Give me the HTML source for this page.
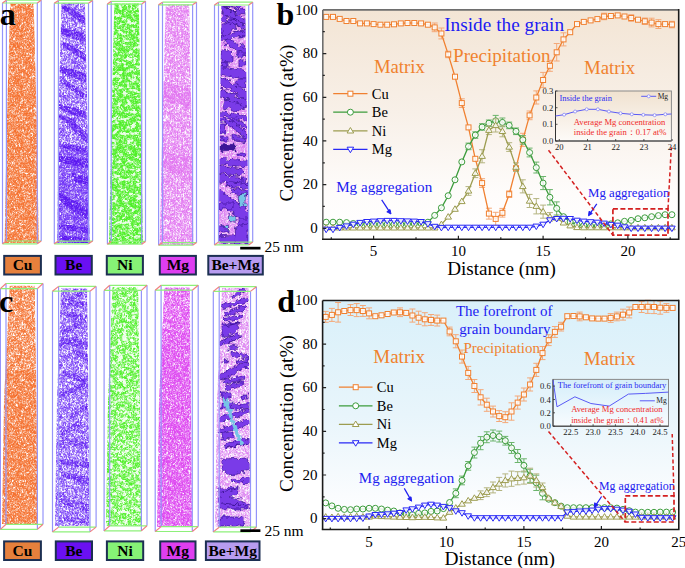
<!DOCTYPE html>
<html><head><meta charset="utf-8"><style>
html,body{margin:0;padding:0;background:#fff;width:685px;height:568px;overflow:hidden}
svg{display:block;font-family:"Liberation Serif",serif}
</style></head><body>
<svg width="685" height="568" viewBox="0 0 685 568">
<defs>
<linearGradient id="gb" x1="0" y1="0" x2="0" y2="1">
 <stop offset="0" stop-color="#f3e5d5"/><stop offset="0.45" stop-color="#f8f0e8"/><stop offset="0.8" stop-color="#fefcfb"/><stop offset="1" stop-color="#ffffff"/>
</linearGradient>
<linearGradient id="gd" x1="0" y1="0" x2="0" y2="1">
 <stop offset="0" stop-color="#d9f0fa"/><stop offset="0.5" stop-color="#e8f5fb"/><stop offset="0.85" stop-color="#fafcfe"/><stop offset="1" stop-color="#ffffff"/>
</linearGradient>
<linearGradient id="gbi" x1="0" y1="0" x2="0" y2="1">
 <stop offset="0" stop-color="#f0e2d0"/><stop offset="1" stop-color="#fdfbf8"/>
</linearGradient>
<linearGradient id="gdi" x1="0" y1="0" x2="0" y2="1">
 <stop offset="0" stop-color="#d5eefa"/><stop offset="1" stop-color="#f8fcfe"/>
</linearGradient>
<filter id="spw" x="0" y="0" width="100%" height="100%" color-interpolation-filters="sRGB">
 <feTurbulence type="fractalNoise" baseFrequency="0.55" numOctaves="2" seed="3"/>
 <feColorMatrix type="matrix" values="0 0 0 0 1  0 0 0 0 1  0 0 0 0 1  5 0 0 0 -2.0"/>
 <feGaussianBlur stdDeviation="0.35"/>
</filter>
<filter id="spn" x="0" y="0" width="100%" height="100%" color-interpolation-filters="sRGB">
 <feTurbulence type="fractalNoise" baseFrequency="0.22 0.28" numOctaves="3" seed="8"/>
 <feColorMatrix type="matrix" values="0 0 0 0 1  0 0 0 0 1  0 0 0 0 1  7 0 0 0 -3.7"/>
 <feGaussianBlur stdDeviation="0.5"/>
</filter>
<filter id="bl" x="-2%" y="-2%" width="104%" height="104%"><feGaussianBlur stdDeviation="0.45"/></filter>
<filter id="wob" x="-5%" y="-5%" width="110%" height="110%">
 <feTurbulence type="fractalNoise" baseFrequency="0.22" numOctaves="2" seed="4"/>
 <feDisplacementMap in="SourceGraphic" scale="7" xChannelSelector="R" yChannelSelector="G"/>
</filter>
<pattern id="P1" patternUnits="userSpaceOnUse" width="48" height="52"><path d="M6.4 44.1h.8M36.7 13.3h.8M23.8 23.4h.8M31.3 41.0h.8M4.5 1.5h.8M40.1 22.5h.8M36.6 0.1h.8M21.4 37.5h.8M11.0 49.2h.8M43.3 1.6h.8M1.2 28.2h.8M45.1 19.8h.8M10.4 22.0h.8M1.4 11.5h.8M21.0 25.8h.8M11.2 12.0h.8M10.5 23.9h.8M13.9 1.1h.8M40.2 28.9h.8M30.8 9.7h.8M47.6 44.7h.8M5.8 17.3h.8M34.6 37.0h.8M44.9 21.9h.8M39.8 34.9h.8M14.6 30.6h.8M42.4 44.0h.8M24.3 30.6h.8M1.7 12.6h.8M38.3 21.5h.8M8.3 28.5h.8M33.7 35.1h.8M18.0 22.8h.8M24.4 40.5h.8M25.0 20.4h.8M23.5 1.5h.8M2.1 36.6h.8M47.2 30.8h.8M18.9 8.9h.8M24.1 51.1h.8M37.0 28.1h.8M41.3 12.1h.8M24.7 49.5h.8M27.7 23.9h.8M12.9 28.5h.8M45.9 0.3h.8M37.6 42.7h.8M42.5 38.5h.8M38.8 27.0h.8M26.9 22.2h.8M2.7 45.2h.8M27.4 10.4h.8M24.2 25.2h.8M17.1 18.0h.8M25.8 32.4h.8M29.4 23.8h.8M1.3 11.9h.8M8.5 30.4h.8M41.3 41.5h.8M38.3 42.5h.8M12.3 43.8h.8M32.3 4.3h.8M0.8 0.8h.8M36.3 13.0h.8M5.3 32.5h.8M16.5 3.6h.8M7.7 27.4h.8M8.1 14.2h.8M34.2 23.6h.8M15.5 24.6h.8M1.1 20.1h.8M20.2 9.8h.8M5.2 46.8h.8M24.5 10.9h.8M29.1 42.5h.8M1.0 0.9h.8M7.0 37.4h.8M7.7 36.6h.8M32.6 28.3h.8M10.6 50.7h.8M38.3 26.9h.8M10.7 33.7h.8M19.0 29.9h.8M15.4 32.8h.8M2.8 15.5h.8M46.5 45.5h.8M14.7 44.6h.8M14.9 48.8h.8M35.7 21.6h.8M12.1 0.4h.8M42.2 2.0h.8M39.3 50.0h.8M27.4 8.9h.8M41.7 50.6h.8M33.8 26.5h.8M18.1 18.0h.8M9.9 35.1h.8M20.8 10.1h.8M5.0 34.6h.8M14.2 26.0h.8M15.6 45.3h.8M43.2 0.9h.8M9.6 17.0h.8M47.4 40.7h.8M16.3 11.1h.8M32.4 43.6h.8M44.7 17.9h.8M42.4 35.7h.8M23.3 51.2h.8M11.3 37.7h.8M4.1 8.8h.8M43.7 11.1h.8M36.4 31.2h.8M40.4 19.1h.8M16.3 15.1h.8M41.6 31.4h.8M45.8 46.1h.8M6.5 28.7h.8M5.0 2.0h.8M3.5 45.0h.8M37.8 43.1h.8M16.4 32.0h.8M37.5 19.7h.8M27.4 11.6h.8M3.9 13.9h.8M42.8 29.4h.8M44.4 23.8h.8M13.3 40.9h.8M39.7 0.6h.8M32.2 4.8h.8M5.5 46.0h.8M1.9 12.5h.8M47.4 21.9h.8M5.5 8.7h.8M11.6 38.7h.8M4.9 47.4h.8M18.2 50.5h.8M43.6 15.3h.8M12.2 24.8h.8M4.8 33.9h.8M1.9 0.5h.8M47.2 15.4h.8M28.6 23.4h.8M15.0 3.3h.8M43.8 50.4h.8M46.6 5.8h.8M10.3 32.1h.8M47.0 28.2h.8M33.0 34.4h.8M12.4 28.2h.8M14.8 12.8h.8M3.9 14.6h.8M47.2 23.3h.8M31.3 33.5h.8M45.2 20.3h.8M14.7 17.0h.8M15.2 44.1h.8M42.9 15.7h.8M16.0 28.3h.8M27.8 31.0h.8M11.8 1.1h.8M11.7 3.8h.8M26.5 3.7h.8M3.6 33.0h.8M14.0 41.2h.8M23.7 44.9h.8M7.4 26.1h.8M38.2 4.0h.8M45.6 9.0h.8M37.3 51.2h.8M39.4 16.6h.8M5.1 26.7h.8M44.1 15.3h.8M42.9 7.4h.8M43.7 1.7h.8M15.2 47.0h.8M38.6 47.2h.8M40.4 38.8h.8M33.1 9.3h.8M20.8 8.2h.8M34.3 34.7h.8M12.1 3.3h.8M46.2 42.0h.8M26.4 28.2h.8M40.9 23.6h.8M19.0 17.6h.8M12.4 1.3h.8M31.0 21.7h.8M27.4 3.2h.8M17.0 7.2h.8M6.0 13.5h.8M39.8 20.7h.8M19.3 31.8h.8M11.2 0.4h.8M25.4 26.0h.8M31.1 22.8h.8M33.0 38.0h.8M11.4 25.7h.8M23.0 11.7h.8M19.8 29.1h.8M43.5 47.7h.8M13.2 33.6h.8M2.3 3.7h.8M24.6 45.6h.8M7.7 39.8h.8M42.4 16.2h.8M33.2 44.1h.8M17.8 36.5h.8M35.3 30.9h.8M41.1 46.6h.8M46.1 29.7h.8M8.5 13.0h.8M10.4 29.6h.8M36.4 2.7h.8M32.7 37.3h.8M16.7 26.8h.8M7.9 38.0h.8M2.0 51.0h.8M38.8 32.7h.8M12.8 47.5h.8M46.1 7.2h.8M37.2 43.8h.8M31.7 36.4h.8M21.4 48.1h.8M46.6 19.9h.8M38.5 22.5h.8M7.9 16.9h.8M6.1 47.3h.8M46.1 6.2h.8M28.8 21.2h.8M5.7 15.4h.8M11.9 39.0h.8M0.2 9.9h.8M21.1 1.1h.8M30.1 31.5h.8M40.1 10.7h.8M13.7 28.2h.8M13.1 30.5h.8M12.0 35.5h.8M38.0 42.1h.8M46.7 28.4h.8M23.6 44.5h.8M36.9 29.7h.8M18.4 14.8h.8M5.2 42.0h.8M5.7 38.9h.8M26.2 50.2h.8M36.5 50.6h.8M6.6 26.0h.8M27.5 16.2h.8M24.1 18.6h.8M25.4 0.0h.8M21.2 23.4h.8M14.6 20.8h.8M37.6 35.5h.8M23.6 33.7h.8M18.1 10.6h.8M0.2 14.4h.8M28.7 45.8h.8M39.8 26.6h.8M47.4 24.0h.8M40.1 21.3h.8M35.7 51.4h.8M14.7 8.9h.8M29.8 27.6h.8M17.3 0.2h.8M18.7 22.1h.8M19.5 44.8h.8M28.1 38.2h.8M43.1 38.9h.8M23.6 38.8h.8M30.7 33.7h.8M30.2 21.2h.8M30.2 33.0h.8M45.0 40.7h.8M40.6 39.9h.8M39.1 31.5h.8M16.8 13.8h.8M34.0 45.4h.8M26.1 7.9h.8M40.0 25.2h.8M22.4 2.4h.8M24.5 38.7h.8M20.3 18.5h.8M31.5 1.0h.8M24.3 49.2h.8M33.1 20.9h.8M33.1 31.5h.8M10.0 10.8h.8M42.5 14.0h.8M3.6 43.2h.8M25.1 19.1h.8M24.6 38.3h.8M8.1 34.0h.8M34.2 42.4h.8M12.9 31.7h.8M11.1 29.2h.8M8.3 41.1h.8M41.6 17.1h.8M10.7 50.1h.8M33.9 43.9h.8M1.5 46.8h.8M29.9 16.5h.8M20.7 39.6h.8M37.7 9.9h.8M30.0 8.6h.8M46.7 23.1h.8M43.8 37.9h.8M29.1 13.6h.8M25.3 7.2h.8M6.6 37.2h.8M17.3 39.1h.8M11.5 37.3h.8M34.5 15.9h.8M5.1 20.6h.8M23.6 5.2h.8M9.0 2.9h.8M28.7 46.2h.8M10.4 1.8h.8M33.8 42.4h.8M46.3 31.9h.8M16.4 43.6h.8M5.7 36.0h.8M4.6 20.8h.8M23.8 19.7h.8M8.1 12.0h.8M39.4 24.1h.8M27.8 11.0h.8M34.3 17.2h.8M28.5 47.3h.8M47.7 2.4h.8M38.3 44.6h.8M15.3 19.9h.8M27.9 47.8h.8M19.2 45.8h.8M36.4 7.9h.8M43.9 0.8h.8M7.0 34.6h.8M2.7 19.7h.8M6.2 24.1h.8M40.3 47.1h.8M1.7 3.2h.8M40.3 2.2h.8M13.1 6.1h.8M4.4 1.4h.8M30.6 38.7h.8M33.0 44.0h.8M31.8 20.3h.8M30.3 50.4h.8M30.8 12.6h.8M2.9 48.6h.8M28.3 18.2h.8M29.1 29.1h.8M25.1 3.2h.8M17.0 21.5h.8M9.6 45.8h.8M20.4 34.4h.8M34.3 38.7h.8M34.6 39.1h.8M12.1 50.8h.8M7.2 47.8h.8M41.0 44.3h.8M2.5 4.7h.8M39.0 24.4h.8M17.8 51.2h.8M1.9 27.6h.8M21.3 6.7h.8M19.0 36.8h.8M42.4 1.3h.8M25.2 4.7h.8M38.4 4.5h.8M1.6 20.0h.8M35.2 16.3h.8M6.2 41.3h.8M38.7 44.5h.8M14.6 22.1h.8M11.8 29.0h.8M15.8 17.6h.8M37.6 49.7h.8M28.0 5.4h.8M31.3 23.3h.8M47.4 37.4h.8M40.1 36.5h.8M25.7 46.6h.8M39.9 15.1h.8M7.5 19.3h.8M25.0 5.1h.8M16.6 29.9h.8M2.1 42.4h.8M31.3 16.3h.8M14.3 18.3h.8M15.6 38.9h.8M24.1 27.4h.8M7.1 47.5h.8M15.6 17.0h.8M3.3 50.9h.8M23.0 47.5h.8M44.5 50.4h.8M39.2 48.1h.8M44.3 41.7h.8M6.5 27.2h.8M27.6 51.6h.8M37.6 36.6h.8M35.8 18.8h.8M45.2 33.5h.8M19.3 24.2h.8M47.0 27.7h.8M8.1 7.7h.8M33.0 29.3h.8M43.5 9.6h.8M19.7 37.9h.8M2.4 5.2h.8M26.2 13.8h.8M5.1 13.6h.8M30.3 27.4h.8M3.8 3.8h.8M40.8 33.4h.8M8.3 44.8h.8M1.0 19.1h.8M40.7 36.9h.8M13.6 46.3h.8M28.7 45.0h.8M42.9 22.1h.8M32.4 28.3h.8M45.3 41.5h.8M34.8 42.3h.8M47.9 13.3h.8M9.7 38.8h.8M37.0 26.7h.8M23.4 21.0h.8M42.4 41.4h.8M28.1 2.1h.8M40.9 23.8h.8M9.1 15.6h.8M33.2 0.3h.8M5.8 15.7h.8M42.6 38.8h.8M46.6 28.2h.8M27.5 28.7h.8M25.2 28.2h.8M39.3 49.6h.8M19.6 32.8h.8M14.8 15.7h.8M24.3 30.5h.8M26.4 50.8h.8M7.8 33.1h.8M47.7 38.3h.8M27.2 19.2h.8M19.3 48.7h.8M43.0 34.8h.8M43.1 48.1h.8M40.6 19.9h.8M22.3 41.4h.8M17.9 39.0h.8M23.1 17.5h.8M21.9 6.1h.8M17.0 21.6h.8M0.9 8.9h.8M12.5 44.6h.8M28.3 14.9h.8M47.9 13.4h.8M24.7 38.5h.8M33.2 22.5h.8M37.3 25.3h.8M34.3 25.6h.8M46.6 37.2h.8M4.4 6.7h.8M46.4 11.9h.8M1.3 13.2h.8M23.0 49.5h.8M19.2 37.6h.8M40.0 4.6h.8M29.4 51.8h.8M26.4 27.8h.8M16.6 49.2h.8M46.5 5.4h.8M26.5 21.8h.8M32.2 6.2h.8M12.7 14.5h.8M23.0 41.3h.8M41.2 40.9h.8M32.5 4.5h.8M18.7 34.8h.8M14.1 26.4h.8M43.4 6.0h.8M41.0 5.5h.8M18.5 47.1h.8M9.7 27.1h.8M20.0 46.2h.8M47.6 15.0h.8M23.6 46.5h.8M26.2 11.2h.8M36.5 17.5h.8M23.3 0.4h.8M47.5 34.2h.8M44.4 50.4h.8M12.8 28.1h.8M21.1 39.5h.8M40.4 11.9h.8M13.2 36.7h.8M19.8 6.8h.8M9.4 29.2h.8M28.7 49.9h.8M25.6 31.7h.8M7.1 21.5h.8M13.4 36.2h.8M12.8 11.1h.8M17.6 24.5h.8M16.2 31.5h.8M8.7 45.8h.8M33.3 27.8h.8M2.8 17.0h.8M33.1 33.5h.8M39.0 46.4h.8M15.1 25.7h.8M15.8 6.7h.8M6.7 13.3h.8M4.2 28.0h.8M33.7 29.3h.8M32.9 11.8h.8M9.6 29.5h.8M42.4 22.0h.8M0.2 1.0h.8M14.7 32.0h.8M4.1 11.7h.8M32.7 51.2h.8M16.4 31.3h.8M24.9 1.2h.8M15.8 7.3h.8M12.0 40.0h.8M32.7 2.1h.8M3.7 37.7h.8M5.0 16.5h.8M12.9 2.6h.8M1.5 7.2h.8M19.2 48.6h.8M30.6 12.6h.8M32.6 14.2h.8M24.7 16.7h.8M45.5 18.3h.8M38.6 33.3h.8M40.5 31.5h.8M41.8 21.1h.8M32.6 32.3h.8M25.3 29.4h.8M25.7 20.5h.8M43.1 32.9h.8M26.4 2.8h.8M24.4 9.1h.8M10.3 22.6h.8M26.2 13.0h.8M13.0 27.6h.8M22.7 21.0h.8M5.0 19.4h.8M31.4 28.3h.8M26.1 43.9h.8M34.7 35.6h.8M1.5 16.0h.8M32.8 8.1h.8M43.8 7.4h.8M42.2 11.2h.8M40.4 44.1h.8M16.1 46.2h.8M7.7 44.2h.8M18.3 22.9h.8M5.7 31.3h.8M12.9 34.7h.8M38.4 31.4h.8M0.4 49.5h.8M44.1 33.4h.8M18.2 29.2h.8M42.4 23.9h.8M37.4 31.1h.8M20.3 48.5h.8M19.6 31.5h.8M2.6 24.5h.8M1.8 36.6h.8M0.0 2.2h.8M5.3 7.3h.8M24.4 18.5h.8M13.0 51.1h.8M43.6 34.1h.8M38.5 42.6h.8M11.8 42.0h.8M11.5 29.2h.8M17.2 8.3h.8M37.3 47.6h.8M15.1 45.7h.8M16.6 34.2h.8M47.8 40.1h.8M2.7 22.6h.8M18.1 15.3h.8M39.2 22.9h.8M33.6 33.0h.8M24.9 2.9h.8M32.3 46.4h.8M8.3 33.4h.8M23.4 17.7h.8M34.1 50.7h.8M1.0 46.7h.8M18.4 43.4h.8M8.4 37.3h.8M4.8 17.5h.8M46.6 34.1h.8M37.7 24.0h.8M22.6 25.6h.8M37.1 37.6h.8M9.3 22.9h.8M26.0 29.7h.8M44.5 43.7h.8M7.2 19.6h.8M5.2 1.4h.8M3.6 9.5h.8M36.8 34.7h.8M38.3 15.0h.8M7.5 50.5h.8M39.6 49.2h.8M0.9 20.6h.8M30.4 38.3h.8M43.8 28.0h.8M18.8 0.3h.8M38.6 51.1h.8M43.5 34.4h.8M16.4 12.4h.8M37.2 48.6h.8M46.1 9.1h.8M28.1 26.7h.8M20.5 41.3h.8M44.9 37.7h.8M33.6 35.9h.8M31.4 27.9h.8M11.9 40.5h.8M5.7 33.5h.8M18.6 29.1h.8M30.8 24.9h.8M46.9 12.4h.8M0.6 49.7h.8M15.0 14.5h.8M19.9 30.9h.8M47.3 36.8h.8M15.3 27.8h.8M21.5 26.1h.8M20.0 8.7h.8M19.0 20.2h.8M9.6 42.5h.8M17.3 7.9h.8M27.2 43.9h.8M37.5 32.3h.8M35.1 17.5h.8M6.9 13.3h.8M16.8 14.5h.8M22.5 7.7h.8M6.3 13.1h.8M9.4 41.7h.8M25.8 10.3h.8M20.6 45.3h.8M27.7 28.8h.8M18.8 10.2h.8M30.0 4.0h.8M37.7 3.0h.8M35.8 19.9h.8M32.8 30.7h.8M6.2 28.0h.8M3.6 12.5h.8M18.3 14.9h.8M31.8 51.3h.8M17.1 43.6h.8M10.8 36.9h.8M16.7 27.8h.8M4.3 43.0h.8M10.0 24.1h.8M13.9 42.1h.8M28.4 32.0h.8M36.2 13.3h.8M2.8 43.1h.8M15.1 42.2h.8M45.9 32.7h.8M5.0 44.4h.8M30.4 12.8h.8M10.0 26.4h.8M5.8 47.1h.8M34.0 42.6h.8M18.4 48.0h.8M6.4 37.2h.8M12.2 0.2h.8M5.8 10.5h.8M36.6 19.7h.8M23.1 31.9h.8M12.8 33.2h.8M32.2 47.9h.8M24.1 44.5h.8M46.5 40.0h.8M20.2 14.1h.8M4.7 43.2h.8M6.2 29.1h.8M21.8 2.3h.8M10.3 42.8h.8M25.9 48.1h.8M43.6 4.9h.8M32.5 2.2h.8M20.3 23.0h.8M45.9 31.0h.8M9.1 26.5h.8M25.0 10.2h.8M17.3 45.6h.8M47.1 40.4h.8M3.1 47.1h.8M22.0 43.4h.8M8.5 7.7h.8M43.5 14.8h.8M2.1 26.1h.8M47.5 43.4h.8M19.0 51.6h.8M38.2 43.8h.8M31.0 20.5h.8M43.5 24.5h.8M44.9 28.7h.8M43.7 24.8h.8M20.5 30.6h.8M15.2 7.8h.8M28.3 44.3h.8M13.3 45.0h.8M37.8 40.3h.8M19.9 51.9h.8M38.0 29.9h.8M5.4 29.8h.8M0.7 46.9h.8M16.2 19.2h.8M26.4 33.1h.8M28.0 25.2h.8M30.4 44.1h.8M21.4 26.0h.8M38.9 0.2h.8M7.7 16.9h.8M10.3 46.6h.8M7.1 5.6h.8M15.2 26.4h.8M39.4 51.8h.8M40.9 31.7h.8M1.8 3.3h.8M30.3 42.6h.8M12.7 50.4h.8M26.4 29.8h.8M29.7 3.9h.8M8.2 48.7h.8M12.8 4.3h.8M13.6 37.8h.8M12.6 11.0h.8M13.3 25.0h.8M35.4 15.7h.8M41.9 50.7h.8M39.5 3.9h.8M15.1 48.1h.8M41.3 6.9h.8M21.2 18.9h.8M35.9 1.5h.8M15.1 39.0h.8M42.6 2.1h.8M28.2 34.5h.8M41.9 22.1h.8M46.7 10.3h.8M5.5 6.8h.8M28.2 6.4h.8M12.8 10.2h.8M2.7 50.0h.8M16.1 50.1h.8M34.7 11.4h.8M44.8 0.5h.8M47.1 1.7h.8M12.2 28.7h.8M0.4 39.8h.8M4.1 42.5h.8M1.7 27.5h.8M10.1 15.0h.8M23.5 19.3h.8M18.8 34.0h.8M9.4 9.4h.8M32.9 15.4h.8M44.8 22.2h.8M22.8 1.2h.8M1.0 5.4h.8M30.0 34.6h.8M45.7 22.5h.8M34.0 17.9h.8M3.6 21.8h.8M33.7 41.8h.8M45.7 43.3h.8M27.1 28.6h.8M24.1 24.8h.8M32.7 29.9h.8M41.1 23.4h.8M22.6 43.3h.8M32.4 27.3h.8M27.0 41.9h.8M29.2 13.5h.8M14.9 31.4h.8M2.2 23.8h.8M42.8 12.1h.8M21.3 36.4h.8M44.4 36.2h.8M30.0 20.0h.8M21.0 33.4h.8M17.1 40.8h.8M0.4 39.1h.8M35.6 15.9h.8M0.7 17.6h.8M28.3 40.9h.8M41.8 10.8h.8M3.9 6.2h.8M47.5 33.6h.8M6.2 35.9h.8M46.1 31.6h.8M11.2 50.0h.8M33.6 9.5h.8M36.8 26.2h.8M27.6 19.0h.8M14.1 21.9h.8M25.3 24.0h.8M41.6 3.9h.8M9.6 48.8h.8M29.2 32.1h.8M30.2 12.7h.8M18.9 10.9h.8M7.3 51.5h.8M35.7 45.7h.8M0.1 36.6h.8M14.7 25.9h.8M32.4 1.6h.8M17.8 28.8h.8M42.0 26.7h.8M15.2 31.4h.8M28.0 15.2h.8M26.3 14.4h.8M0.5 16.2h.8M4.1 25.6h.8M24.1 45.3h.8M35.9 39.0h.8M47.5 13.8h.8M17.9 12.0h.8M4.9 26.8h.8M24.5 6.7h.8M44.3 50.9h.8M3.3 0.2h.8M3.0 38.0h.8M40.9 3.4h.8M0.4 28.0h.8M16.0 1.0h.8M0.4 11.0h.8M9.6 15.4h.8M26.4 13.1h.8M11.2 11.0h.8M42.6 12.4h.8M26.7 23.5h.8M15.9 21.2h.8M0.8 9.6h.8M30.7 39.6h.8M10.5 9.2h.8M43.5 5.1h.8M38.2 45.7h.8M7.0 43.3h.8M7.2 2.2h.8M13.7 17.9h.8M28.3 23.0h.8M38.1 34.6h.8M5.7 10.5h.8M35.8 6.0h.8M45.7 42.2h.8M10.6 14.9h.8M12.1 22.0h.8M11.9 1.7h.8M12.1 10.1h.8M16.8 23.6h.8M42.0 34.3h.8M29.5 45.0h.8M18.6 22.2h.8M11.7 43.2h.8M42.1 47.4h.8M29.0 5.9h.8M3.5 41.5h.8M42.5 27.7h.8M44.2 48.4h.8M36.2 19.3h.8M21.9 18.3h.8M19.0 24.5h.8M0.8 6.6h.8M8.1 29.5h.8M41.8 37.0h.8M7.2 23.8h.8M30.1 7.0h.8M3.8 31.8h.8M11.3 33.5h.8M8.2 44.5h.8M14.9 22.3h.8M26.4 46.1h.8M44.0 43.9h.8M32.9 3.6h.8M9.0 27.8h.8M47.3 37.8h.8M9.2 18.5h.8M46.2 26.4h.8M41.8 44.6h.8M37.5 32.6h.8M32.0 17.8h.8M5.8 49.3h.8M1.6 14.1h.8M29.5 50.2h.8M10.1 12.8h.8M40.7 17.0h.8M19.3 18.7h.8M2.4 49.0h.8M33.5 0.4h.8M4.7 7.0h.8M17.7 46.3h.8M6.8 11.9h.8M14.9 26.6h.8M43.3 28.1h.8M43.4 28.2h.8M20.7 45.3h.8M27.9 24.7h.8M24.6 18.5h.8M20.8 3.9h.8M9.9 39.7h.8M6.4 10.8h.8M7.9 18.9h.8M2.4 18.7h.8M29.3 35.3h.8M41.6 4.5h.8M30.9 10.2h.8M16.4 29.9h.8M40.2 34.9h.8M47.3 0.9h.8M15.2 25.0h.8M1.7 2.7h.8M17.6 29.1h.8M6.5 3.6h.8M15.3 38.6h.8M27.2 51.8h.8M29.0 46.3h.8M27.5 25.0h.8M19.9 3.7h.8M3.0 34.2h.8M41.2 1.0h.8M8.7 17.0h.8M15.0 43.4h.8M12.1 15.9h.8M23.4 49.4h.8M14.1 33.0h.8M2.3 22.4h.8M44.5 11.3h.8M17.1 34.0h.8M27.1 30.0h.8M29.2 35.1h.8M15.5 18.3h.8M19.1 27.2h.8M27.2 45.4h.8M19.0 23.4h.8M40.0 50.5h.8M11.7 38.0h.8M11.9 38.5h.8M1.8 26.4h.8M27.4 36.4h.8M44.0 41.3h.8M27.0 25.9h.8M0.6 28.7h.8M27.0 38.6h.8M7.9 30.6h.8M2.5 37.7h.8M39.4 22.8h.8M33.0 34.4h.8M14.6 4.6h.8M36.4 18.6h.8M7.7 23.0h.8M40.0 49.6h.8M27.2 50.4h.8M8.3 25.5h.8M0.4 12.2h.8M42.1 3.1h.8M31.4 26.5h.8M47.4 51.7h.8M5.9 13.6h.8M47.6 17.2h.8M8.7 47.4h.8M29.6 16.0h.8M26.6 22.2h.8M22.0 28.7h.8M8.1 32.0h.8M45.8 30.8h.8M37.8 14.7h.8M7.4 0.3h.8M47.1 6.2h.8M18.2 34.0h.8M35.3 32.1h.8M21.1 42.4h.8M21.2 43.4h.8M2.6 37.5h.8M4.7 20.2h.8M21.3 9.5h.8M21.5 44.4h.8M1.7 10.1h.8M46.8 23.4h.8M18.7 47.5h.8M37.2 9.0h.8M28.7 9.4h.8M37.2 28.9h.8M38.3 3.4h.8M44.5 12.0h.8M40.8 23.0h.8M42.7 5.3h.8M2.6 24.4h.8M44.7 24.2h.8M24.4 8.5h.8M26.0 22.2h.8M42.6 38.5h.8M22.9 7.7h.8M7.0 50.5h.8M29.3 11.7h.8M38.9 11.2h.8M21.8 45.6h.8M5.0 5.4h.8M2.5 7.9h.8M18.0 16.7h.8M13.4 0.7h.8M23.4 23.2h.8M35.6 15.8h.8M27.9 16.3h.8M36.1 9.1h.8M23.5 23.2h.8M22.0 28.0h.8M25.7 16.5h.8M39.6 49.5h.8M26.8 33.0h.8M34.7 16.6h.8M28.4 24.1h.8M23.3 20.5h.8M25.7 11.3h.8M11.6 10.4h.8M28.5 12.8h.8M37.5 47.1h.8M36.5 17.1h.8M45.2 17.9h.8M17.4 31.0h.8M31.7 21.3h.8M37.8 44.4h.8M13.9 11.7h.8M19.1 36.3h.8M32.2 9.1h.8M18.7 46.9h.8M46.1 31.4h.8M37.4 43.7h.8M10.7 3.4h.8M29.3 20.0h.8M34.1 15.3h.8M20.8 42.0h.8M4.5 21.2h.8M7.4 27.7h.8M35.2 51.3h.8M36.2 7.5h.8M21.0 28.2h.8M30.6 36.4h.8M46.7 49.0h.8M10.0 8.2h.8M46.6 8.3h.8M46.5 6.2h.8M28.1 6.8h.8M6.4 17.4h.8M38.1 36.5h.8M15.2 7.1h.8M17.2 9.1h.8M11.3 25.8h.8M23.5 48.0h.8M4.3 27.7h.8M27.1 7.4h.8M17.3 7.2h.8M42.9 18.1h.8M3.1 24.7h.8M25.4 46.1h.8M34.5 10.7h.8M43.6 0.3h.8M33.5 2.2h.8M39.3 9.8h.8M38.3 42.3h.8M37.0 5.7h.8M19.2 5.4h.8M34.5 51.7h.8M25.1 33.9h.8M32.0 7.4h.8M17.8 18.1h.8M36.0 21.4h.8M17.7 28.5h.8M9.9 3.4h.8M11.4 1.1h.8M32.1 23.8h.8M29.6 29.5h.8M2.6 42.4h.8M39.3 0.4h.8M20.6 40.9h.8M19.9 44.7h.8M33.4 34.4h.8M43.5 40.5h.8M28.1 2.5h.8M21.8 35.8h.8M25.1 30.4h.8M16.8 43.7h.8M11.8 33.3h.8M21.0 7.7h.8M0.9 6.8h.8M13.8 24.6h.8M1.3 3.5h.8M38.2 51.0h.8M20.7 24.4h.8M28.9 5.0h.8M25.9 35.0h.8M45.3 33.4h.8M26.2 21.3h.8M43.8 27.2h.8M22.9 38.2h.8M21.0 3.5h.8M28.4 45.0h.8M17.7 5.0h.8M5.1 47.1h.8M5.3 34.0h.8M4.2 26.6h.8M43.7 12.2h.8M14.8 31.8h.8M27.5 29.1h.8M18.8 2.1h.8M28.6 14.4h.8M29.8 22.8h.8M12.9 51.8h.8M15.4 50.5h.8M22.9 27.8h.8M12.9 9.0h.8M33.9 23.7h.8M28.1 9.5h.8M24.5 34.3h.8M36.5 34.7h.8M19.9 35.6h.8M28.6 24.8h.8M30.3 15.9h.8M3.0 7.7h.8M46.7 46.4h.8M39.7 13.5h.8M40.3 41.1h.8M26.0 15.8h.8M5.1 51.9h.8M47.9 44.2h.8M21.4 37.9h.8M43.7 28.2h.8M6.0 50.8h.8M25.8 40.0h.8M29.9 3.4h.8M22.2 0.6h.8M12.8 50.0h.8M33.2 29.4h.8M5.4 35.6h.8M29.1 33.1h.8M33.0 48.3h.8M21.5 31.8h.8M25.4 30.6h.8M32.6 9.8h.8M2.7 6.0h.8M2.1 28.9h.8M14.6 40.8h.8M7.8 7.8h.8M41.5 4.7h.8M16.9 35.9h.8M27.0 13.9h.8M6.5 30.0h.8M11.9 44.5h.8M12.7 48.5h.8M1.0 31.8h.8M13.6 24.7h.8M21.0 42.1h.8M8.9 39.9h.8M1.6 33.1h.8M39.5 22.3h.8M40.8 18.4h.8M17.0 47.4h.8M47.5 41.0h.8M11.0 49.0h.8M17.5 45.1h.8M15.5 11.3h.8M12.4 35.9h.8M47.0 27.1h.8M5.1 35.6h.8M43.1 40.6h.8M0.1 16.2h.8M37.3 36.5h.8M47.8 46.7h.8M38.3 35.9h.8M18.3 1.8h.8M36.9 23.8h.8M41.5 6.9h.8M41.1 33.6h.8M42.5 36.5h.8M20.9 26.8h.8M4.7 12.6h.8M27.6 9.2h.8M17.2 33.4h.8M28.5 46.5h.8M20.8 28.8h.8M20.2 39.3h.8M30.0 49.2h.8M6.8 6.6h.8M14.0 32.0h.8M30.6 10.5h.8M13.0 31.0h.8M12.7 43.2h.8M5.1 40.7h.8M7.3 37.1h.8M37.5 49.1h.8M43.3 1.3h.8M31.7 47.3h.8M37.0 23.6h.8M36.0 14.8h.8M38.5 21.1h.8M46.6 1.5h.8M28.0 6.8h.8M36.8 50.5h.8M23.6 43.7h.8M11.2 1.5h.8M38.6 21.3h.8M4.0 35.0h.8M43.3 4.4h.8M29.3 18.1h.8M2.0 3.8h.8M2.2 15.9h.8M14.8 27.9h.8M29.8 44.2h.8M41.1 8.9h.8M30.1 45.6h.8M12.0 31.4h.8M47.4 33.0h.8M33.7 16.2h.8M47.6 43.2h.8M15.5 15.7h.8M0.2 25.0h.8M41.9 40.8h.8M7.1 12.6h.8M7.7 13.5h.8M9.7 8.6h.8M26.6 47.5h.8M41.0 32.3h.8M15.2 47.2h.8M10.1 2.0h.8M10.4 41.1h.8M33.6 16.2h.8M10.6 33.1h.8M24.6 41.3h.8M21.4 4.3h.8M3.4 12.0h.8M25.1 37.2h.8M26.7 0.5h.8M45.7 23.8h.8M25.9 10.0h.8M11.7 11.1h.8M29.1 47.3h.8M12.7 18.2h.8M13.8 1.5h.8M0.5 40.6h.8M46.9 2.2h.8M3.7 23.5h.8M14.6 12.8h.8M41.7 10.0h.8M9.3 47.1h.8M29.9 35.7h.8M32.1 1.3h.8M46.9 1.5h.8M10.9 24.7h.8M40.2 49.4h.8M0.4 7.2h.8M0.8 7.1h.8M43.9 4.4h.8M25.9 10.1h.8M0.4 14.5h.8M12.4 28.2h.8M41.9 27.6h.8M25.6 14.5h.8M8.6 24.9h.8M18.9 46.9h.8M10.0 1.3h.8M2.5 16.5h.8M10.5 20.6h.8M42.3 37.9h.8M28.5 43.3h.8M42.2 3.4h.8M33.1 6.8h.8M19.7 20.3h.8M13.0 2.3h.8M9.3 36.7h.8M46.0 47.3h.8M1.1 29.6h.8M9.2 27.1h.8M25.6 8.4h.8M4.2 25.0h.8M2.5 43.7h.8M42.7 0.8h.8M38.4 43.6h.8M1.9 30.5h.8M22.8 9.1h.8M39.3 29.4h.8M39.0 48.6h.8M46.6 34.5h.8M41.9 3.3h.8M16.2 24.7h.8M24.6 19.1h.8M39.2 30.3h.8M40.6 23.0h.8M45.2 18.5h.8M47.7 29.4h.8M18.1 32.3h.8M5.1 35.7h.8M28.8 41.9h.8M3.6 21.8h.8M28.1 3.2h.8M36.6 46.8h.8M30.0 39.7h.8M45.3 23.6h.8M24.6 46.2h.8M32.5 14.4h.8M28.3 39.9h.8M40.5 6.7h.8M8.0 35.7h.8M34.4 37.9h.8M23.5 20.0h.8M46.1 13.2h.8M13.8 1.3h.8M4.1 32.5h.8M31.8 11.4h.8M35.5 8.9h.8M17.9 33.1h.8M37.3 23.5h.8M38.8 24.5h.8M31.9 43.3h.8M27.0 29.3h.8M44.8 1.8h.8M0.9 1.9h.8M14.9 28.0h.8M29.7 35.4h.8M0.8 45.4h.8M11.4 50.3h.8M16.6 43.9h.8M34.2 1.2h.8M24.6 20.5h.8M47.7 12.1h.8M19.0 9.1h.8M0.2 28.0h.8M29.8 8.5h.8M40.2 11.5h.8M45.0 35.0h.8M46.6 22.8h.8M40.2 31.5h.8M34.3 21.3h.8M24.5 14.1h.8M16.2 48.1h.8M3.8 43.3h.8M36.0 8.4h.8M20.7 43.4h.8M24.4 26.4h.8M24.2 8.9h.8M47.6 38.9h.8M13.7 18.1h.8M34.0 45.2h.8M26.5 14.9h.8M17.2 28.3h.8M42.5 36.6h.8M10.8 1.0h.8M31.6 13.7h.8M42.1 8.3h.8M47.8 41.6h.8M12.1 0.8h.8M39.4 5.7h.8M7.3 20.0h.8M8.3 4.9h.8M26.4 34.0h.8M37.7 3.0h.8M2.5 24.6h.8M35.6 10.8h.8M28.6 5.7h.8M43.1 45.4h.8M44.9 20.2h.8M4.0 42.5h.8M21.2 18.2h.8M20.5 36.9h.8M34.9 22.7h.8M12.8 7.8h.8M2.5 50.0h.8M46.4 3.5h.8M28.5 50.6h.8M27.6 50.5h.8M7.0 37.4h.8M40.4 6.0h.8M9.8 49.2h.8M11.2 32.1h.8M43.8 37.0h.8M37.1 15.6h.8M40.8 7.2h.8M19.2 25.4h.8M33.8 1.8h.8M3.6 19.1h.8M7.5 47.3h.8M21.3 30.6h.8M20.5 44.7h.8M44.4 46.8h.8M3.9 31.8h.8M37.3 47.7h.8M26.7 24.4h.8M8.5 0.4h.8M1.2 14.5h.8M34.6 20.9h.8M26.0 14.1h.8M46.7 47.9h.8M12.7 20.0h.8M5.1 20.6h.8M11.6 37.8h.8M15.0 35.7h.8M1.3 36.8h.8M30.6 15.1h.8M37.0 44.9h.8M43.5 36.1h.8M21.1 30.4h.8M36.6 16.4h.8M42.4 40.9h.8M33.3 39.5h.8M2.5 42.3h.8M21.4 35.7h.8M31.2 22.0h.8M35.3 44.6h.8M47.7 0.9h.8M43.9 40.3h.8M28.6 39.6h.8M16.7 21.0h.8M1.9 48.3h.8M38.8 26.9h.8M29.4 42.8h.8M8.0 29.7h.8M34.7 30.3h.8M46.9 13.3h.8M32.6 40.5h.8M18.8 48.9h.8M19.8 7.6h.8M8.2 20.4h.8M47.4 47.6h.8M43.2 34.5h.8M24.2 33.4h.8M29.0 49.6h.8M18.9 20.4h.8M35.0 41.8h.8M35.5 8.3h.8M30.4 14.0h.8M13.2 13.3h.8M0.4 6.2h.8M32.2 41.4h.8M5.1 49.2h.8M22.4 40.7h.8M2.0 4.2h.8M39.1 5.0h.8M1.8 34.2h.8M2.1 21.6h.8M39.1 5.9h.8M40.4 47.3h.8M46.8 31.9h.8M39.4 8.3h.8M27.6 45.5h.8M41.5 8.9h.8M39.8 20.7h.8M24.6 41.5h.8M32.1 17.0h.8M41.1 48.4h.8M38.8 2.6h.8M0.7 29.9h.8M4.8 4.5h.8M41.8 2.5h.8M13.5 15.9h.8M44.8 49.2h.8M37.7 23.8h.8M5.6 50.1h.8M10.7 33.3h.8M37.4 26.5h.8M42.5 48.8h.8M17.6 36.9h.8M4.5 22.4h.8M32.3 14.3h.8M17.9 39.5h.8M10.1 48.0h.8M6.8 11.6h.8M29.5 12.0h.8M40.3 18.7h.8M6.1 34.8h.8M20.5 32.4h.8M5.4 2.8h.8M14.2 26.8h.8M9.6 10.8h.8M40.1 12.6h.8M16.7 45.3h.8M47.9 40.2h.8M6.7 39.8h.8M4.3 41.6h.8M13.2 11.4h.8M20.5 7.4h.8M32.0 42.8h.8M32.0 41.5h.8M7.7 14.2h.8M40.2 17.0h.8M35.9 29.5h.8M7.2 11.5h.8M44.3 46.9h.8M28.6 0.8h.8M0.8 48.8h.8M38.3 36.3h.8M12.5 47.3h.8M3.5 35.8h.8M33.0 19.3h.8M39.0 9.9h.8M46.2 48.5h.8M16.3 17.1h.8M38.2 17.8h.8M28.2 35.9h.8M45.4 39.2h.8M13.2 18.4h.8M3.6 41.8h.8M40.5 11.6h.8M22.7 18.0h.8M13.6 1.5h.8M28.5 49.4h.8M8.2 39.2h.8M37.1 27.8h.8M40.7 22.0h.8M29.8 3.5h.8M7.3 30.5h.8M40.4 24.7h.8M44.8 25.7h.8M19.7 40.7h.8M44.2 46.9h.8M31.7 11.2h.8M14.8 29.0h.8M1.7 15.5h.8M37.8 13.1h.8M31.1 15.8h.8M6.4 17.3h.8M15.4 14.5h.8M14.9 47.8h.8M27.6 25.9h.8M12.7 15.1h.8M38.4 17.4h.8M7.2 20.1h.8M32.3 48.9h.8M40.0 25.7h.8M8.1 46.1h.8M1.9 30.3h.8M46.6 16.5h.8M25.1 15.9h.8M19.9 5.7h.8M29.6 36.5h.8M6.2 0.5h.8M11.6 18.4h.8M20.9 37.0h.8M25.0 1.7h.8M0.9 23.1h.8M8.1 42.0h.8M35.8 41.8h.8M29.6 10.9h.8M38.0 15.0h.8M7.9 2.0h.8M18.7 49.7h.8M32.8 34.3h.8M18.2 22.7h.8M43.7 51.9h.8M16.0 30.6h.8M23.4 10.6h.8M24.5 4.6h.8M38.2 21.0h.8M31.4 40.6h.8M11.3 49.3h.8M47.4 25.2h.8M3.5 33.3h.8M32.6 11.3h.8M37.3 14.7h.8M12.5 4.4h.8M29.7 39.3h.8M33.3 15.9h.8M14.3 2.8h.8M8.4 13.2h.8M10.0 2.2h.8M19.2 0.5h.8M24.2 0.1h.8M18.3 5.0h.8M7.8 36.2h.8M3.5 40.6h.8M32.7 33.3h.8M25.5 37.6h.8M10.6 21.1h.8M0.9 0.2h.8M20.0 32.1h.8M46.3 43.6h.8M2.6 47.7h.8M19.0 21.5h.8M7.6 4.8h.8M21.7 28.3h.8M40.9 34.6h.8M9.2 31.0h.8M39.4 12.9h.8M14.0 13.4h.8M46.7 7.7h.8M30.4 18.8h.8M34.8 26.0h.8M10.5 44.7h.8M25.8 1.1h.8M10.5 8.8h.8M15.5 8.5h.8M31.0 31.6h.8M18.6 13.4h.8M30.5 19.5h.8M36.9 44.9h.8M34.5 48.8h.8M14.5 44.3h.8M19.5 44.6h.8M29.6 14.9h.8M13.5 44.6h.8M23.2 7.9h.8M27.8 7.4h.8M2.9 13.5h.8M37.2 10.8h.8M41.4 2.1h.8M16.2 0.2h.8M33.0 32.0h.8M37.7 42.4h.8M43.6 22.0h.8M17.6 31.6h.8M23.3 10.1h.8M20.8 20.4h.8M42.7 4.2h.8M34.9 36.7h.8M43.9 29.6h.8M33.9 6.4h.8M41.9 2.7h.8M29.2 5.9h.8M11.0 35.8h.8M18.4 35.7h.8M10.6 5.0h.8M16.6 26.3h.8M38.9 45.1h.8M18.2 49.0h.8M27.0 9.6h.8M24.2 35.4h.8M36.6 6.2h.8M46.7 29.0h.8M0.2 14.8h.8M39.9 2.8h.8M15.0 35.3h.8M6.1 37.3h.8M28.3 14.0h.8M38.9 3.8h.8M9.3 39.7h.8M28.9 11.3h.8M18.8 44.1h.8M8.3 3.4h.8M23.9 10.6h.8M32.8 12.7h.8M9.1 31.9h.8M46.1 28.5h.8M46.4 51.6h.8M36.1 29.9h.8M17.9 4.1h.8M25.4 9.3h.8M27.2 22.5h.8M26.7 29.9h.8M26.9 48.2h.8M26.6 6.1h.8M42.5 38.6h.8M17.7 23.1h.8M27.0 20.4h.8M32.1 51.9h.8M2.5 47.7h.8M47.5 44.9h.8M22.2 34.5h.8M22.4 19.4h.8M7.5 10.5h.8M22.9 14.7h.8M10.0 31.7h.8M13.6 43.3h.8M4.2 11.8h.8M20.4 11.1h.8M40.2 25.6h.8M3.0 10.6h.8M33.5 16.1h.8M14.4 11.0h.8M0.6 39.4h.8M15.6 12.7h.8M5.1 26.3h.8M35.5 49.2h.8M44.8 0.9h.8M23.8 25.2h.8M26.4 22.2h.8M44.5 30.9h.8M20.9 50.1h.8M24.9 0.4h.8M30.1 50.2h.8M31.4 10.4h.8M40.2 1.9h.8M40.7 7.0h.8M40.4 9.3h.8M7.0 13.1h.8M24.2 36.0h.8M24.6 3.7h.8M45.5 43.6h.8M17.6 2.0h.8M19.6 50.1h.8M45.8 8.8h.8M9.5 50.8h.8M16.3 36.2h.8M44.6 42.9h.8M38.6 31.9h.8M38.8 12.2h.8M43.4 11.1h.8M5.9 40.0h.8M47.6 39.5h.8M29.9 4.6h.8M25.4 9.3h.8M26.0 21.3h.8M6.7 28.3h.8M38.0 37.2h.8M6.7 48.7h.8M44.7 18.7h.8M46.9 9.9h.8M19.2 43.7h.8M4.1 20.5h.8M0.5 11.0h.8M17.1 43.4h.8M30.0 4.9h.8M38.2 39.5h.8M14.7 9.0h.8M35.3 48.8h.8M10.5 17.2h.8M16.0 50.3h.8M2.4 1.0h.8M8.7 24.0h.8M46.4 1.9h.8M38.3 27.3h.8M42.7 50.1h.8M34.5 13.0h.8M43.7 0.6h.8M47.4 21.5h.8M13.0 45.9h.8M23.9 20.1h.8M14.7 21.8h.8M11.9 26.9h.8M20.9 13.7h.8M0.3 7.9h.8M37.5 36.8h.8M44.3 7.8h.8M44.5 46.1h.8M16.8 49.6h.8M47.2 44.0h.8M26.7 45.3h.8M7.4 6.9h.8M6.7 36.1h.8M46.1 10.1h.8M6.6 46.0h.8M42.2 6.6h.8M1.6 14.5h.8M13.1 0.4h.8M7.0 43.4h.8M3.1 23.7h.8M34.4 37.1h.8M14.9 7.0h.8M20.5 18.7h.8M21.5 15.2h.8M22.8 50.7h.8M0.4 12.0h.8M40.8 26.0h.8M37.6 4.1h.8M47.5 0.1h.8M37.7 12.8h.8M34.2 41.8h.8M35.3 49.7h.8M10.7 44.3h.8M29.6 9.5h.8M10.5 4.7h.8M43.3 17.2h.8M16.7 6.3h.8M38.5 28.9h.8M9.8 41.4h.8M25.7 41.2h.8M33.9 22.4h.8M17.1 46.4h.8M8.7 5.3h.8M41.2 35.7h.8M44.4 31.8h.8M48.0 22.4h.8M3.0 34.6h.8M12.1 20.4h.8M17.7 17.0h.8M24.8 31.1h.8M3.4 46.4h.8M16.7 38.3h.8M16.6 6.2h.8M15.8 11.7h.8M14.6 34.7h.8M32.6 10.0h.8M33.9 32.0h.8M7.8 30.2h.8M2.7 34.4h.8M12.8 30.6h.8M45.0 36.7h.8M26.8 29.6h.8M11.9 24.4h.8M2.6 25.6h.8M46.5 26.2h.8M35.7 46.9h.8M27.2 6.8h.8M47.5 26.5h.8M20.5 3.3h.8M34.7 44.0h.8M25.5 9.6h.8M33.9 9.9h.8M16.7 12.4h.8M25.3 33.8h.8M26.8 8.6h.8M11.3 11.4h.8M24.5 50.1h.8M31.5 44.7h.8M4.3 1.3h.8M26.1 11.9h.8M16.0 38.0h.8M4.5 45.7h.8M19.8 30.9h.8M2.0 3.2h.8M32.3 2.0h.8M30.6 16.2h.8M14.4 49.7h.8M41.4 16.0h.8M18.5 15.3h.8M5.8 49.6h.8M31.2 37.2h.8M20.4 10.8h.8M30.3 12.8h.8M43.8 49.1h.8M46.5 11.2h.8M14.2 44.8h.8M22.3 29.0h.8M34.3 10.9h.8M22.2 4.3h.8M1.5 50.4h.8M34.7 32.3h.8M9.8 15.4h.8M44.1 51.7h.8M30.8 48.0h.8M18.9 43.9h.8M34.9 11.5h.8M44.2 0.7h.8M12.9 25.7h.8M45.0 18.3h.8M5.3 37.6h.8M32.2 6.2h.8M33.1 20.2h.8M20.2 48.9h.8M40.0 50.8h.8M33.7 20.1h.8M17.9 7.4h.8M3.3 26.6h.8M7.7 30.3h.8M10.2 26.1h.8M43.1 24.2h.8M44.4 15.6h.8M6.5 36.8h.8M20.8 34.8h.8M27.8 22.7h.8M17.4 11.3h.8M47.6 10.6h.8M22.1 46.4h.8M39.2 51.1h.8M29.9 14.8h.8M41.7 3.4h.8M45.2 23.3h.8M32.7 46.5h.8M24.9 42.7h.8M40.3 26.5h.8M43.7 12.9h.8M7.5 36.8h.8M39.6 21.4h.8M1.5 22.3h.8M10.8 3.7h.8M7.9 31.3h.8M18.2 41.4h.8M10.6 31.4h.8M12.9 14.8h.8M7.2 38.6h.8M13.5 34.9h.8M33.0 28.8h.8M31.8 35.5h.8M4.7 40.2h.8M24.9 42.4h.8M5.3 3.0h.8M31.0 16.0h.8M47.3 15.9h.8M21.7 17.9h.8M26.8 11.1h.8M46.1 14.2h.8M44.1 51.2h.8" stroke="#fff" stroke-width="0.8"/></pattern><mask id="mP1" maskUnits="userSpaceOnUse" x="0" y="0" width="685" height="568"><rect width="685" height="568" fill="url(#P1)"/></mask><pattern id="P2" patternUnits="userSpaceOnUse" width="44" height="56"><path d="M42.1 53.1h.8M2.5 4.8h.8M36.8 41.2h.8M29.5 17.3h.8M26.7 34.0h.8M25.6 8.9h.8M18.9 22.0h.8M31.8 55.7h.8M41.8 30.5h.8M19.6 15.0h.8M1.6 1.5h.8M20.5 17.8h.8M16.7 49.9h.8M23.1 31.4h.8M10.4 1.3h.8M14.3 7.7h.8M22.4 55.9h.8M29.7 10.2h.8M39.3 44.6h.8M32.3 50.8h.8M33.6 44.2h.8M15.6 54.9h.8M42.3 9.0h.8M33.2 40.0h.8M20.3 29.7h.8M21.6 51.8h.8M22.0 46.6h.8M15.6 49.4h.8M39.6 25.8h.8M25.0 51.5h.8M31.8 27.3h.8M9.8 18.2h.8M30.8 9.3h.8M39.9 15.0h.8M40.1 17.3h.8M42.1 39.5h.8M22.2 29.0h.8M28.7 32.9h.8M13.7 11.6h.8M22.5 52.3h.8M27.4 4.2h.8M36.1 40.7h.8M39.9 10.7h.8M32.8 3.3h.8M28.7 15.3h.8M10.0 49.0h.8M4.7 29.3h.8M37.6 13.7h.8M9.3 49.3h.8M18.6 40.1h.8M1.4 20.3h.8M7.6 37.7h.8M3.6 53.5h.8M1.1 40.8h.8M0.9 14.3h.8M35.8 8.8h.8M8.1 38.7h.8M17.0 2.4h.8M43.6 8.5h.8M1.6 19.3h.8M27.1 41.6h.8M5.0 18.9h.8M1.4 25.1h.8M33.7 41.4h.8M39.7 42.3h.8M37.9 39.5h.8M20.8 12.6h.8M29.1 17.7h.8M4.5 25.1h.8M38.5 7.1h.8M25.7 22.0h.8M22.7 8.1h.8M42.2 14.5h.8M26.7 23.5h.8M0.8 31.2h.8M6.2 3.2h.8M1.5 9.0h.8M4.2 35.6h.8M22.4 55.1h.8M41.1 55.7h.8M10.2 24.9h.8M11.0 33.1h.8M27.5 44.8h.8M31.2 14.4h.8M18.6 29.5h.8M0.2 2.0h.8M18.0 6.2h.8M31.8 13.5h.8M4.4 10.2h.8M10.2 12.2h.8M22.9 26.0h.8M13.6 35.9h.8M9.3 50.8h.8M42.4 40.8h.8M19.1 28.6h.8M25.6 2.9h.8M18.4 29.4h.8M8.0 5.3h.8M35.3 20.5h.8M22.8 51.6h.8M26.9 16.2h.8M43.3 20.8h.8M0.8 38.4h.8M4.5 17.1h.8M37.0 37.7h.8M0.7 25.3h.8M18.1 27.2h.8M9.2 33.0h.8M3.2 15.9h.8M16.4 52.4h.8M3.4 42.3h.8M8.5 32.0h.8M17.2 25.9h.8M33.2 22.1h.8M5.4 6.8h.8M3.5 47.6h.8M28.2 53.7h.8M30.5 1.4h.8M29.0 43.5h.8M31.8 27.9h.8M15.7 25.6h.8M35.1 15.1h.8M23.2 26.7h.8M42.0 45.0h.8M41.0 46.8h.8M13.1 13.0h.8M21.5 14.5h.8M18.8 38.0h.8M40.4 32.8h.8M36.0 5.4h.8M15.7 55.9h.8M6.4 23.3h.8M2.9 4.8h.8M39.4 55.4h.8M28.5 7.2h.8M13.0 13.0h.8M29.5 38.1h.8M19.3 29.3h.8M4.9 30.3h.8M41.8 42.3h.8M4.2 28.9h.8M31.5 14.4h.8M39.4 25.8h.8M30.9 22.6h.8M43.8 43.8h.8M25.2 8.1h.8M19.4 1.6h.8M26.2 49.4h.8M7.9 28.6h.8M21.2 22.7h.8M31.3 52.5h.8M31.0 26.5h.8M42.3 18.5h.8M32.8 36.9h.8M33.5 47.7h.8M9.9 34.8h.8M17.7 37.4h.8M43.0 35.6h.8M0.5 26.0h.8M31.3 49.5h.8M28.6 45.7h.8M0.8 52.8h.8M32.1 34.0h.8M39.8 49.5h.8M4.4 45.7h.8M33.7 11.2h.8M32.7 32.8h.8M8.4 45.0h.8M6.1 34.3h.8M19.1 14.2h.8M24.9 26.2h.8M9.0 54.1h.8M3.2 0.2h.8M21.4 46.9h.8M29.0 42.3h.8M21.3 37.8h.8M14.7 14.9h.8M22.1 1.5h.8M3.5 42.2h.8M7.6 42.0h.8M34.5 22.7h.8M29.7 44.1h.8M38.0 7.6h.8M7.2 21.4h.8M20.4 16.5h.8M0.5 31.2h.8M42.5 20.5h.8M23.7 21.4h.8M19.5 48.7h.8M13.6 36.3h.8M21.3 30.2h.8M40.2 4.3h.8M36.3 17.0h.8M28.4 44.6h.8M28.8 22.0h.8M37.0 5.2h.8M27.9 21.9h.8M23.3 47.7h.8M35.1 35.2h.8M13.6 13.0h.8M20.1 13.0h.8M12.2 53.6h.8M4.9 45.8h.8M16.7 20.4h.8M14.0 4.3h.8M20.1 9.3h.8M19.4 16.4h.8M39.4 51.6h.8M19.4 35.8h.8M40.9 18.3h.8M4.4 13.3h.8M8.3 38.0h.8M16.4 19.9h.8M35.0 13.1h.8M35.6 35.4h.8M17.6 46.1h.8M15.1 49.2h.8M40.7 28.1h.8M30.4 53.1h.8M32.7 42.1h.8M38.2 52.4h.8M33.2 54.8h.8M12.8 34.9h.8M29.5 20.6h.8M17.4 9.8h.8M42.1 19.8h.8M21.0 50.0h.8M8.2 53.8h.8M5.6 1.6h.8M15.4 20.1h.8M40.4 49.5h.8M33.5 24.4h.8M23.9 13.3h.8M36.7 21.8h.8M12.5 35.7h.8M6.6 17.7h.8M40.8 5.3h.8M6.3 11.4h.8M11.0 23.5h.8M11.0 19.2h.8M10.8 13.4h.8M26.9 18.8h.8M16.4 43.0h.8M2.7 8.1h.8M37.4 24.1h.8M34.3 7.4h.8M23.0 47.3h.8M14.9 43.0h.8M26.9 22.1h.8M43.9 22.0h.8M20.8 34.7h.8M13.9 46.9h.8M26.3 32.9h.8M23.7 55.2h.8M43.5 47.1h.8M20.0 23.1h.8M23.1 2.6h.8M4.8 55.7h.8M5.6 52.5h.8M29.9 51.2h.8M3.4 17.1h.8M35.1 0.5h.8M4.7 19.6h.8M7.6 8.2h.8M29.5 5.1h.8M42.7 36.4h.8M2.2 50.3h.8M10.6 27.0h.8M24.6 7.8h.8M22.1 3.4h.8M8.8 51.4h.8M36.2 29.3h.8M30.0 49.0h.8M6.2 27.6h.8M5.8 6.5h.8M4.8 11.9h.8M2.3 12.1h.8M16.7 34.9h.8M37.8 50.6h.8M31.6 28.4h.8M40.3 9.1h.8M4.6 45.8h.8M27.6 11.8h.8M16.6 16.7h.8M19.0 24.0h.8M17.5 44.7h.8M35.7 31.5h.8M20.8 15.9h.8M33.7 55.3h.8M10.1 39.4h.8M30.8 36.9h.8M1.3 30.9h.8M8.9 10.9h.8M25.5 36.1h.8M27.5 41.6h.8M30.9 26.6h.8M2.1 43.2h.8M36.2 46.8h.8M26.3 2.1h.8M8.6 6.1h.8M28.0 30.5h.8M8.2 53.5h.8M43.0 50.4h.8M20.4 16.3h.8M9.2 46.2h.8M30.8 15.5h.8M39.7 31.9h.8M18.2 23.3h.8M31.7 25.5h.8M29.0 6.8h.8M30.9 15.2h.8M40.1 12.0h.8M14.7 30.1h.8M17.3 29.4h.8M40.6 11.3h.8M34.0 38.8h.8M34.6 25.1h.8M20.0 19.4h.8M20.8 14.3h.8M8.4 26.7h.8M8.5 26.3h.8M25.2 17.3h.8M7.5 33.9h.8M37.8 12.4h.8M27.1 36.9h.8M38.9 38.2h.8M13.5 11.6h.8M36.8 16.8h.8M0.6 48.7h.8M8.7 17.5h.8M14.0 14.3h.8M31.9 19.2h.8M19.4 23.5h.8M36.7 1.0h.8M25.5 7.4h.8M6.6 34.0h.8M16.5 3.6h.8M25.9 51.2h.8M28.4 27.7h.8M35.2 51.3h.8M6.7 16.8h.8M42.5 51.9h.8M8.9 39.4h.8M38.5 33.1h.8M30.9 29.3h.8M10.3 11.9h.8M2.7 37.3h.8M6.1 34.8h.8M17.2 24.4h.8M42.7 21.9h.8M20.9 21.3h.8M9.5 12.5h.8M23.4 45.8h.8M4.0 53.0h.8M29.7 3.0h.8M31.1 22.5h.8M22.6 5.7h.8M22.5 29.1h.8M34.4 32.5h.8M31.0 41.1h.8M9.7 1.4h.8M21.1 7.2h.8M6.2 18.0h.8M23.7 34.5h.8M28.4 52.8h.8M4.5 31.2h.8M3.8 37.5h.8M19.2 7.8h.8M13.7 37.0h.8M20.8 52.9h.8M15.6 19.0h.8M40.6 33.9h.8M4.7 43.9h.8M16.0 53.1h.8M28.0 45.1h.8M39.4 28.5h.8M42.6 1.4h.8M15.0 46.9h.8M0.4 37.7h.8M44.0 40.1h.8M37.9 4.3h.8M23.8 34.1h.8M19.2 23.5h.8M34.8 9.1h.8M2.0 33.2h.8M42.5 46.3h.8M29.6 16.5h.8M39.8 2.3h.8M10.9 44.1h.8M39.4 22.6h.8M40.0 6.2h.8M26.3 3.8h.8M10.3 10.6h.8M0.3 22.7h.8M22.0 15.7h.8M28.7 2.9h.8M22.8 29.6h.8M17.7 51.2h.8M5.6 23.9h.8M20.2 20.9h.8M42.8 32.0h.8M22.7 24.6h.8M19.2 53.3h.8M35.2 36.3h.8M7.1 33.3h.8M5.6 19.7h.8M1.0 39.5h.8M43.0 35.7h.8M25.1 14.0h.8M19.5 26.0h.8M18.6 15.1h.8M9.7 42.0h.8M41.9 46.0h.8M27.3 1.6h.8M13.3 47.0h.8M42.8 30.7h.8M25.0 38.4h.8M10.9 39.9h.8M16.1 47.4h.8M20.3 37.2h.8M24.5 29.9h.8M20.3 53.3h.8M33.2 23.5h.8M22.2 50.3h.8M32.9 36.6h.8M42.2 6.6h.8M26.3 35.0h.8M20.0 53.9h.8M42.6 21.9h.8M27.1 42.9h.8M30.6 20.3h.8M35.1 19.5h.8M6.5 37.2h.8M28.6 22.9h.8M21.9 55.3h.8M35.6 22.8h.8M40.1 31.9h.8M17.8 36.2h.8M34.5 50.2h.8M29.5 37.4h.8M17.6 2.3h.8M20.0 6.4h.8M41.5 20.3h.8M26.6 41.1h.8M7.9 46.7h.8M14.3 4.5h.8M26.4 22.5h.8M40.4 24.9h.8M4.2 1.0h.8M1.3 27.6h.8M31.4 2.9h.8M14.5 26.8h.8M39.5 54.4h.8M38.5 35.8h.8M25.3 12.5h.8M26.9 9.3h.8M13.3 46.5h.8M25.0 40.7h.8M20.5 15.6h.8M22.2 32.1h.8M10.6 47.3h.8M43.2 10.1h.8M10.7 45.4h.8M31.8 12.6h.8M25.8 13.3h.8M38.0 32.9h.8M22.5 9.1h.8M17.9 26.5h.8M15.9 10.1h.8M8.7 39.2h.8M40.7 47.3h.8M27.1 44.3h.8M5.9 11.8h.8M31.0 0.1h.8M3.7 43.6h.8M8.7 10.4h.8M17.4 46.9h.8M0.5 49.1h.8M13.4 32.0h.8M20.8 6.8h.8M42.2 9.8h.8M35.4 49.2h.8M20.0 53.8h.8M2.8 8.3h.8M21.3 4.2h.8M35.5 29.5h.8M35.2 16.0h.8M1.2 49.9h.8M9.2 23.4h.8M5.5 32.9h.8M20.4 11.1h.8M1.7 18.9h.8M34.5 8.6h.8M10.0 34.6h.8M27.9 45.0h.8M28.4 47.6h.8M6.8 51.6h.8M1.3 6.7h.8M4.6 43.4h.8M22.2 51.6h.8M42.9 53.3h.8M27.0 19.7h.8M42.1 41.0h.8M8.6 31.0h.8M0.9 1.0h.8M28.1 40.3h.8M37.9 42.2h.8M6.0 41.3h.8M43.2 37.9h.8M21.1 16.5h.8M2.8 35.0h.8M42.3 6.4h.8M36.1 50.3h.8M15.5 47.4h.8M6.9 16.8h.8M24.9 49.3h.8M23.6 5.0h.8M40.9 32.0h.8M34.3 12.9h.8M14.7 5.1h.8M8.2 24.5h.8M18.1 36.8h.8M36.7 18.7h.8M40.7 36.6h.8M15.2 10.3h.8M42.1 36.8h.8M1.9 38.3h.8M16.6 23.6h.8M33.7 12.5h.8M11.8 30.3h.8M39.8 4.8h.8M36.7 40.3h.8M7.8 37.1h.8M27.3 39.7h.8M23.6 17.6h.8M22.1 13.3h.8M20.0 22.7h.8M4.7 13.0h.8M15.2 22.0h.8M24.8 41.8h.8M11.4 31.1h.8M14.9 12.7h.8M6.2 53.7h.8M41.0 46.5h.8M7.5 8.5h.8M4.6 16.8h.8M18.8 0.4h.8M18.6 38.6h.8M36.7 10.6h.8M0.1 44.5h.8M16.7 17.6h.8M6.8 15.0h.8M11.7 14.4h.8M10.2 29.0h.8M35.8 17.3h.8M18.3 27.1h.8M37.1 42.9h.8M43.4 9.7h.8M35.4 16.5h.8M25.4 29.5h.8M25.3 18.0h.8M3.2 0.4h.8M40.8 49.6h.8M20.2 5.0h.8M36.9 28.1h.8M20.7 35.8h.8M6.9 12.2h.8M35.8 41.1h.8M43.3 24.3h.8M42.8 49.8h.8M22.3 50.0h.8M7.2 3.9h.8M35.8 7.9h.8M22.7 41.3h.8M29.9 12.3h.8M34.6 2.4h.8M24.7 50.3h.8M24.0 16.9h.8M43.9 40.7h.8M34.8 50.2h.8M41.1 32.1h.8M36.3 28.1h.8M11.2 15.6h.8M11.5 1.4h.8M27.3 22.4h.8M40.1 2.9h.8M34.5 10.9h.8M14.3 16.4h.8M42.1 36.2h.8M20.6 10.3h.8M2.1 20.6h.8M42.9 24.9h.8M29.7 49.3h.8M2.1 18.0h.8M18.4 12.7h.8M16.9 38.2h.8M5.9 38.9h.8M13.1 36.8h.8M7.6 44.2h.8M18.4 46.6h.8M42.6 32.6h.8M0.9 20.5h.8M42.9 36.5h.8M33.4 26.7h.8M41.4 50.8h.8M27.0 33.0h.8M4.5 0.4h.8M9.0 40.4h.8M37.3 43.1h.8M39.0 1.7h.8M1.3 14.3h.8M0.8 32.8h.8M40.9 50.3h.8M4.7 37.2h.8M29.5 36.8h.8M18.1 13.2h.8M39.0 50.6h.8M31.5 30.4h.8M1.4 15.5h.8M10.5 13.6h.8M9.5 37.4h.8M29.9 9.9h.8M39.7 0.0h.8M42.0 32.6h.8M28.4 15.8h.8M30.4 49.1h.8M9.0 7.4h.8M34.7 14.0h.8M4.6 27.5h.8M8.2 12.0h.8M12.5 4.7h.8M36.0 31.7h.8M28.7 16.4h.8M34.1 53.8h.8M44.0 2.4h.8M13.7 5.0h.8M20.9 36.8h.8M26.8 19.9h.8M42.4 34.9h.8M43.9 23.8h.8M28.4 5.6h.8M23.6 36.2h.8M10.2 35.0h.8M5.8 25.8h.8M26.7 26.9h.8M6.7 10.7h.8M16.5 36.5h.8M19.1 11.2h.8M14.9 17.3h.8M6.1 33.0h.8M20.7 18.2h.8M0.1 51.2h.8M2.0 6.4h.8M12.9 44.2h.8M41.2 42.5h.8M9.1 47.0h.8M1.4 6.3h.8M4.9 31.5h.8M26.1 35.1h.8M41.7 42.1h.8M32.7 9.7h.8M40.1 51.5h.8M36.4 4.5h.8M31.4 29.1h.8M23.6 15.0h.8M34.0 45.2h.8M33.9 16.9h.8M32.4 4.8h.8M29.9 1.7h.8M0.3 5.8h.8M28.7 55.1h.8M20.6 36.1h.8M25.8 47.1h.8M42.7 45.8h.8M14.6 4.0h.8M39.3 15.6h.8M33.4 48.4h.8M7.4 10.9h.8M18.6 47.3h.8M37.5 55.6h.8M12.0 34.9h.8M38.4 21.1h.8M25.8 12.6h.8M37.7 24.8h.8M21.4 36.7h.8M14.0 45.5h.8M20.2 24.1h.8M31.9 37.3h.8M31.2 49.0h.8M35.6 22.8h.8M28.3 48.4h.8M2.5 36.9h.8M23.2 22.6h.8M5.2 16.1h.8M33.0 49.5h.8M43.4 42.3h.8M38.7 46.3h.8M7.3 38.7h.8M38.2 42.1h.8M12.2 39.2h.8M17.2 24.2h.8M32.2 37.9h.8M6.0 35.9h.8M2.6 11.6h.8M36.3 51.1h.8M11.2 42.8h.8M8.0 27.9h.8M15.3 4.7h.8M19.1 30.9h.8M37.5 5.8h.8M12.7 0.2h.8M9.2 14.9h.8M36.1 52.6h.8M9.5 27.0h.8M23.0 27.5h.8M42.2 53.2h.8M1.7 22.9h.8M23.2 36.4h.8M23.3 45.9h.8M4.3 25.8h.8M36.5 9.6h.8M7.6 34.5h.8M6.4 30.5h.8M5.5 10.5h.8M14.7 43.9h.8M26.9 34.1h.8M27.6 22.2h.8M43.0 33.3h.8M27.7 3.8h.8M11.0 32.8h.8M42.1 39.4h.8M2.4 45.2h.8M9.3 33.3h.8M8.4 3.4h.8M34.0 27.2h.8M26.6 39.5h.8M26.1 23.3h.8M14.2 29.7h.8M10.8 14.7h.8M35.7 19.2h.8M31.7 38.1h.8M20.5 44.0h.8M14.5 0.2h.8M37.3 42.0h.8M32.5 51.5h.8M18.0 23.9h.8M27.0 48.8h.8M12.4 42.5h.8M42.1 14.2h.8M0.8 9.1h.8M28.4 12.1h.8M41.7 5.2h.8M39.4 19.8h.8M40.5 19.0h.8M4.9 37.8h.8M13.2 52.6h.8M36.2 14.4h.8M21.6 30.8h.8M34.0 14.8h.8M24.9 29.0h.8M25.9 31.1h.8M19.0 21.7h.8M17.4 55.7h.8M23.0 6.0h.8M17.3 42.9h.8M30.0 4.5h.8M18.2 25.3h.8M37.2 15.0h.8M40.3 45.6h.8M0.9 27.9h.8M23.4 35.3h.8M39.1 11.3h.8M36.5 0.5h.8M36.7 14.7h.8M1.2 45.5h.8M42.7 36.8h.8M34.2 22.2h.8M10.9 37.2h.8M35.6 15.0h.8M16.5 15.2h.8M11.7 48.5h.8M0.3 1.2h.8M8.1 43.9h.8M25.1 42.4h.8M30.6 49.7h.8M25.8 1.2h.8M4.5 23.1h.8M5.2 17.4h.8M12.1 55.1h.8M42.4 37.7h.8M18.5 23.1h.8M3.1 25.4h.8M6.3 29.8h.8M35.9 22.4h.8M31.1 45.6h.8M40.2 23.9h.8M10.4 49.8h.8M22.0 15.3h.8M30.1 48.3h.8M43.3 21.1h.8M11.7 14.0h.8M13.1 12.2h.8M40.5 35.5h.8M2.2 5.3h.8M8.1 54.2h.8M15.1 45.2h.8M9.9 11.0h.8M41.5 4.2h.8M22.0 29.6h.8M14.9 42.3h.8M37.6 12.8h.8M13.3 27.2h.8M21.1 35.4h.8M34.1 19.0h.8M41.4 25.6h.8M1.3 23.6h.8M23.3 10.2h.8M38.7 33.4h.8M22.9 15.9h.8M5.9 15.4h.8M28.2 38.2h.8M30.1 1.8h.8M34.2 38.9h.8M30.0 29.3h.8M37.6 53.9h.8M25.7 24.2h.8M23.8 44.9h.8M29.8 43.5h.8M13.6 33.7h.8M10.4 32.3h.8M0.7 29.9h.8M32.0 51.0h.8M21.3 48.9h.8M8.8 0.7h.8M24.3 19.2h.8M17.4 33.5h.8M33.3 48.3h.8M14.2 32.6h.8M27.7 38.4h.8M25.7 26.1h.8M35.6 1.1h.8M34.6 9.4h.8M8.0 37.6h.8M20.0 19.2h.8M3.4 2.9h.8M11.8 5.4h.8M30.6 11.3h.8M16.7 23.6h.8M31.0 45.7h.8M27.8 12.2h.8M6.0 31.3h.8M16.1 40.6h.8M9.5 38.7h.8M15.8 15.7h.8M8.0 42.2h.8M22.2 30.5h.8M36.6 1.5h.8M24.0 18.4h.8M10.7 46.4h.8M10.7 22.9h.8M19.1 7.7h.8M13.6 0.2h.8M22.0 35.2h.8M44.0 53.7h.8M14.6 53.9h.8M4.6 8.3h.8M23.3 38.2h.8M26.1 2.0h.8M17.9 27.6h.8M17.0 42.6h.8M32.7 4.8h.8M20.5 39.0h.8M34.7 37.1h.8M43.0 41.4h.8M17.3 46.8h.8M26.9 33.5h.8M26.1 42.1h.8M31.2 25.7h.8M34.6 23.6h.8M32.6 51.2h.8M23.3 8.3h.8M39.9 11.9h.8M9.3 2.6h.8M18.5 22.5h.8M36.0 9.6h.8M16.6 43.1h.8M1.0 23.1h.8M6.5 43.1h.8M13.2 7.9h.8M4.9 11.7h.8M30.9 6.5h.8M1.8 13.4h.8M1.8 40.9h.8M33.4 29.8h.8M14.7 2.2h.8M31.5 13.6h.8M24.2 55.3h.8M10.6 38.5h.8M19.3 29.9h.8M17.8 39.3h.8M22.9 1.8h.8M36.1 13.4h.8M15.4 26.8h.8M26.1 42.4h.8M5.2 21.4h.8M27.3 26.4h.8M10.7 44.6h.8M42.4 36.1h.8M23.5 8.7h.8M21.1 44.0h.8M13.9 24.5h.8M19.7 17.3h.8M27.1 16.6h.8M40.6 47.0h.8M13.5 3.7h.8M1.0 45.6h.8M18.6 6.7h.8M2.1 43.7h.8M9.1 51.6h.8M15.7 35.2h.8M15.3 36.7h.8M6.2 15.0h.8M5.4 3.5h.8M24.8 55.5h.8M0.3 49.2h.8M12.6 9.0h.8M1.4 19.6h.8M3.8 27.7h.8M20.2 9.4h.8M38.9 32.7h.8M33.4 13.5h.8M31.8 38.9h.8M34.1 10.4h.8M41.8 25.5h.8M3.5 51.6h.8M13.5 50.2h.8M9.1 4.1h.8M22.6 30.7h.8M29.7 35.9h.8M15.9 42.6h.8M22.7 8.1h.8M25.7 19.7h.8M24.0 8.9h.8M11.1 14.8h.8M29.2 1.3h.8M18.3 22.5h.8M38.4 6.9h.8M22.6 45.4h.8M18.0 53.5h.8M11.2 27.7h.8M13.4 15.8h.8M3.1 43.5h.8M28.8 46.8h.8M21.0 10.2h.8M29.1 52.3h.8M24.5 14.7h.8M23.0 47.8h.8M36.0 35.1h.8M32.6 1.8h.8M6.0 0.6h.8M19.8 27.4h.8M0.8 45.9h.8M24.1 41.0h.8M42.5 42.8h.8M32.9 35.7h.8M23.1 43.0h.8M34.4 16.7h.8M35.4 8.4h.8M23.4 51.5h.8M9.6 49.9h.8M21.3 40.9h.8M6.7 2.9h.8M11.0 33.4h.8M39.3 31.6h.8M23.0 21.3h.8M22.0 40.0h.8M38.1 19.4h.8M29.7 19.4h.8M11.1 3.1h.8M17.8 34.1h.8M22.4 25.1h.8M33.9 25.4h.8M30.4 31.1h.8M41.8 18.6h.8M19.4 43.0h.8M13.0 44.5h.8M14.3 8.6h.8M24.0 31.4h.8M13.4 15.3h.8M43.9 28.2h.8M31.2 23.5h.8M24.2 16.0h.8M7.4 46.6h.8M30.0 17.0h.8M17.9 31.4h.8M2.9 34.4h.8M43.8 38.4h.8M20.5 6.8h.8M23.7 32.6h.8M30.7 49.4h.8M11.8 5.9h.8M42.6 29.9h.8M39.1 33.8h.8M39.7 33.7h.8M31.9 35.5h.8M41.9 42.1h.8M42.8 23.3h.8M9.1 11.3h.8M20.1 31.2h.8M30.3 26.0h.8M42.4 22.7h.8M0.4 29.5h.8M28.9 13.6h.8M32.7 11.0h.8M39.8 25.0h.8M41.9 34.4h.8M31.8 11.5h.8M38.8 55.5h.8M6.6 32.4h.8M7.1 49.3h.8M38.0 51.0h.8M33.8 21.7h.8M27.8 3.3h.8M4.7 31.1h.8M32.6 16.5h.8M0.6 2.5h.8M14.5 20.8h.8M39.9 38.7h.8M38.8 42.3h.8M30.8 42.7h.8M9.8 42.5h.8M25.6 36.1h.8M21.8 25.1h.8M37.1 44.8h.8M8.5 48.1h.8M23.8 3.5h.8M34.8 49.3h.8M19.1 24.0h.8M11.9 10.9h.8M23.5 24.5h.8M28.8 36.8h.8M8.5 43.1h.8M19.8 22.8h.8M8.1 34.2h.8M29.9 43.8h.8M36.1 19.6h.8M24.0 34.4h.8M17.1 0.6h.8M32.1 50.4h.8M20.9 51.6h.8M2.3 32.7h.8M17.4 35.8h.8M15.9 40.3h.8M8.9 16.1h.8M18.1 23.4h.8M18.3 52.8h.8M22.6 31.4h.8M5.6 29.8h.8M33.5 39.4h.8M42.1 33.4h.8M16.3 48.8h.8M43.1 54.4h.8M5.0 37.9h.8M7.0 14.9h.8M34.2 48.9h.8M26.0 17.9h.8M21.4 17.3h.8M11.7 11.5h.8M41.8 52.2h.8M8.1 47.4h.8M32.9 40.6h.8M11.2 29.8h.8M35.9 39.3h.8M41.1 3.1h.8M14.6 20.8h.8M18.3 55.2h.8M42.6 46.6h.8M28.9 43.4h.8M37.3 12.0h.8M27.6 55.1h.8M7.3 24.9h.8M16.2 47.8h.8M20.4 7.7h.8M16.5 36.2h.8M24.0 1.5h.8M35.9 15.9h.8M1.6 35.0h.8M29.5 34.0h.8M4.0 1.2h.8M31.9 28.5h.8M0.5 31.4h.8M3.7 26.5h.8M31.2 12.6h.8M17.9 40.3h.8M12.1 34.8h.8M2.5 39.4h.8M10.4 24.2h.8M43.7 43.6h.8M8.1 44.7h.8M17.5 27.8h.8M12.3 9.7h.8M43.4 21.8h.8M9.1 44.9h.8M4.6 23.1h.8M5.1 1.9h.8M43.3 27.4h.8M28.7 8.2h.8M16.0 3.3h.8M37.1 0.4h.8M41.4 53.8h.8M8.7 16.1h.8M7.8 1.4h.8M20.9 29.4h.8M38.9 27.0h.8M7.7 24.0h.8M7.0 1.9h.8M17.1 46.6h.8M3.6 54.5h.8M37.0 55.7h.8M26.2 17.3h.8M33.9 8.3h.8M23.0 46.6h.8M23.6 42.8h.8M7.9 48.2h.8M6.6 18.7h.8M26.1 51.4h.8M5.3 15.7h.8M34.0 13.8h.8M17.3 10.1h.8M43.6 44.1h.8M16.7 55.7h.8M39.0 17.9h.8M3.3 40.1h.8M28.0 14.8h.8M0.4 16.0h.8M41.0 38.1h.8M29.4 39.0h.8M11.9 49.3h.8M20.8 51.9h.8M26.9 38.1h.8M38.4 55.0h.8M31.4 52.9h.8M18.1 17.7h.8M11.4 20.7h.8M39.4 18.3h.8M10.8 5.1h.8M31.7 52.2h.8M18.6 8.6h.8M33.6 47.5h.8M17.9 26.5h.8M16.5 30.0h.8M29.1 51.8h.8M14.7 53.9h.8M27.0 25.7h.8M37.1 13.4h.8M24.1 51.0h.8M36.7 48.2h.8M23.3 36.1h.8M34.4 13.7h.8M42.5 44.8h.8M21.5 33.5h.8M41.7 0.8h.8M12.0 49.2h.8M2.1 39.1h.8M13.1 13.7h.8M2.2 15.9h.8M16.1 36.6h.8M35.8 33.5h.8M6.7 29.4h.8M40.8 13.2h.8M30.7 12.4h.8M13.3 30.4h.8M36.6 30.1h.8M8.4 32.2h.8M2.3 41.0h.8M24.5 18.7h.8M27.6 20.0h.8M21.6 32.8h.8M35.2 10.7h.8M42.4 47.5h.8M8.3 51.0h.8M11.8 47.4h.8M9.4 48.3h.8M38.0 31.3h.8M29.9 42.3h.8M28.0 18.8h.8M33.9 50.6h.8M23.6 48.1h.8M15.9 25.1h.8M29.9 17.8h.8M34.7 44.6h.8M9.1 22.4h.8M38.8 28.9h.8M1.6 45.3h.8M8.0 26.2h.8M39.8 42.8h.8M32.8 0.9h.8M10.9 6.4h.8M43.1 12.0h.8M7.1 39.9h.8M34.4 40.1h.8M23.4 49.8h.8M26.4 2.1h.8M36.8 0.4h.8M43.7 32.5h.8M27.6 13.3h.8M37.9 20.3h.8M25.3 3.3h.8M29.6 47.2h.8M27.1 45.2h.8M25.1 31.1h.8M36.6 10.3h.8M17.3 45.0h.8M32.5 51.0h.8M32.1 37.6h.8M28.0 12.7h.8M34.1 45.8h.8M10.2 21.0h.8M19.0 41.1h.8M3.3 7.0h.8M40.6 43.0h.8M18.0 9.4h.8M0.2 8.5h.8M39.1 4.7h.8M37.4 10.1h.8M35.3 12.7h.8M31.0 43.1h.8M22.8 13.5h.8M21.8 13.7h.8M42.7 25.8h.8M25.2 18.0h.8M19.1 50.4h.8M39.1 46.5h.8M41.7 55.5h.8M0.7 16.2h.8M4.0 46.9h.8M6.4 44.4h.8M8.5 11.3h.8M14.3 50.0h.8M11.0 10.6h.8M34.4 14.5h.8M25.5 26.7h.8M31.1 27.7h.8M10.0 7.2h.8M37.0 12.7h.8M11.2 32.4h.8M41.7 20.3h.8M14.2 19.2h.8M20.1 51.2h.8M25.4 30.8h.8M13.8 19.0h.8M19.9 45.1h.8M39.7 45.6h.8M9.6 52.3h.8M13.3 18.3h.8M20.8 5.7h.8M22.7 53.0h.8M5.2 54.2h.8M18.0 14.1h.8M23.8 5.4h.8M14.7 42.7h.8M13.2 41.4h.8M12.4 42.1h.8M31.6 32.3h.8M20.3 12.6h.8M4.6 28.7h.8M15.2 47.3h.8M5.0 4.9h.8M14.7 30.7h.8M32.5 35.4h.8M11.3 4.4h.8M29.3 6.5h.8M34.6 35.0h.8M39.7 24.5h.8M20.2 35.8h.8M4.7 47.7h.8M26.1 38.6h.8M3.0 15.7h.8M6.6 18.2h.8M16.9 52.1h.8M20.6 31.5h.8M18.5 23.1h.8M3.0 38.0h.8M21.4 11.5h.8M33.2 1.1h.8M38.9 30.3h.8M36.8 28.0h.8M5.8 26.9h.8M9.5 30.8h.8M0.4 38.5h.8M35.0 31.4h.8M15.4 37.8h.8M17.3 54.1h.8M39.8 24.3h.8M35.4 13.7h.8M40.9 37.4h.8M0.0 36.0h.8M16.7 36.3h.8M5.1 19.3h.8M41.3 32.0h.8M22.3 37.8h.8M5.1 7.7h.8M17.8 19.9h.8M20.7 30.8h.8M3.6 16.1h.8M35.9 41.9h.8M27.8 2.8h.8M29.1 5.2h.8M9.2 14.2h.8M43.5 19.6h.8M13.7 5.5h.8M18.4 44.2h.8M15.1 23.6h.8M5.1 8.9h.8M4.8 46.6h.8M37.4 26.3h.8M25.2 21.9h.8M30.3 12.6h.8M15.4 40.6h.8M15.2 55.7h.8M20.5 0.0h.8M21.4 48.6h.8M7.8 24.7h.8M24.5 49.3h.8M0.6 40.3h.8M3.6 39.6h.8M41.3 35.6h.8M1.0 15.5h.8M20.8 50.3h.8M19.1 13.9h.8M32.9 41.1h.8M43.3 34.7h.8M33.8 49.3h.8M8.5 2.1h.8M36.1 34.9h.8M38.3 47.2h.8M5.4 15.3h.8M37.4 31.1h.8M34.6 50.8h.8M0.7 14.0h.8M3.2 12.7h.8M17.1 51.3h.8M9.6 27.5h.8M18.7 53.4h.8M29.8 23.1h.8M3.9 14.9h.8M5.4 55.6h.8M13.0 10.0h.8M1.4 8.7h.8M26.2 28.0h.8M25.6 40.3h.8M8.4 33.5h.8M25.9 54.8h.8M18.3 12.2h.8M9.9 39.7h.8M35.4 16.7h.8M36.3 52.2h.8M16.8 5.3h.8M40.7 14.2h.8M43.6 22.2h.8M22.0 25.2h.8M3.2 20.0h.8M3.9 27.2h.8M5.0 34.1h.8M23.7 51.6h.8M36.0 34.5h.8M35.0 22.3h.8M35.7 34.8h.8M36.5 48.9h.8M29.5 50.5h.8M0.6 52.3h.8M21.4 28.2h.8M10.3 17.9h.8M24.5 20.2h.8M0.3 19.1h.8M7.0 55.6h.8M4.0 40.3h.8M33.6 56.0h.8M32.3 40.8h.8M27.2 50.2h.8M37.1 28.3h.8M42.5 32.2h.8M18.0 16.4h.8M27.4 31.0h.8M13.7 26.5h.8M18.4 48.8h.8M5.4 4.1h.8M22.2 30.6h.8M1.4 24.9h.8M5.7 10.8h.8M34.0 1.1h.8M9.1 27.3h.8M36.2 43.9h.8M22.7 28.6h.8M35.6 30.2h.8M34.5 24.6h.8M5.5 51.6h.8M9.4 32.0h.8M29.7 27.7h.8M16.0 3.4h.8M19.3 4.4h.8M23.7 24.9h.8M3.1 20.1h.8M19.6 15.2h.8M41.9 16.7h.8M3.3 2.0h.8M2.8 24.2h.8M1.2 25.2h.8M40.7 14.5h.8M30.9 30.0h.8M7.7 24.4h.8M0.8 24.5h.8M4.6 6.5h.8M20.2 20.9h.8M8.2 8.7h.8M12.4 53.9h.8M42.4 17.3h.8M1.1 27.1h.8M39.0 13.5h.8M43.6 23.5h.8M11.9 4.3h.8M12.5 29.9h.8M12.7 21.5h.8M31.8 27.9h.8M3.6 5.0h.8M37.9 9.7h.8M17.3 38.6h.8M42.9 29.1h.8M32.9 34.5h.8M35.2 26.5h.8M9.6 30.3h.8M27.5 8.6h.8M26.0 25.6h.8M16.7 27.3h.8M16.1 20.4h.8M43.4 18.0h.8M20.9 0.2h.8M12.9 45.3h.8M22.2 38.3h.8M40.2 38.7h.8M41.8 48.4h.8M9.1 35.1h.8M1.0 35.7h.8M39.7 40.7h.8M39.0 32.0h.8M34.1 13.1h.8M12.4 4.9h.8M5.8 43.5h.8M4.6 43.3h.8M11.7 47.3h.8M42.6 2.3h.8M25.4 37.2h.8M20.3 1.3h.8M22.0 39.4h.8M23.0 8.9h.8M23.9 1.4h.8M7.8 18.8h.8M21.2 20.8h.8M11.4 52.4h.8M4.5 9.0h.8M32.9 17.9h.8M37.9 47.4h.8M22.2 35.5h.8M16.7 41.9h.8M42.8 35.0h.8M16.2 51.4h.8M0.2 42.3h.8M41.9 12.8h.8M28.0 6.0h.8M17.4 52.8h.8M3.8 10.5h.8M6.8 8.7h.8M9.9 53.6h.8M26.8 28.7h.8M35.4 36.9h.8M42.9 19.0h.8M23.4 50.7h.8M13.6 51.6h.8M16.7 25.4h.8M17.6 6.7h.8M15.5 39.6h.8M37.4 31.5h.8M2.6 32.8h.8M28.6 34.7h.8M11.4 3.4h.8M23.2 14.2h.8M36.3 48.0h.8M2.9 42.7h.8M19.9 24.1h.8M20.2 48.4h.8M4.1 52.7h.8M40.4 24.3h.8M42.9 44.9h.8M30.1 29.9h.8M31.5 32.3h.8M34.8 13.2h.8M18.6 14.9h.8M0.0 39.5h.8M26.7 13.4h.8M35.8 40.7h.8M33.6 32.8h.8M13.4 36.8h.8M11.3 29.9h.8M35.8 28.5h.8M38.0 46.2h.8M20.3 21.9h.8M12.2 26.1h.8M3.8 46.5h.8M10.8 4.2h.8M6.1 19.5h.8M14.6 34.6h.8M14.8 12.2h.8M20.9 28.4h.8M22.6 21.4h.8M24.0 55.1h.8M15.8 39.4h.8M19.0 39.9h.8M17.4 44.9h.8M43.6 39.7h.8M32.8 2.9h.8M30.2 38.8h.8M7.0 43.1h.8M36.1 51.4h.8M18.2 10.2h.8M8.9 0.7h.8M22.1 54.9h.8M16.3 29.3h.8M5.8 43.0h.8M15.6 16.0h.8M35.8 39.0h.8M25.3 40.0h.8M6.0 39.7h.8M25.2 34.9h.8M14.3 25.2h.8M4.1 25.6h.8M20.9 31.6h.8M21.7 34.3h.8M24.1 55.8h.8M7.0 36.3h.8M32.7 44.0h.8M7.6 14.4h.8M31.0 35.1h.8M14.2 45.7h.8M19.5 14.6h.8M20.6 12.0h.8M32.8 54.1h.8M31.8 32.3h.8M4.2 53.0h.8M38.4 46.5h.8M32.0 4.4h.8M13.9 27.2h.8M26.5 11.8h.8M38.9 27.6h.8M31.9 49.5h.8M11.2 10.9h.8M25.5 6.8h.8M1.2 2.0h.8M34.4 47.1h.8M16.9 26.2h.8M25.1 17.3h.8M14.9 21.6h.8M11.5 39.1h.8M24.4 6.3h.8M4.3 41.8h.8M21.2 48.1h.8M31.6 32.8h.8M11.2 34.2h.8M20.6 41.9h.8M11.2 55.3h.8M41.7 54.9h.8M16.9 10.9h.8M19.7 42.9h.8M28.7 0.7h.8M9.9 53.8h.8M23.5 3.9h.8M25.1 43.5h.8M40.0 6.5h.8M31.3 6.1h.8M28.1 30.3h.8M0.9 9.8h.8M18.4 39.6h.8M43.5 15.5h.8M12.2 38.6h.8M20.0 33.4h.8M37.5 42.1h.8M18.9 20.4h.8M30.4 33.7h.8M29.2 27.2h.8M32.1 13.1h.8M35.7 22.5h.8M18.5 2.8h.8M36.5 31.7h.8M27.9 18.4h.8M2.7 29.9h.8M22.5 10.8h.8M35.9 1.8h.8M37.7 51.1h.8M4.5 53.2h.8M41.3 19.8h.8M19.1 45.7h.8M2.7 45.7h.8M0.5 35.1h.8M2.0 25.4h.8M31.2 30.1h.8M15.9 14.8h.8M4.1 16.0h.8M9.4 13.2h.8M5.1 10.9h.8M17.9 5.7h.8M31.9 16.4h.8M34.2 31.5h.8M31.6 41.2h.8M15.7 38.1h.8M1.7 47.6h.8M31.7 51.7h.8M15.3 9.1h.8M32.2 10.1h.8M38.6 18.5h.8M37.9 4.2h.8M12.7 45.2h.8M3.3 40.8h.8M17.3 31.6h.8M7.8 13.6h.8M38.6 40.5h.8M5.0 4.6h.8M4.7 11.0h.8M12.4 29.4h.8M13.7 52.7h.8M3.5 27.9h.8M27.6 44.3h.8M21.0 35.3h.8M6.7 16.0h.8M37.7 1.3h.8M23.8 51.4h.8M40.6 10.7h.8M43.8 26.2h.8M5.7 45.5h.8M23.4 55.1h.8M5.5 47.2h.8M13.8 2.2h.8M7.0 43.4h.8M40.2 40.8h.8M29.0 23.9h.8M13.4 21.2h.8M3.2 7.8h.8M10.8 51.1h.8M40.1 15.7h.8M41.8 8.1h.8M29.0 6.3h.8M25.3 55.1h.8M32.4 38.3h.8M29.1 46.6h.8M21.8 49.9h.8M31.8 40.0h.8M10.4 44.2h.8M41.9 3.4h.8M19.6 38.7h.8M35.6 45.3h.8M14.0 26.3h.8M32.8 54.4h.8M5.2 0.9h.8M37.7 2.0h.8M3.7 20.4h.8M0.4 51.5h.8M1.2 4.2h.8M22.0 22.0h.8M33.0 48.4h.8M0.9 52.7h.8M3.0 20.7h.8M10.7 9.6h.8M3.5 44.9h.8M14.3 19.2h.8M39.2 21.9h.8M6.6 7.7h.8M15.8 3.4h.8M29.2 20.6h.8M29.9 24.6h.8M2.6 55.6h.8M33.0 32.8h.8M6.1 36.2h.8M23.4 39.8h.8M2.6 37.3h.8M41.8 45.1h.8M29.1 10.9h.8M27.7 38.2h.8M10.8 50.6h.8M12.6 3.6h.8M20.8 50.8h.8M30.9 14.6h.8M17.6 49.9h.8M41.2 25.2h.8M21.4 15.4h.8M29.7 49.9h.8M14.9 46.1h.8M21.9 38.7h.8M32.1 35.5h.8M7.7 54.1h.8M2.1 11.7h.8M4.9 37.7h.8M20.2 54.7h.8M7.5 4.9h.8M0.5 17.2h.8M35.8 20.1h.8M22.8 16.4h.8M12.5 40.9h.8M0.0 31.2h.8M41.4 17.6h.8M21.5 36.1h.8M12.8 10.8h.8M37.4 0.1h.8M10.2 26.7h.8M2.8 2.4h.8M38.3 45.0h.8M23.2 53.5h.8M36.2 41.2h.8M16.1 40.9h.8M15.2 19.5h.8M8.3 0.0h.8M35.0 43.5h.8M37.0 23.3h.8M30.8 33.6h.8M11.9 25.1h.8M4.8 46.0h.8M31.2 2.4h.8M31.0 39.6h.8M2.5 55.1h.8M43.6 27.3h.8M16.3 0.2h.8M33.7 40.7h.8M9.4 3.8h.8M17.7 44.6h.8M14.1 33.3h.8M30.2 10.2h.8M25.5 8.2h.8M35.3 26.7h.8M39.5 24.3h.8M17.6 24.7h.8M19.4 43.9h.8M13.2 0.9h.8M28.5 8.5h.8M6.7 19.1h.8M20.8 13.0h.8M40.1 17.2h.8M40.2 15.6h.8M0.6 47.0h.8M17.6 1.9h.8M27.2 43.9h.8M17.7 38.3h.8M43.7 15.4h.8M27.3 55.3h.8M12.9 46.7h.8M4.1 37.8h.8M23.5 41.9h.8M22.9 39.7h.8M4.6 48.4h.8M23.3 38.6h.8M33.5 28.2h.8M38.0 40.3h.8M11.2 5.0h.8M31.9 50.4h.8M14.8 18.0h.8M29.8 53.2h.8M27.1 4.4h.8M22.0 27.1h.8M8.8 36.0h.8M24.9 23.5h.8M26.8 6.6h.8M40.0 19.6h.8M14.8 49.5h.8M25.6 55.4h.8M34.6 41.7h.8M42.4 38.9h.8M2.7 31.2h.8M21.2 29.9h.8M43.1 55.0h.8M31.7 46.2h.8M0.2 25.1h.8M20.5 13.3h.8M40.5 1.6h.8M36.9 55.5h.8M14.9 1.5h.8M19.0 5.7h.8M41.9 29.2h.8M8.3 40.0h.8M22.7 31.0h.8M9.4 54.1h.8M38.6 49.7h.8M36.3 52.6h.8M10.3 43.4h.8M17.7 11.5h.8M31.4 28.5h.8M11.1 29.3h.8M17.7 32.5h.8M33.6 42.9h.8M12.4 20.1h.8M10.0 53.3h.8M43.2 12.9h.8M16.2 29.0h.8M5.0 35.9h.8M28.7 11.9h.8M12.8 37.8h.8M41.5 7.0h.8M31.8 48.6h.8M32.6 55.5h.8M11.2 10.6h.8M42.6 25.6h.8M30.2 29.8h.8M25.5 1.3h.8M2.9 4.9h.8M38.0 4.2h.8M16.4 7.4h.8M28.0 37.4h.8M35.2 41.5h.8M33.8 10.7h.8M19.7 54.2h.8M19.1 46.2h.8M24.1 17.6h.8M40.6 3.3h.8M28.3 42.7h.8M36.5 3.3h.8M27.0 17.5h.8M29.2 2.7h.8M20.7 27.4h.8M11.9 15.7h.8M32.4 32.0h.8M17.0 25.4h.8M27.5 33.6h.8M29.9 52.3h.8M43.0 7.7h.8M21.2 32.0h.8M5.5 14.8h.8M7.8 22.2h.8M14.7 4.5h.8M30.9 42.1h.8M10.0 9.0h.8M14.2 40.8h.8M5.2 39.5h.8M41.7 14.6h.8M10.1 33.0h.8M37.1 11.0h.8M2.6 23.7h.8M17.7 7.1h.8M35.3 3.6h.8M29.0 14.9h.8M4.9 21.3h.8M17.4 19.8h.8M27.9 26.2h.8M13.8 11.1h.8M26.3 47.5h.8M37.1 13.9h.8M29.8 19.4h.8M28.3 3.6h.8M33.7 23.5h.8M32.9 49.5h.8M5.7 47.0h.8M42.0 12.8h.8M28.8 48.6h.8M1.9 37.0h.8M13.6 26.8h.8M7.7 22.4h.8M39.3 15.4h.8M18.0 7.6h.8M16.3 11.3h.8M15.7 23.2h.8M23.2 34.8h.8M27.3 1.0h.8M21.5 55.6h.8M38.0 36.2h.8M30.3 18.4h.8M1.4 13.2h.8M41.1 22.1h.8M21.1 16.7h.8M0.9 30.8h.8M3.5 45.2h.8M25.2 6.5h.8M9.6 2.9h.8M7.1 16.3h.8M16.9 22.3h.8M2.3 52.7h.8M17.8 55.6h.8M8.1 37.7h.8M37.9 22.2h.8M32.8 14.8h.8M31.0 9.6h.8M37.3 51.8h.8M12.5 14.5h.8M31.4 18.4h.8M26.4 22.4h.8M40.9 34.8h.8M38.3 29.3h.8M25.3 45.1h.8M37.5 41.9h.8M19.1 35.5h.8M32.3 11.3h.8M5.3 34.4h.8M11.4 41.0h.8M0.6 38.4h.8M2.0 1.0h.8M7.5 19.4h.8M5.6 33.5h.8" stroke="#fff" stroke-width="0.8"/></pattern><mask id="mP2" maskUnits="userSpaceOnUse" x="0" y="0" width="685" height="568"><rect width="685" height="568" fill="url(#P2)"/></mask><pattern id="P3" patternUnits="userSpaceOnUse" width="52" height="46"><path d="M12.4 25.0h.8M19.2 27.8h.8M32.5 3.0h.8M0.7 38.5h.8M13.5 10.8h.8M51.8 21.6h.8M43.5 21.9h.8M33.2 6.9h.8M33.0 39.9h.8M27.2 34.1h.8M34.9 2.9h.8M39.4 27.2h.8M15.7 1.4h.8M45.0 21.7h.8M37.4 40.4h.8M37.1 42.4h.8M20.5 36.8h.8M23.1 43.0h.8M45.7 4.5h.8M7.1 10.0h.8M50.2 20.1h.8M32.6 13.8h.8M26.4 17.7h.8M18.2 26.9h.8M30.4 41.6h.8M35.5 42.7h.8M44.5 45.6h.8M34.9 7.5h.8M44.8 44.4h.8M47.0 26.2h.8M37.1 9.7h.8M43.2 26.4h.8M14.8 2.9h.8M44.4 45.5h.8M4.6 36.8h.8M21.3 6.9h.8M15.3 35.4h.8M45.4 2.0h.8M32.0 2.1h.8M37.4 15.2h.8M45.8 45.1h.8M26.3 45.9h.8M16.1 3.5h.8M31.2 1.4h.8M10.3 18.8h.8M31.7 7.2h.8M2.2 39.9h.8M16.3 44.1h.8M46.6 17.4h.8M23.9 23.9h.8M33.5 27.4h.8M29.1 28.5h.8M48.9 23.3h.8M22.4 33.1h.8M12.4 13.8h.8M50.8 24.0h.8M28.5 0.5h.8M21.6 26.7h.8M1.0 28.3h.8M32.9 2.8h.8M32.6 21.4h.8M35.3 16.2h.8M36.8 33.9h.8M1.2 2.8h.8M35.2 44.3h.8M13.1 21.0h.8M30.8 14.7h.8M18.9 14.4h.8M19.2 27.4h.8M15.6 17.3h.8M40.2 1.2h.8M29.6 33.8h.8M16.1 10.2h.8M41.8 11.0h.8M9.7 20.0h.8M36.3 4.7h.8M16.7 15.4h.8M43.3 20.2h.8M44.5 7.8h.8M17.5 29.9h.8M46.0 20.8h.8M11.7 5.6h.8M27.5 8.8h.8M42.0 38.6h.8M9.5 12.8h.8M42.0 29.5h.8M41.9 15.9h.8M6.7 13.4h.8M41.3 12.5h.8M18.0 19.2h.8M21.8 18.8h.8M47.9 7.2h.8M0.2 43.4h.8M45.8 45.4h.8M22.6 43.7h.8M48.2 10.2h.8M38.8 38.5h.8M34.5 23.9h.8M15.0 15.7h.8M11.8 3.1h.8M30.6 13.2h.8M42.1 2.1h.8M47.0 31.9h.8M48.0 41.2h.8M46.8 26.5h.8M0.7 34.3h.8M8.9 13.8h.8M34.5 24.1h.8M21.5 43.2h.8M31.8 15.7h.8M13.1 39.6h.8M24.8 36.0h.8M18.3 9.1h.8M27.8 37.6h.8M8.9 36.4h.8M47.9 37.1h.8M42.8 0.3h.8M32.7 39.7h.8M2.6 12.5h.8M14.0 24.3h.8M22.0 21.8h.8M40.4 0.1h.8M2.9 5.8h.8M6.5 3.1h.8M50.7 39.3h.8M4.5 23.1h.8M16.4 14.5h.8M18.3 29.8h.8M30.5 16.6h.8M9.9 15.1h.8M6.4 25.6h.8M37.2 17.5h.8M4.2 8.2h.8M19.4 27.8h.8M40.7 17.5h.8M41.7 28.7h.8M22.4 17.1h.8M25.8 32.3h.8M21.9 31.9h.8M24.0 11.3h.8M27.9 32.0h.8M3.7 19.5h.8M22.1 40.5h.8M48.7 17.2h.8M46.7 36.4h.8M13.6 21.4h.8M6.4 37.4h.8M34.4 40.8h.8M41.2 30.7h.8M38.2 25.9h.8M5.4 27.0h.8M0.3 6.6h.8M40.3 2.0h.8M4.8 4.6h.8M45.8 8.2h.8M1.2 38.7h.8M6.3 38.8h.8M35.0 38.5h.8M49.5 26.6h.8M41.5 1.7h.8M39.9 23.5h.8M37.2 4.9h.8M38.9 43.0h.8M3.2 14.9h.8M29.3 38.1h.8M12.6 8.3h.8M13.0 28.3h.8M39.2 18.1h.8M19.1 18.2h.8M18.2 19.2h.8M4.3 23.0h.8M50.6 19.0h.8M38.9 7.4h.8M35.9 34.8h.8M35.0 23.8h.8M25.2 29.6h.8M46.7 6.9h.8M5.0 34.4h.8M47.7 23.8h.8M23.0 33.1h.8M9.7 12.3h.8M10.4 26.9h.8M16.4 10.7h.8M35.9 43.9h.8M15.4 32.4h.8M21.5 39.3h.8M30.4 12.3h.8M11.3 1.1h.8M24.9 17.6h.8M9.0 16.6h.8M16.7 35.6h.8M7.5 45.6h.8M24.9 27.6h.8M24.3 38.4h.8M42.7 25.6h.8M25.0 33.2h.8M44.5 18.4h.8M38.1 44.2h.8M24.3 10.6h.8M12.2 33.0h.8M35.1 44.1h.8M44.4 11.1h.8M9.9 11.9h.8M9.7 32.4h.8M44.6 41.4h.8M13.3 39.8h.8M16.3 19.5h.8M37.9 4.0h.8M4.8 38.4h.8M15.2 16.4h.8M30.2 31.1h.8M0.4 15.4h.8M22.7 22.4h.8M10.9 26.9h.8M49.7 18.0h.8M28.3 5.5h.8M14.3 30.6h.8M5.9 40.8h.8M47.3 4.5h.8M48.9 17.2h.8M40.2 34.8h.8M15.4 31.1h.8M34.0 37.1h.8M13.8 34.7h.8M50.0 30.9h.8M27.9 5.2h.8M25.7 16.2h.8M37.3 31.2h.8M29.5 8.4h.8M33.6 29.0h.8M9.3 40.9h.8M34.1 5.7h.8M48.5 6.5h.8M17.2 33.1h.8M31.1 25.5h.8M33.7 21.1h.8M16.2 8.1h.8M3.6 32.9h.8M39.2 25.0h.8M38.5 16.5h.8M13.8 17.6h.8M45.4 1.9h.8M26.2 11.4h.8M40.0 16.3h.8M17.3 18.6h.8M28.2 35.5h.8M18.3 39.0h.8M5.8 12.4h.8M5.2 5.2h.8M40.5 33.5h.8M9.6 8.7h.8M21.7 34.2h.8M42.4 34.4h.8M30.8 6.7h.8M20.7 8.9h.8M27.4 26.1h.8M10.5 11.5h.8M40.6 1.4h.8M41.8 41.0h.8M49.4 17.6h.8M28.7 26.8h.8M32.9 44.9h.8M35.7 13.8h.8M44.7 22.3h.8M31.3 33.4h.8M0.1 35.4h.8M34.4 22.6h.8M27.2 21.2h.8M10.1 24.4h.8M1.9 23.0h.8M33.6 20.4h.8M29.4 44.1h.8M46.4 6.2h.8M41.2 28.7h.8M2.6 16.6h.8M12.1 3.6h.8M28.0 42.8h.8M16.8 40.0h.8M36.1 6.2h.8M44.6 27.7h.8M48.2 32.9h.8M38.5 15.8h.8M41.9 42.9h.8M44.8 20.1h.8M39.4 22.3h.8M5.7 2.0h.8M4.1 9.2h.8M8.4 22.9h.8M36.4 24.7h.8M21.9 29.9h.8M15.8 21.4h.8M39.4 18.5h.8M9.4 41.4h.8M37.4 16.9h.8M19.3 24.3h.8M31.0 10.3h.8M0.1 9.6h.8M40.7 6.6h.8M23.9 9.0h.8M10.9 7.9h.8M21.0 7.7h.8M1.4 5.1h.8M8.7 22.6h.8M3.1 1.0h.8M23.3 18.8h.8M36.6 2.4h.8M21.0 18.2h.8M1.4 44.4h.8M11.4 4.3h.8M24.7 7.6h.8M32.4 15.9h.8M6.4 2.4h.8M37.8 12.7h.8M41.0 21.4h.8M48.5 13.8h.8M13.0 12.2h.8M42.4 28.9h.8M17.9 4.3h.8M35.5 44.6h.8M30.8 0.2h.8M1.6 4.2h.8M8.9 1.7h.8M2.8 30.1h.8M46.8 9.2h.8M50.6 21.9h.8M41.8 42.2h.8M48.9 1.6h.8M15.8 27.9h.8M49.2 4.0h.8M15.3 39.1h.8M6.0 17.9h.8M17.4 31.3h.8M48.3 8.0h.8M38.5 33.8h.8M43.5 25.5h.8M48.0 16.7h.8M21.6 10.6h.8M40.5 22.1h.8M14.0 7.8h.8M37.5 27.9h.8M37.0 17.8h.8M25.3 7.1h.8M37.0 1.1h.8M24.3 34.9h.8M35.2 4.5h.8M12.3 38.8h.8M33.4 40.4h.8M45.4 20.7h.8M46.6 33.7h.8M17.4 17.0h.8M3.7 18.4h.8M49.7 4.8h.8M29.6 5.1h.8M4.2 29.9h.8M12.5 2.2h.8M7.9 29.6h.8M30.4 0.5h.8M12.0 44.5h.8M11.4 25.9h.8M21.8 35.9h.8M31.4 36.3h.8M27.8 8.7h.8M9.2 3.6h.8M42.9 5.2h.8M1.2 44.5h.8M10.4 41.1h.8M4.5 21.4h.8M11.6 38.2h.8M32.0 29.5h.8M39.6 40.1h.8M18.0 27.7h.8M23.2 5.1h.8M43.4 27.3h.8M42.4 9.5h.8M28.0 21.4h.8M37.9 3.6h.8M18.0 22.3h.8M3.7 25.4h.8M38.2 19.5h.8M33.7 27.9h.8M11.1 16.1h.8M51.8 15.4h.8M22.4 3.9h.8M11.3 7.6h.8M48.4 33.4h.8M45.5 45.4h.8M31.8 42.8h.8M27.9 19.3h.8M49.3 41.5h.8M49.4 22.3h.8M40.2 18.7h.8M51.9 42.3h.8M15.2 43.0h.8M9.6 4.4h.8M37.6 13.5h.8M27.0 29.4h.8M2.1 34.3h.8M14.4 19.9h.8M17.9 34.1h.8M38.8 13.2h.8M5.4 13.8h.8M21.4 3.6h.8M8.0 35.1h.8M36.4 44.9h.8M50.9 40.3h.8M19.4 7.4h.8M16.2 21.3h.8M27.3 24.9h.8M18.7 39.2h.8M14.8 21.3h.8M46.1 37.1h.8M15.5 11.2h.8M41.9 0.5h.8M6.8 24.4h.8M27.9 7.6h.8M2.6 9.4h.8M40.0 21.4h.8M50.9 36.1h.8M50.9 1.6h.8M9.6 0.6h.8M22.5 15.6h.8M2.7 25.1h.8M4.9 14.3h.8M12.9 36.9h.8M21.7 12.0h.8M2.3 19.8h.8M32.6 31.1h.8M47.5 37.2h.8M12.9 6.2h.8M39.4 36.3h.8M26.5 38.2h.8M28.7 12.9h.8M8.8 0.8h.8M33.4 41.3h.8M47.1 21.5h.8M34.6 42.7h.8M42.3 27.7h.8M21.6 23.8h.8M8.9 8.4h.8M35.6 45.6h.8M28.4 18.8h.8M18.3 20.9h.8M41.8 20.8h.8M49.9 7.1h.8M16.4 24.0h.8M21.4 39.1h.8M43.0 42.8h.8M31.8 1.4h.8M29.9 25.3h.8M25.4 12.9h.8M36.9 41.9h.8M5.3 30.8h.8M19.3 23.7h.8M46.6 44.2h.8M33.5 9.0h.8M47.9 8.3h.8M19.9 38.1h.8M16.4 12.5h.8M49.4 43.4h.8M16.5 18.1h.8M14.7 6.0h.8M13.0 45.1h.8M4.1 10.6h.8M10.4 3.7h.8M27.4 34.2h.8M43.6 29.0h.8M42.5 0.2h.8M14.7 44.2h.8M3.6 12.3h.8M25.1 12.3h.8M28.4 2.2h.8M12.3 44.0h.8M7.5 41.7h.8M9.3 45.7h.8M35.1 29.8h.8M7.4 2.5h.8M39.5 8.1h.8M9.9 37.8h.8M45.5 2.2h.8M50.0 24.6h.8M19.9 4.9h.8M20.3 45.4h.8M14.6 6.0h.8M7.6 5.8h.8M18.3 42.1h.8M4.0 8.8h.8M48.8 45.9h.8M51.0 11.3h.8M18.4 43.7h.8M25.2 32.4h.8M16.3 1.0h.8M18.0 34.4h.8M40.7 26.2h.8M24.1 24.8h.8M23.0 24.6h.8M43.3 9.2h.8M30.9 42.9h.8M44.1 8.3h.8M50.1 38.6h.8M8.7 12.2h.8M10.5 2.4h.8M50.9 18.8h.8M45.4 5.3h.8M0.7 40.0h.8M41.3 45.6h.8M35.6 24.2h.8M39.8 4.3h.8M28.1 20.3h.8M7.6 27.6h.8M16.8 23.3h.8M19.4 14.6h.8M18.6 27.6h.8M51.0 43.1h.8M44.8 38.4h.8M14.9 44.9h.8M14.0 5.7h.8M26.0 33.7h.8M17.7 29.7h.8M14.7 44.5h.8M23.6 22.0h.8M27.6 40.2h.8M51.3 24.3h.8M23.0 28.4h.8M3.6 19.6h.8M44.1 35.8h.8M3.1 39.3h.8M20.0 45.1h.8M19.1 9.9h.8M28.5 40.7h.8M22.4 39.9h.8M37.0 16.6h.8M15.6 23.2h.8M20.7 17.1h.8M33.9 40.3h.8M30.4 6.7h.8M11.4 17.1h.8M32.0 6.4h.8M4.2 14.7h.8M14.7 1.4h.8M28.0 42.4h.8M27.8 33.9h.8M43.1 38.5h.8M47.5 20.3h.8M35.5 5.6h.8M45.8 17.4h.8M24.7 41.0h.8M14.9 8.7h.8M42.8 27.5h.8M4.4 1.3h.8M18.3 0.3h.8M43.3 8.4h.8M14.3 17.9h.8M26.6 19.9h.8M32.7 30.4h.8M22.7 4.5h.8M50.9 31.8h.8M4.3 20.3h.8M39.2 45.6h.8M3.4 0.4h.8M25.0 19.4h.8M46.5 38.0h.8M17.2 19.3h.8M30.3 40.7h.8M10.5 18.0h.8M4.6 29.5h.8M1.4 43.0h.8M27.2 26.4h.8M4.4 10.7h.8M24.4 39.4h.8M28.0 13.1h.8M51.1 30.4h.8M27.5 9.3h.8M15.5 41.4h.8M6.9 24.5h.8M32.2 16.3h.8M40.0 41.9h.8M44.6 33.9h.8M10.6 2.8h.8M22.5 14.4h.8M10.1 40.1h.8M11.2 37.8h.8M48.8 5.5h.8M47.5 18.3h.8M11.0 8.6h.8M2.0 22.9h.8M20.0 39.2h.8M43.3 2.6h.8M20.9 17.9h.8M9.2 11.5h.8M13.7 31.9h.8M17.7 5.1h.8M11.5 20.3h.8M29.4 11.3h.8M36.4 9.9h.8M34.9 28.0h.8M9.1 34.5h.8M20.5 24.8h.8M31.1 28.9h.8M23.0 2.6h.8M40.9 39.5h.8M25.5 26.6h.8M14.0 41.3h.8M35.7 10.2h.8M42.5 45.4h.8M18.0 45.8h.8M25.1 8.2h.8M37.3 15.6h.8M38.1 26.8h.8M5.6 24.3h.8M44.2 22.0h.8M28.0 39.7h.8M23.2 22.7h.8M30.3 37.9h.8M10.6 4.3h.8M39.6 25.4h.8M15.7 41.0h.8M46.0 24.9h.8M51.4 38.5h.8M38.9 13.4h.8M0.6 31.2h.8M38.2 16.1h.8M24.9 26.1h.8M13.0 32.1h.8M29.3 17.7h.8M5.7 25.5h.8M16.6 33.3h.8M9.0 18.1h.8M10.2 18.8h.8M30.0 4.9h.8M2.8 22.2h.8M10.5 23.2h.8M8.7 4.6h.8M28.0 42.5h.8M45.2 23.7h.8M20.7 3.0h.8M14.4 14.5h.8M49.0 5.4h.8M49.3 21.9h.8M22.6 12.1h.8M50.1 8.6h.8M29.7 23.5h.8M10.4 10.3h.8M51.2 36.4h.8M38.1 41.5h.8M5.1 32.4h.8M39.0 10.4h.8M23.8 44.8h.8M17.0 35.1h.8M8.6 30.7h.8M14.0 23.4h.8M19.4 40.0h.8M38.7 23.2h.8M35.7 19.7h.8M41.8 11.8h.8M28.3 26.9h.8M20.2 2.1h.8M8.8 29.5h.8M11.0 34.9h.8M26.3 43.8h.8M44.1 33.5h.8M19.4 2.0h.8M28.9 34.3h.8M47.9 9.3h.8M8.2 45.1h.8M38.5 22.3h.8M38.4 6.9h.8M28.3 30.8h.8M31.4 7.4h.8M7.1 28.7h.8M46.0 6.4h.8M0.4 3.8h.8M40.8 18.0h.8M23.7 45.7h.8M31.8 12.1h.8M36.5 0.1h.8M14.6 32.1h.8M8.9 1.5h.8M26.9 15.1h.8M50.5 4.7h.8M41.7 17.9h.8M41.9 20.5h.8M34.7 15.0h.8M11.7 20.8h.8M41.6 15.9h.8M12.0 19.1h.8M5.0 14.5h.8M29.8 25.1h.8M31.1 13.3h.8M1.3 1.2h.8M17.6 9.0h.8M29.6 12.2h.8M39.6 27.7h.8M34.4 33.8h.8M27.1 19.6h.8M16.0 2.9h.8M41.3 23.0h.8M5.2 42.6h.8M30.3 28.7h.8M22.8 5.8h.8M52.0 7.7h.8M19.0 46.0h.8M6.3 23.0h.8M24.9 11.4h.8M48.1 19.1h.8M0.6 21.8h.8M0.2 32.6h.8M45.2 41.7h.8M2.5 31.1h.8M15.8 21.7h.8M15.6 14.0h.8M6.9 28.8h.8M4.6 44.4h.8M2.3 44.3h.8M10.0 3.8h.8M38.7 24.4h.8M40.0 23.4h.8M32.8 3.8h.8M35.0 23.6h.8M50.0 0.3h.8M3.6 31.1h.8M48.2 19.4h.8M37.0 25.8h.8M20.3 21.4h.8M31.3 1.3h.8M15.9 34.0h.8M13.4 21.8h.8M13.3 16.5h.8M33.8 34.2h.8M49.8 21.9h.8M10.5 15.5h.8M3.0 11.0h.8M30.4 28.1h.8M12.6 8.4h.8M5.1 8.2h.8M26.1 11.7h.8M46.0 26.0h.8M17.7 19.8h.8M2.1 33.7h.8M39.1 16.7h.8M37.7 12.5h.8M11.4 10.5h.8M10.2 27.9h.8M33.4 33.5h.8M5.4 35.2h.8M24.9 17.4h.8M26.2 19.9h.8M10.4 18.2h.8M33.6 32.9h.8M47.6 8.9h.8M46.3 36.8h.8M37.1 45.1h.8M7.2 35.7h.8M46.8 5.6h.8M30.9 43.6h.8M15.2 39.3h.8M47.1 20.0h.8M7.6 9.9h.8M43.2 19.4h.8M16.4 20.4h.8M48.3 11.7h.8M1.0 43.7h.8M16.5 17.7h.8M50.7 13.0h.8M4.5 40.8h.8M12.7 10.2h.8M48.8 10.6h.8M46.9 15.3h.8M15.8 9.9h.8M28.2 25.8h.8M20.7 23.3h.8M15.5 38.5h.8M48.6 34.6h.8M42.6 3.3h.8M13.0 9.4h.8M8.1 44.5h.8M47.1 42.1h.8M29.0 5.4h.8M22.2 2.6h.8M47.0 12.2h.8M15.0 43.5h.8M10.4 42.4h.8M16.2 30.6h.8M5.5 41.3h.8M20.7 15.9h.8M34.0 27.3h.8M13.1 5.7h.8M29.9 1.1h.8M45.3 15.8h.8M8.8 15.1h.8M5.9 14.6h.8M28.2 18.7h.8M17.4 13.4h.8M25.3 35.8h.8M22.8 35.3h.8M25.1 5.5h.8M8.9 39.0h.8M24.9 17.6h.8M26.8 38.9h.8M19.5 16.6h.8M19.0 0.5h.8M28.3 22.0h.8M25.8 20.8h.8M24.6 32.9h.8M9.7 45.1h.8M6.0 39.9h.8M9.1 36.6h.8M13.5 3.6h.8M28.1 38.6h.8M44.0 40.3h.8M50.9 2.4h.8M19.7 4.9h.8M39.3 20.8h.8M38.7 36.6h.8M51.9 31.1h.8M45.5 25.2h.8M4.2 41.0h.8M4.7 3.9h.8M43.2 12.9h.8M34.4 1.3h.8M11.0 32.9h.8M2.0 23.5h.8M48.7 9.9h.8M36.6 34.2h.8M32.2 35.3h.8M36.3 0.7h.8M10.0 24.7h.8M50.4 10.0h.8M30.5 5.9h.8M44.0 20.5h.8M27.1 30.8h.8M7.1 33.5h.8M41.6 39.5h.8M14.6 10.8h.8M8.6 41.4h.8M22.8 17.9h.8M27.1 32.1h.8M16.5 15.5h.8M39.8 35.7h.8M15.4 3.4h.8M48.3 33.6h.8M30.9 18.6h.8M49.9 19.8h.8M11.3 4.6h.8M18.3 27.6h.8M19.0 43.6h.8M33.8 21.1h.8M34.3 27.7h.8M32.1 22.8h.8M27.2 22.6h.8M43.2 8.8h.8M40.8 13.7h.8M44.1 3.3h.8M25.2 20.4h.8M37.0 9.3h.8M13.6 6.1h.8M29.2 26.5h.8M0.0 8.2h.8M10.4 44.0h.8M23.7 26.0h.8M15.1 30.3h.8M42.3 30.9h.8M0.1 20.2h.8M25.4 2.0h.8M41.1 14.7h.8M15.3 28.8h.8M30.4 22.8h.8M44.7 23.9h.8M17.8 3.0h.8M28.7 16.7h.8M27.9 16.0h.8M0.4 1.7h.8M8.2 4.3h.8M44.3 26.7h.8M12.4 32.7h.8M33.0 2.9h.8M39.1 10.5h.8M51.9 6.5h.8M14.9 11.5h.8M44.8 37.7h.8M30.1 6.9h.8M22.3 32.3h.8M3.0 42.4h.8M43.8 42.9h.8M36.3 28.4h.8M50.7 12.3h.8M15.9 5.7h.8M9.4 36.7h.8M5.0 34.2h.8M20.6 40.4h.8M39.5 31.6h.8M43.9 2.0h.8M13.8 17.0h.8M22.3 30.8h.8M45.7 34.0h.8M48.3 32.0h.8M18.5 23.4h.8M38.9 37.5h.8M19.2 16.3h.8M32.0 10.5h.8M45.9 0.0h.8M33.7 22.3h.8M10.1 26.2h.8M24.7 44.3h.8M46.0 27.0h.8M45.3 40.6h.8M8.6 38.1h.8M43.3 45.6h.8M39.5 18.0h.8M10.7 30.0h.8M11.0 34.8h.8M29.9 38.0h.8M18.5 13.9h.8M47.0 30.5h.8M19.7 25.8h.8M22.6 29.6h.8M26.9 13.1h.8M50.9 40.7h.8M39.5 12.8h.8M10.1 33.6h.8M42.8 30.0h.8M11.1 33.1h.8M27.2 17.2h.8M30.6 20.6h.8M33.7 34.6h.8M51.1 5.1h.8M29.7 43.5h.8M34.2 26.7h.8M44.4 1.4h.8M41.2 28.7h.8M30.4 14.3h.8M32.2 5.8h.8M27.3 11.9h.8M48.4 37.0h.8M24.6 34.7h.8M20.0 24.1h.8M8.4 39.5h.8M39.7 35.0h.8M4.3 37.7h.8M0.6 26.0h.8M25.4 2.7h.8M21.9 40.8h.8M32.5 14.5h.8M42.3 16.3h.8M46.6 18.4h.8M4.0 44.7h.8M3.7 11.6h.8M40.1 5.3h.8M28.3 39.5h.8M30.7 16.0h.8M39.4 38.0h.8M30.1 28.8h.8M16.8 18.7h.8M51.6 44.7h.8M0.1 9.0h.8M11.7 36.5h.8M10.4 7.8h.8M39.8 7.8h.8M50.8 20.9h.8M46.7 37.7h.8M10.8 36.1h.8M21.6 10.2h.8M2.4 32.3h.8M29.2 13.9h.8M43.3 9.1h.8M23.1 4.0h.8M18.2 40.7h.8M26.0 7.1h.8M12.3 29.6h.8M14.4 40.8h.8M3.1 40.0h.8M32.3 37.8h.8M18.4 3.2h.8M9.0 28.8h.8M1.3 5.1h.8M40.7 40.4h.8M44.5 38.5h.8M28.9 40.3h.8M36.3 25.6h.8M22.1 1.1h.8M4.7 11.5h.8M24.0 5.6h.8M50.5 26.5h.8M38.5 41.1h.8M11.8 40.8h.8M49.8 12.3h.8M6.5 36.8h.8M46.3 36.7h.8M21.2 27.7h.8M5.9 10.8h.8M21.8 34.3h.8M4.6 42.7h.8M1.6 44.6h.8M12.3 37.7h.8M42.5 43.9h.8M24.4 32.1h.8M15.2 38.3h.8M5.7 40.7h.8M30.8 2.8h.8M48.9 14.5h.8M3.5 11.9h.8M1.4 12.9h.8M36.9 45.5h.8M32.8 39.3h.8M42.8 32.9h.8M20.0 11.6h.8M8.1 25.2h.8M10.6 34.0h.8M16.7 26.6h.8M28.4 28.9h.8M8.1 11.8h.8M35.8 9.8h.8M34.9 44.4h.8M20.2 44.2h.8M31.9 43.4h.8M27.4 34.6h.8M35.5 9.0h.8M26.9 26.7h.8M24.1 30.4h.8M47.3 36.6h.8M42.2 6.6h.8M36.6 28.9h.8M48.8 0.1h.8M9.0 44.9h.8M19.4 32.5h.8M30.8 18.3h.8M22.8 25.9h.8M51.2 24.5h.8M41.1 14.0h.8M37.0 27.8h.8M38.7 40.5h.8M4.2 44.5h.8M31.7 12.0h.8M24.1 4.5h.8M12.0 38.5h.8M37.0 39.9h.8M8.4 5.0h.8M19.7 22.8h.8M37.0 13.7h.8M38.3 26.9h.8M15.0 36.2h.8M3.8 27.2h.8M9.8 2.0h.8M24.9 23.9h.8M31.9 17.3h.8M48.3 36.1h.8M8.0 0.2h.8M50.0 18.9h.8M5.5 8.2h.8M36.4 8.1h.8M19.4 31.1h.8M18.3 30.1h.8M49.3 36.5h.8M32.7 28.8h.8M16.1 29.5h.8M33.8 27.0h.8M25.5 34.6h.8M10.6 32.8h.8M50.9 1.7h.8M13.1 45.3h.8M4.3 37.6h.8M30.2 3.2h.8M32.7 0.4h.8M44.2 13.9h.8M48.0 41.3h.8M7.1 18.5h.8M7.9 34.9h.8M5.0 3.4h.8M6.0 39.5h.8M12.8 14.9h.8M23.2 25.4h.8M21.5 43.6h.8M17.7 21.9h.8M44.8 11.2h.8M9.0 38.5h.8M16.4 41.0h.8M42.7 17.2h.8M17.3 4.7h.8M45.4 20.4h.8M17.8 8.1h.8M11.7 40.2h.8M6.8 25.5h.8M32.5 23.9h.8M26.1 18.3h.8M10.0 37.8h.8M46.6 25.9h.8M13.1 42.0h.8M10.5 7.9h.8M32.5 38.2h.8M29.8 5.0h.8M50.9 7.2h.8M17.9 45.5h.8M41.2 34.8h.8M3.9 39.2h.8M20.8 0.5h.8M41.0 42.8h.8M2.5 20.9h.8M46.9 15.3h.8M15.8 35.8h.8M22.9 45.9h.8M44.5 39.5h.8M36.8 9.0h.8M35.7 26.6h.8M25.1 26.1h.8M15.9 9.1h.8M47.4 16.9h.8M5.5 44.9h.8M26.6 31.1h.8M17.6 6.8h.8M17.3 38.3h.8M14.2 42.0h.8M15.8 41.3h.8M9.3 20.4h.8M6.7 6.8h.8M27.2 16.8h.8M28.0 10.0h.8M16.1 14.8h.8M46.7 3.7h.8M21.6 39.3h.8M29.8 11.8h.8M51.9 5.0h.8M7.1 0.8h.8M22.8 39.5h.8M14.7 13.1h.8M41.5 3.6h.8M0.9 30.5h.8M4.6 24.3h.8M7.5 27.7h.8M44.3 20.8h.8M14.2 28.7h.8M36.4 2.6h.8M12.5 17.3h.8M26.3 12.6h.8M34.2 11.8h.8M47.0 16.2h.8M11.5 3.6h.8M6.6 9.9h.8M45.9 19.2h.8M23.0 44.1h.8M50.3 35.2h.8M12.5 15.1h.8M26.3 11.9h.8M18.0 9.8h.8M12.5 34.5h.8M31.4 20.5h.8M24.5 28.2h.8M35.6 1.1h.8M43.9 21.3h.8M17.8 44.1h.8M39.3 16.1h.8M1.3 20.1h.8M22.9 17.2h.8M5.1 26.5h.8M13.2 35.0h.8M27.5 13.5h.8M43.0 20.6h.8M4.4 12.9h.8M2.7 19.8h.8M47.3 43.3h.8M33.9 7.1h.8M12.5 9.3h.8M19.4 29.4h.8M1.2 22.5h.8M22.1 30.4h.8M43.0 18.3h.8M31.3 12.5h.8M23.6 29.2h.8M2.7 23.6h.8M26.1 8.4h.8M12.9 37.9h.8M18.2 8.9h.8M14.8 24.0h.8M20.7 16.1h.8M16.8 10.0h.8M26.2 27.6h.8M4.6 27.2h.8M16.0 45.0h.8M48.8 6.0h.8M36.2 15.9h.8M5.8 40.3h.8M47.2 36.2h.8M33.1 45.0h.8M28.9 31.1h.8M33.9 39.5h.8M44.5 14.0h.8M10.8 25.1h.8M30.7 16.2h.8M44.8 39.0h.8M35.7 24.6h.8M36.2 9.0h.8M42.0 5.9h.8M47.0 28.8h.8M14.4 8.8h.8M31.2 21.3h.8M36.2 4.5h.8M45.5 19.7h.8M22.9 34.0h.8M31.5 20.5h.8M15.2 21.4h.8M1.6 11.8h.8M42.9 5.5h.8M4.5 39.0h.8M19.4 24.4h.8M30.5 33.0h.8M16.6 35.4h.8M0.0 39.0h.8M16.1 28.8h.8M15.8 34.5h.8M19.6 27.7h.8M16.7 38.3h.8M40.4 9.3h.8M39.3 43.4h.8M12.3 8.8h.8M48.4 44.3h.8M6.7 35.7h.8M48.4 12.1h.8M40.6 13.7h.8M40.9 23.4h.8M24.6 5.7h.8M33.9 32.2h.8M15.1 2.1h.8M4.7 11.9h.8M51.8 34.2h.8M46.6 34.5h.8M6.9 17.8h.8M49.4 39.2h.8M51.6 37.7h.8M37.0 35.1h.8M47.6 19.7h.8M1.7 14.4h.8M0.7 12.5h.8M30.7 12.7h.8M12.9 4.4h.8M18.6 23.7h.8M30.7 43.4h.8M3.7 11.7h.8M4.0 42.8h.8M32.9 30.2h.8M42.3 0.1h.8M47.0 15.3h.8M32.7 18.6h.8M38.8 13.9h.8M14.4 11.5h.8M37.7 21.0h.8M8.1 16.3h.8M29.5 17.1h.8M30.8 38.8h.8M33.3 36.9h.8M15.8 40.0h.8M48.9 24.4h.8M1.2 4.0h.8M39.4 39.9h.8M37.7 23.4h.8M28.1 5.3h.8M31.1 46.0h.8M10.7 28.1h.8M44.2 29.9h.8M18.2 10.9h.8M38.1 42.7h.8M45.6 18.4h.8M38.7 37.3h.8M19.5 34.8h.8M20.1 9.2h.8M0.0 33.3h.8M39.1 2.0h.8M3.2 14.7h.8M10.8 33.7h.8M9.9 26.9h.8M28.6 16.0h.8M44.4 20.1h.8M26.6 30.6h.8M21.0 8.6h.8M49.6 34.6h.8M28.4 22.8h.8M32.1 13.6h.8M3.8 25.1h.8M46.8 4.5h.8M51.0 17.2h.8M51.9 35.4h.8M14.2 9.8h.8M46.2 45.1h.8M41.9 26.9h.8M28.3 36.0h.8M42.8 38.4h.8M15.0 38.0h.8M49.6 26.4h.8M0.5 8.7h.8M33.9 19.6h.8M47.7 29.5h.8M36.4 7.0h.8M27.3 32.7h.8M47.7 41.5h.8M13.7 23.1h.8M50.9 4.1h.8M3.7 8.4h.8M38.0 15.0h.8M36.8 38.1h.8M42.0 1.8h.8M35.8 36.7h.8M36.5 39.7h.8M42.5 28.2h.8M45.0 25.0h.8M5.6 13.1h.8M48.5 15.5h.8M24.5 40.2h.8M35.6 36.4h.8M24.5 23.4h.8M4.0 9.2h.8M8.2 24.7h.8M27.4 3.3h.8M33.0 4.7h.8M20.1 1.2h.8M24.7 6.7h.8M48.9 16.7h.8M43.1 20.3h.8M17.0 38.6h.8M14.3 23.7h.8M33.2 45.7h.8M36.6 2.4h.8M23.7 43.8h.8M44.4 17.0h.8M6.7 12.4h.8M39.4 8.3h.8M46.4 12.2h.8M35.8 31.9h.8M12.6 23.9h.8M32.7 12.4h.8M27.7 28.9h.8M49.8 13.1h.8M9.0 23.3h.8M31.0 22.4h.8M47.5 9.3h.8M26.4 21.7h.8M10.3 20.9h.8M23.5 17.3h.8M40.2 45.4h.8M50.4 10.0h.8M19.3 43.7h.8M4.3 4.1h.8M3.4 44.2h.8M26.3 19.9h.8M5.1 40.7h.8M51.6 31.6h.8M47.4 26.1h.8M16.2 8.3h.8M15.8 6.9h.8M19.2 2.2h.8M2.1 41.3h.8M44.1 37.5h.8M18.3 20.7h.8M28.2 36.2h.8M15.8 23.6h.8M28.6 38.7h.8M18.2 0.2h.8M21.0 40.7h.8M9.1 28.8h.8M6.9 12.5h.8M32.5 4.7h.8M23.6 27.0h.8M20.2 34.8h.8M44.0 12.8h.8M39.6 34.8h.8M31.0 27.2h.8M29.5 34.0h.8M35.9 12.5h.8M33.8 32.7h.8M24.0 41.2h.8M16.4 25.4h.8M29.6 27.8h.8M9.6 30.7h.8M6.0 24.5h.8M23.5 32.0h.8M44.6 45.3h.8M11.9 41.9h.8M24.5 23.2h.8M2.1 39.5h.8M11.9 12.8h.8M15.9 10.8h.8M15.0 13.3h.8M27.7 16.6h.8M39.3 42.9h.8M48.5 17.3h.8M35.5 33.7h.8M37.7 18.4h.8M10.0 34.9h.8M34.1 16.2h.8M34.7 3.1h.8M40.8 41.3h.8M50.5 5.2h.8M35.9 36.0h.8M7.3 28.1h.8M9.9 10.0h.8M1.5 12.9h.8M44.2 27.0h.8M41.4 44.6h.8M7.9 39.0h.8M46.6 29.9h.8M17.4 8.1h.8M22.8 17.1h.8M13.5 31.0h.8M33.0 11.9h.8M9.0 23.0h.8M37.0 30.6h.8M33.3 41.3h.8M39.4 20.3h.8M38.8 30.6h.8M17.7 7.7h.8M19.6 33.0h.8M39.0 14.0h.8M28.2 3.4h.8M31.1 20.7h.8M39.9 39.6h.8M2.7 44.4h.8M8.9 44.3h.8M51.2 10.2h.8M15.2 6.7h.8M47.3 34.8h.8M50.2 37.1h.8M18.7 35.6h.8M18.5 15.2h.8M22.1 32.2h.8M16.5 25.8h.8M29.5 36.5h.8M24.4 19.3h.8M28.9 21.2h.8M38.0 4.9h.8M9.2 1.8h.8M21.5 39.0h.8M31.2 29.3h.8M48.6 37.8h.8M15.2 10.2h.8M28.0 10.5h.8M31.0 3.6h.8M20.3 33.2h.8M13.3 6.9h.8M38.9 8.9h.8M46.9 28.2h.8M46.2 24.5h.8M25.4 11.9h.8M3.0 43.9h.8M11.4 3.7h.8M48.5 24.7h.8M30.2 42.3h.8M38.1 11.9h.8M14.7 30.2h.8M35.4 10.4h.8M13.0 23.4h.8M3.1 37.0h.8M34.2 6.9h.8M30.1 27.2h.8M4.6 19.8h.8M41.2 20.9h.8M37.8 10.7h.8M51.9 30.7h.8M29.0 0.5h.8M18.5 0.1h.8M22.8 8.1h.8M12.7 14.1h.8M7.5 13.0h.8M26.2 6.2h.8M29.1 43.7h.8M37.5 43.9h.8M5.7 30.4h.8M12.5 43.0h.8M25.8 33.2h.8M40.4 6.1h.8M5.2 37.3h.8M42.6 20.0h.8M1.3 1.1h.8M41.7 32.0h.8M19.4 31.2h.8M42.0 0.3h.8M38.8 45.0h.8M45.2 40.7h.8M22.9 27.9h.8M5.9 36.5h.8M34.3 18.6h.8M2.6 8.2h.8M20.9 42.4h.8M24.5 39.8h.8M9.7 11.7h.8M12.3 13.2h.8M41.3 17.0h.8M16.6 31.3h.8M23.2 40.4h.8M36.2 38.3h.8M22.2 18.2h.8M23.5 45.4h.8M49.1 26.1h.8M25.7 3.3h.8M44.6 28.1h.8M21.4 7.7h.8M24.5 32.6h.8M14.0 12.2h.8M26.6 22.8h.8M0.4 2.9h.8M19.5 32.6h.8M19.9 0.7h.8M12.7 9.0h.8M39.7 10.5h.8M51.0 13.3h.8M9.4 0.9h.8M25.6 23.7h.8M40.6 30.8h.8M28.2 2.4h.8M48.2 11.4h.8M12.2 8.0h.8M30.6 30.1h.8M16.4 11.8h.8M0.6 27.3h.8M37.0 5.5h.8M12.5 34.6h.8M36.9 6.3h.8M51.4 33.0h.8M37.2 14.8h.8M50.3 20.3h.8M33.1 45.2h.8M43.4 8.1h.8M6.8 9.6h.8M6.2 40.7h.8M28.2 21.9h.8M19.2 22.8h.8M22.7 33.4h.8M21.6 39.9h.8M44.0 39.9h.8M39.0 7.9h.8M21.9 38.7h.8M18.5 26.3h.8M11.0 37.9h.8M17.3 16.6h.8M42.5 4.1h.8M0.4 19.5h.8M23.1 5.2h.8M20.4 35.4h.8M45.9 42.4h.8M41.3 3.4h.8M19.0 20.6h.8M1.5 35.9h.8M14.5 35.9h.8M35.1 12.3h.8M17.8 20.7h.8M10.1 0.5h.8M21.9 10.5h.8M13.2 36.2h.8M38.6 18.9h.8M1.3 35.1h.8M13.7 4.6h.8M39.1 41.7h.8M13.3 25.1h.8M46.2 23.9h.8M18.1 7.2h.8M1.4 41.0h.8M42.2 8.4h.8M33.6 8.8h.8M38.9 17.3h.8M36.2 24.6h.8M4.3 26.2h.8M34.0 2.1h.8M1.9 12.4h.8M37.5 44.9h.8M23.2 39.5h.8M36.9 12.6h.8M23.2 38.9h.8M25.1 23.3h.8M37.5 6.8h.8M23.9 23.9h.8M29.5 31.9h.8M14.1 21.8h.8M24.0 4.8h.8M40.9 44.1h.8M29.1 18.9h.8M19.2 20.9h.8M19.3 12.5h.8M49.3 16.9h.8M11.1 30.3h.8M0.3 16.3h.8M29.2 37.7h.8M15.8 2.4h.8M50.3 0.5h.8M21.8 23.5h.8M51.3 16.4h.8M12.6 13.1h.8M19.5 6.7h.8M46.8 23.6h.8M38.2 12.7h.8M34.7 42.0h.8M12.0 44.0h.8M14.8 33.0h.8M49.0 21.3h.8M48.4 18.2h.8M22.7 42.5h.8M31.3 2.4h.8M7.8 24.6h.8M17.7 2.7h.8M42.4 15.0h.8M47.0 16.8h.8M9.5 19.5h.8M43.0 41.6h.8M29.3 11.6h.8M27.4 12.1h.8M18.8 0.3h.8M1.0 42.9h.8M39.9 11.2h.8M32.0 1.9h.8M43.1 28.2h.8M37.5 19.8h.8M22.6 37.5h.8M16.5 3.6h.8M6.0 42.2h.8M14.4 2.9h.8M29.4 6.0h.8M22.2 35.6h.8M12.1 19.4h.8M48.5 40.0h.8M45.2 1.7h.8M50.6 25.8h.8M7.8 45.3h.8M6.4 45.3h.8M1.6 3.6h.8M24.6 28.0h.8M30.4 37.6h.8M5.6 33.4h.8M16.7 43.9h.8M32.5 31.7h.8M6.9 42.0h.8M15.1 9.6h.8M21.9 36.0h.8M16.8 21.7h.8M31.4 11.4h.8M6.2 18.7h.8M37.1 31.2h.8M11.0 30.2h.8M43.5 32.4h.8M9.5 1.9h.8M51.3 32.6h.8M14.2 34.1h.8M30.2 29.0h.8M18.7 30.7h.8M19.9 17.7h.8M16.9 33.9h.8M44.7 13.4h.8M3.9 11.6h.8M39.3 16.4h.8M0.6 38.8h.8M22.6 3.1h.8M38.9 23.4h.8M44.1 38.4h.8M42.8 40.6h.8M20.0 37.2h.8M25.7 30.0h.8M11.3 28.8h.8M3.8 39.6h.8M9.3 26.2h.8M43.8 38.1h.8M44.5 19.6h.8M3.7 45.3h.8M15.9 39.8h.8M21.3 20.3h.8M28.2 25.1h.8M40.6 27.0h.8M8.7 24.5h.8M4.9 39.3h.8M9.1 16.8h.8M30.7 15.7h.8M46.5 36.5h.8M17.3 19.7h.8M38.4 23.5h.8M33.1 15.5h.8M29.6 27.2h.8M46.8 16.2h.8M41.6 9.8h.8M15.1 10.7h.8M48.3 4.4h.8M15.0 21.5h.8M36.9 30.4h.8M6.3 18.0h.8M37.4 6.6h.8M6.3 37.9h.8M0.0 3.7h.8M9.8 38.4h.8M18.1 19.8h.8M28.1 41.0h.8M2.1 8.9h.8M20.9 29.5h.8M6.9 20.0h.8M29.6 3.0h.8M17.3 2.8h.8M47.4 0.5h.8M8.3 28.2h.8M12.0 26.4h.8M17.7 45.6h.8M29.6 16.2h.8M9.4 22.1h.8M40.2 32.9h.8M36.7 23.7h.8M48.6 18.4h.8M28.4 43.9h.8M41.1 21.8h.8M41.4 35.5h.8M15.3 18.4h.8M39.4 17.2h.8M18.2 24.7h.8M4.0 12.0h.8M51.3 11.4h.8M41.9 0.3h.8M16.0 23.7h.8M16.3 43.4h.8M49.8 13.7h.8M7.1 42.3h.8M41.3 23.9h.8M3.1 0.4h.8M35.8 31.5h.8M24.2 15.3h.8M14.3 17.1h.8M21.7 28.2h.8M21.5 15.5h.8M11.7 30.4h.8M48.7 8.5h.8M40.1 29.7h.8M12.0 6.2h.8M43.5 6.8h.8M6.2 4.2h.8M42.3 17.4h.8M0.1 12.9h.8M27.0 21.8h.8M7.7 39.0h.8M36.2 12.6h.8M16.6 11.7h.8M1.1 28.1h.8M14.3 30.4h.8M43.6 14.7h.8M14.9 16.8h.8M24.7 2.2h.8M20.3 14.4h.8M5.8 38.4h.8M36.2 22.5h.8M3.8 33.5h.8M19.7 40.6h.8M33.6 11.0h.8M39.1 27.2h.8M18.4 36.6h.8M17.1 6.6h.8M2.3 28.2h.8M14.2 7.3h.8M2.5 35.6h.8M14.5 39.5h.8M46.4 37.6h.8M11.7 43.4h.8M32.4 38.9h.8M47.2 14.6h.8M19.5 41.3h.8M15.1 4.6h.8M2.0 25.6h.8M16.0 43.5h.8M0.5 18.3h.8M37.0 27.9h.8M43.3 29.9h.8M45.4 44.5h.8M44.8 27.7h.8M20.7 24.4h.8M11.4 11.7h.8M27.0 20.2h.8M20.2 3.9h.8M51.0 15.3h.8M25.0 16.0h.8M28.9 35.9h.8M48.8 27.7h.8M48.8 16.9h.8M24.6 15.5h.8M50.2 5.9h.8M11.7 35.3h.8M12.4 3.0h.8M19.2 21.4h.8M23.6 10.7h.8M18.1 13.2h.8M9.1 23.3h.8M11.9 8.8h.8M48.3 40.8h.8M19.7 24.4h.8M5.1 0.9h.8M26.7 43.5h.8M4.1 20.9h.8M41.3 0.5h.8M30.5 12.0h.8M39.2 37.9h.8M45.9 35.9h.8M4.5 30.2h.8M29.1 13.9h.8M10.4 21.7h.8M22.0 18.7h.8M49.6 10.6h.8M44.5 6.7h.8M35.9 20.4h.8M20.5 22.0h.8M6.9 10.1h.8M21.4 8.8h.8M44.0 31.8h.8M32.7 32.0h.8M8.5 0.5h.8M4.1 40.7h.8M25.4 44.8h.8M16.8 17.7h.8M33.7 39.0h.8M22.2 22.2h.8M18.5 11.0h.8M47.1 41.6h.8M22.7 6.4h.8M45.3 21.4h.8M38.9 19.2h.8M4.2 34.3h.8M5.5 43.1h.8M8.8 15.7h.8M0.2 10.1h.8M33.8 4.2h.8M5.9 2.8h.8M0.7 23.7h.8M11.7 34.6h.8M35.3 23.2h.8M48.3 44.6h.8M16.0 35.6h.8M36.1 8.6h.8M40.8 1.6h.8M35.0 41.7h.8M33.9 32.1h.8M34.3 18.9h.8M5.8 17.4h.8M16.2 37.4h.8M45.7 44.6h.8M17.3 41.1h.8M47.0 0.9h.8M28.5 4.4h.8M4.1 20.4h.8M36.7 8.2h.8M16.7 22.3h.8M28.3 5.7h.8M9.0 0.6h.8M16.7 45.4h.8M9.7 34.7h.8M33.7 39.6h.8M41.8 2.8h.8M17.1 38.3h.8M33.6 39.3h.8M1.7 38.6h.8M20.6 36.2h.8M30.3 16.4h.8M27.3 1.2h.8M48.6 40.2h.8M33.7 29.8h.8M38.3 20.2h.8M12.6 29.9h.8M51.2 39.9h.8M41.5 7.6h.8M16.2 12.9h.8M29.3 41.4h.8M32.3 26.9h.8M22.2 8.1h.8M13.8 45.2h.8M47.2 30.0h.8M35.7 10.4h.8M1.2 1.1h.8M0.9 9.3h.8M51.0 26.6h.8M11.5 4.2h.8M0.9 0.6h.8M7.0 15.5h.8M8.1 10.5h.8M32.5 5.9h.8M7.1 35.5h.8M14.6 28.9h.8M14.8 32.1h.8M0.5 12.4h.8M44.9 13.5h.8M33.1 9.7h.8M5.6 19.5h.8M23.8 1.6h.8M27.5 19.5h.8M18.7 34.9h.8M46.2 18.7h.8M15.8 35.4h.8M39.4 23.6h.8M31.9 15.7h.8M37.7 26.6h.8M44.7 13.8h.8M3.5 39.8h.8M30.5 36.9h.8M38.8 35.5h.8M18.8 39.8h.8M32.1 18.7h.8M8.7 4.4h.8M12.0 14.7h.8M17.2 28.5h.8M49.9 25.9h.8M34.6 0.5h.8M36.2 24.6h.8M40.4 16.1h.8M33.5 23.5h.8M40.6 20.0h.8M42.9 40.0h.8M27.5 23.1h.8M36.7 23.9h.8M50.4 43.0h.8" stroke="#fff" stroke-width="0.8"/></pattern><mask id="mP3" maskUnits="userSpaceOnUse" x="0" y="0" width="685" height="568"><rect width="685" height="568" fill="url(#P3)"/></mask><pattern id="P4" patternUnits="userSpaceOnUse" width="46" height="50"><path d="M10.9 5.2h.8M18.2 7.7h.8M3.1 20.1h.8M42.2 40.0h.8M35.2 11.1h.8M24.7 13.8h.8M7.9 5.3h.8M9.9 46.4h.8M38.1 40.3h.8M36.8 9.7h.8M14.3 31.3h.8M33.7 42.7h.8M40.5 4.3h.8M27.9 33.6h.8M23.3 8.9h.8M21.8 4.5h.8M43.0 43.3h.8M25.2 15.0h.8M41.8 28.6h.8M40.6 42.4h.8M23.4 20.7h.8M27.5 21.6h.8M7.4 15.3h.8M37.4 2.2h.8M2.1 31.3h.8M12.9 26.7h.8M21.7 17.1h.8M45.9 9.8h.8M19.0 10.1h.8M29.1 13.8h.8M16.4 37.3h.8M14.8 27.9h.8M41.6 5.0h.8M2.8 11.4h.8M35.2 30.8h.8M10.9 16.6h.8M8.2 23.0h.8M2.0 34.9h.8M41.2 47.7h.8M33.8 48.0h.8M0.8 14.4h.8M44.4 38.8h.8M18.9 47.2h.8M28.5 40.9h.8M13.5 9.6h.8M20.4 6.8h.8M17.6 48.1h.8M15.2 0.5h.8M2.1 8.5h.8M36.1 18.1h.8M13.4 4.9h.8M45.2 21.2h.8M9.6 3.0h.8M2.5 8.4h.8M31.1 7.5h.8M1.9 24.5h.8M11.5 49.9h.8M5.6 26.5h.8M35.6 20.5h.8M45.4 23.9h.8M11.1 20.5h.8M1.7 21.1h.8M11.4 44.5h.8M38.2 24.9h.8M1.5 12.7h.8M11.1 10.4h.8M10.6 43.5h.8M6.5 2.6h.8M42.7 28.3h.8M45.6 20.1h.8M41.4 32.7h.8M36.4 37.2h.8M22.7 4.6h.8M9.7 43.7h.8M41.4 46.2h.8M15.5 32.8h.8M36.8 32.1h.8M37.5 26.4h.8M30.1 34.3h.8M12.3 46.1h.8M44.0 3.7h.8M44.7 48.1h.8M30.7 2.2h.8M41.4 6.4h.8M44.6 33.4h.8M2.8 8.4h.8M29.2 28.5h.8M34.3 46.4h.8M10.1 0.2h.8M42.4 0.7h.8M40.3 5.8h.8M37.3 39.1h.8M40.4 27.5h.8M40.4 10.1h.8M30.9 16.5h.8M41.0 38.7h.8M21.7 26.3h.8M1.2 1.7h.8M27.3 24.4h.8M39.8 30.4h.8M6.4 18.1h.8M35.3 26.1h.8M0.5 41.9h.8M38.1 4.3h.8M25.0 19.1h.8M36.2 15.6h.8M10.8 24.3h.8M44.4 4.8h.8M5.3 31.0h.8M40.7 25.6h.8M20.0 42.9h.8M35.7 3.3h.8M40.5 9.8h.8M13.9 41.8h.8M19.4 39.9h.8M7.7 43.7h.8M8.1 7.5h.8M22.7 16.9h.8M24.9 45.2h.8M32.7 0.3h.8M14.3 27.2h.8M22.4 35.8h.8M22.3 3.8h.8M11.3 42.4h.8M16.4 38.3h.8M45.3 31.3h.8M31.1 30.5h.8M14.4 45.6h.8M21.5 45.6h.8M14.1 43.4h.8M36.2 30.6h.8M20.3 7.0h.8M35.5 18.1h.8M30.5 6.7h.8M3.8 7.2h.8M37.2 8.9h.8M41.5 18.6h.8M26.5 17.5h.8M28.6 4.7h.8M18.5 46.8h.8M8.3 32.7h.8M15.0 15.0h.8M1.1 1.0h.8M43.7 41.5h.8M36.9 40.4h.8M43.9 7.9h.8M26.9 24.8h.8M26.4 46.9h.8M35.0 48.4h.8M5.4 32.6h.8M31.1 37.3h.8M28.4 41.6h.8M13.9 46.4h.8M18.7 30.0h.8M41.3 35.2h.8M14.2 11.5h.8M15.0 31.3h.8M45.8 45.0h.8M18.4 20.0h.8M37.6 14.2h.8M18.9 0.7h.8M8.5 27.0h.8M31.9 30.7h.8M16.8 47.6h.8M28.7 7.8h.8M3.1 48.7h.8M45.4 46.0h.8M27.8 15.6h.8M4.2 12.9h.8M10.2 46.4h.8M41.1 38.9h.8M6.8 11.9h.8M13.8 47.4h.8M7.5 39.5h.8M31.3 27.4h.8M44.1 13.1h.8M24.1 7.9h.8M4.5 1.6h.8M14.6 6.1h.8M2.8 49.6h.8M13.3 44.5h.8M32.3 36.6h.8M30.1 47.6h.8M40.4 36.0h.8M25.8 34.7h.8M33.3 27.6h.8M23.1 7.7h.8M38.8 24.2h.8M3.1 8.4h.8M40.2 12.8h.8M18.0 34.1h.8M39.6 16.4h.8M17.8 21.2h.8M1.3 43.8h.8M0.9 48.0h.8M7.0 7.8h.8M39.0 41.2h.8M10.7 27.7h.8M21.9 35.9h.8M8.5 41.3h.8M45.8 35.3h.8M42.4 46.9h.8M17.5 42.4h.8M38.4 29.4h.8M4.9 31.0h.8M41.9 15.3h.8M29.8 44.9h.8M27.6 1.9h.8M29.1 12.8h.8M39.5 33.1h.8M14.1 44.8h.8M28.8 17.0h.8M38.4 44.6h.8M41.1 44.2h.8M30.3 34.9h.8M27.8 26.4h.8M45.4 17.7h.8M3.7 35.7h.8M22.9 27.3h.8M27.5 12.5h.8M9.2 3.6h.8M36.0 45.4h.8M32.0 5.8h.8M45.0 41.3h.8M23.4 0.0h.8M38.8 31.2h.8M28.6 0.9h.8M33.7 1.7h.8M22.0 7.2h.8M16.6 44.5h.8M34.4 40.8h.8M13.7 19.4h.8M27.8 1.7h.8M19.0 48.7h.8M34.7 43.1h.8M13.7 34.5h.8M36.3 35.2h.8M20.1 8.7h.8M0.8 44.4h.8M42.9 13.8h.8M34.8 20.4h.8M28.9 42.1h.8M14.8 31.0h.8M11.8 25.6h.8M1.4 13.2h.8M13.2 45.7h.8M6.1 37.9h.8M4.0 49.3h.8M7.6 4.6h.8M9.7 46.7h.8M30.8 44.5h.8M23.0 5.7h.8M15.7 22.8h.8M45.6 8.3h.8M11.2 42.2h.8M5.2 48.6h.8M13.6 28.4h.8M30.4 45.4h.8M3.5 42.3h.8M8.2 35.9h.8M1.3 38.3h.8M8.3 10.3h.8M1.6 16.2h.8M15.1 49.1h.8M27.9 18.2h.8M45.5 8.6h.8M9.9 47.8h.8M43.8 34.2h.8M45.0 2.9h.8M41.6 35.2h.8M30.7 42.2h.8M4.8 10.0h.8M6.3 23.9h.8M25.1 27.0h.8M16.7 37.2h.8M38.6 37.9h.8M1.7 7.6h.8M10.1 11.9h.8M26.4 9.7h.8M28.7 17.2h.8M16.7 35.4h.8M43.4 9.5h.8M16.0 49.1h.8M9.8 1.3h.8M8.8 41.3h.8M33.6 46.9h.8M22.9 2.1h.8M14.1 36.0h.8M18.1 7.0h.8M17.3 23.2h.8M16.4 22.3h.8M6.3 1.5h.8M36.1 36.6h.8M19.2 5.7h.8M13.6 27.9h.8M41.2 24.1h.8M44.8 26.3h.8M8.3 30.8h.8M27.6 30.0h.8M33.3 1.1h.8M20.1 40.0h.8M6.4 2.1h.8M8.4 14.3h.8M20.0 15.7h.8M29.2 8.5h.8M15.9 33.8h.8M25.0 47.9h.8M43.1 12.9h.8M15.4 26.9h.8M25.0 18.3h.8M39.7 9.8h.8M21.7 6.0h.8M40.6 29.8h.8M45.4 7.2h.8M32.7 29.8h.8M2.4 41.0h.8M40.2 4.0h.8M43.3 39.2h.8M27.8 27.2h.8M12.1 2.9h.8M21.9 43.3h.8M9.6 23.6h.8M13.0 34.5h.8M44.1 44.4h.8M13.2 20.8h.8M0.1 26.5h.8M39.3 42.2h.8M3.3 21.7h.8M3.7 21.2h.8M42.0 14.2h.8M38.9 47.8h.8M37.6 10.1h.8M42.2 46.1h.8M45.9 0.5h.8M0.2 14.6h.8M23.8 21.2h.8M4.3 32.0h.8M30.7 31.5h.8M23.5 27.5h.8M31.7 3.2h.8M20.1 6.8h.8M4.8 38.1h.8M14.9 17.0h.8M12.7 29.4h.8M5.4 32.1h.8M3.2 47.8h.8M7.2 38.4h.8M25.1 21.2h.8M14.0 18.0h.8M34.9 26.2h.8M24.7 12.4h.8M28.7 8.5h.8M22.2 32.6h.8M25.0 29.0h.8M26.2 9.7h.8M44.1 34.2h.8M33.4 47.8h.8M20.8 16.6h.8M14.0 15.8h.8M13.8 15.8h.8M9.6 24.2h.8M13.4 18.4h.8M30.5 15.8h.8M39.7 39.9h.8M15.1 41.7h.8M8.1 4.8h.8M45.8 1.6h.8M0.3 43.4h.8M0.1 32.8h.8M25.6 11.1h.8M11.3 48.4h.8M18.1 12.1h.8M20.3 36.6h.8M13.4 4.5h.8M36.4 4.8h.8M2.5 0.2h.8M45.7 21.7h.8M33.9 27.9h.8M44.8 17.2h.8M16.1 34.1h.8M0.0 18.2h.8M34.9 28.6h.8M22.5 46.8h.8M19.9 36.5h.8M18.1 4.3h.8M17.8 10.5h.8M1.3 14.3h.8M5.8 22.8h.8M33.9 37.9h.8M40.6 15.9h.8M30.8 44.5h.8M18.2 45.7h.8M4.7 46.0h.8M40.5 49.0h.8M38.2 35.5h.8M20.0 35.9h.8M40.4 28.8h.8M28.6 46.2h.8M13.1 16.8h.8M1.6 43.9h.8M29.0 33.6h.8M11.0 9.2h.8M22.0 43.9h.8M16.3 21.1h.8M19.2 42.2h.8M5.7 43.3h.8M0.5 35.0h.8M35.1 23.5h.8M34.1 14.0h.8M6.5 18.0h.8M12.2 35.8h.8M26.0 33.0h.8M44.9 38.7h.8M36.4 48.5h.8M42.7 37.1h.8M16.0 25.4h.8M34.8 39.3h.8M41.4 37.1h.8M30.8 12.7h.8M28.6 9.3h.8M29.8 8.8h.8M0.8 47.8h.8M40.0 15.2h.8M2.1 40.9h.8M35.5 7.7h.8M37.6 41.9h.8M26.4 13.7h.8M2.6 3.2h.8M20.3 36.1h.8M29.4 11.2h.8M36.7 3.2h.8M28.2 8.7h.8M0.2 9.7h.8M36.6 11.0h.8M0.6 24.1h.8M16.1 28.7h.8M26.6 35.4h.8M42.1 16.9h.8M29.2 5.9h.8M11.6 4.8h.8M39.7 16.9h.8M32.7 43.9h.8M17.7 10.3h.8M11.4 24.5h.8M17.8 3.5h.8M39.1 32.0h.8M40.1 42.3h.8M33.4 41.2h.8M32.4 21.4h.8M37.7 45.9h.8M4.9 7.2h.8M7.8 22.8h.8M39.8 26.3h.8M39.3 18.3h.8M26.0 12.4h.8M29.4 13.5h.8M0.3 19.9h.8M25.9 44.1h.8M13.2 46.3h.8M37.3 7.9h.8M35.8 46.8h.8M44.3 34.6h.8M18.0 27.2h.8M29.9 30.7h.8M8.7 44.2h.8M24.9 3.6h.8M14.1 4.0h.8M21.2 4.7h.8M24.4 13.9h.8M38.1 38.4h.8M8.6 40.6h.8M26.8 13.5h.8M41.9 0.3h.8M18.4 29.9h.8M7.5 24.6h.8M40.7 17.2h.8M32.6 9.5h.8M44.9 48.2h.8M7.6 38.2h.8M15.4 1.6h.8M9.7 36.4h.8M21.4 26.5h.8M5.9 8.6h.8M16.8 25.7h.8M37.7 22.5h.8M15.1 45.7h.8M31.8 37.8h.8M37.1 24.2h.8M12.0 5.6h.8M30.2 37.4h.8M41.5 46.0h.8M23.2 24.4h.8M44.4 4.3h.8M17.2 27.3h.8M27.7 30.6h.8M7.3 25.4h.8M8.1 19.2h.8M8.2 16.0h.8M28.8 19.9h.8M7.7 23.4h.8M30.8 15.1h.8M12.5 21.8h.8M32.0 1.8h.8M31.0 2.7h.8M40.9 9.6h.8M37.9 1.7h.8M22.7 12.8h.8M35.7 38.6h.8M5.8 2.6h.8M33.6 21.0h.8M17.1 17.4h.8M16.9 28.8h.8M17.9 6.4h.8M21.7 49.4h.8M35.3 35.9h.8M42.7 22.2h.8M16.7 39.6h.8M4.7 38.3h.8M6.8 31.2h.8M23.6 38.6h.8M2.9 33.6h.8M38.0 1.9h.8M31.4 14.0h.8M34.2 48.9h.8M0.1 20.3h.8M23.0 49.1h.8M42.5 1.4h.8M6.3 20.4h.8M37.0 39.5h.8M25.6 46.1h.8M37.7 43.9h.8M29.2 13.0h.8M33.8 35.8h.8M42.7 8.6h.8M1.0 17.1h.8M11.8 19.4h.8M2.7 30.5h.8M19.7 13.3h.8M4.7 28.7h.8M4.6 43.0h.8M12.7 44.9h.8M5.7 19.5h.8M35.8 26.1h.8M20.6 44.0h.8M7.5 42.6h.8M23.7 14.3h.8M16.1 13.9h.8M29.1 22.0h.8M23.8 32.5h.8M39.5 34.9h.8M13.6 33.3h.8M31.8 45.4h.8M17.8 26.6h.8M34.8 16.7h.8M15.0 31.0h.8M17.2 42.4h.8M16.0 11.0h.8M28.1 29.9h.8M45.6 47.1h.8M19.4 22.4h.8M30.0 25.2h.8M27.0 20.1h.8M39.6 44.6h.8M36.4 37.5h.8M40.8 12.8h.8M43.3 10.1h.8M4.7 24.7h.8M7.3 12.8h.8M27.9 7.4h.8M18.3 18.3h.8M43.4 3.9h.8M23.5 23.4h.8M7.5 17.3h.8M16.7 17.9h.8M25.6 27.8h.8M21.4 22.0h.8M28.0 24.2h.8M5.8 32.8h.8M18.8 42.6h.8M6.1 27.3h.8M13.8 31.6h.8M37.6 32.5h.8M26.3 46.6h.8M10.4 49.8h.8M20.2 31.7h.8M6.0 1.5h.8M7.3 27.2h.8M11.1 39.7h.8M7.1 33.1h.8M41.4 34.6h.8M42.4 41.2h.8M39.5 2.0h.8M23.5 15.0h.8M20.2 36.4h.8M33.6 10.2h.8M7.9 3.5h.8M34.0 41.1h.8M4.2 6.8h.8M6.3 49.5h.8M3.3 28.8h.8M40.3 8.5h.8M31.4 17.0h.8M29.5 23.4h.8M6.9 44.9h.8M23.0 49.1h.8M27.4 48.0h.8M30.1 2.9h.8M0.2 49.6h.8M30.6 39.6h.8M38.6 18.0h.8M32.4 32.4h.8M2.8 26.9h.8M42.8 27.8h.8M36.2 3.4h.8M19.1 25.3h.8M25.5 42.3h.8M22.6 28.3h.8M23.8 33.7h.8M26.7 19.8h.8M13.1 43.2h.8M16.3 35.6h.8M12.5 49.4h.8M9.9 21.0h.8M17.0 43.9h.8M33.7 13.1h.8M11.2 37.2h.8M20.5 9.0h.8M5.4 36.1h.8M30.4 40.3h.8M3.5 24.0h.8M6.7 28.5h.8M10.6 11.5h.8M25.8 8.2h.8M36.5 8.3h.8M12.3 37.8h.8M12.1 14.9h.8M36.0 28.1h.8M37.3 43.4h.8M44.3 4.3h.8M18.1 22.7h.8M13.2 43.4h.8M18.1 46.4h.8M3.2 22.2h.8M28.9 39.3h.8M22.2 45.0h.8M13.7 17.8h.8M8.9 9.5h.8M22.4 36.6h.8M8.9 24.4h.8M19.9 49.1h.8M22.7 40.5h.8M10.8 44.7h.8M1.1 7.6h.8M29.2 26.5h.8M24.2 31.1h.8M16.0 33.1h.8M18.3 29.3h.8M32.9 15.5h.8M35.0 41.2h.8M45.5 3.1h.8M19.6 8.2h.8M7.7 23.6h.8M35.8 6.3h.8M36.6 42.2h.8M44.5 37.8h.8M9.6 35.9h.8M26.4 13.7h.8M36.4 16.6h.8M38.6 44.0h.8M18.3 6.8h.8M37.5 7.9h.8M5.5 43.8h.8M10.9 13.0h.8M18.0 36.1h.8M9.0 15.8h.8M3.1 12.8h.8M34.3 31.9h.8M27.6 44.9h.8M1.4 14.1h.8M29.2 18.0h.8M44.9 11.2h.8M44.2 36.6h.8M31.1 47.1h.8M19.9 16.9h.8M20.1 36.8h.8M37.8 31.5h.8M36.4 33.3h.8M35.8 6.4h.8M38.2 26.7h.8M15.1 6.5h.8M27.9 11.0h.8M16.6 27.3h.8M9.6 11.6h.8M3.5 17.4h.8M38.1 12.2h.8M12.3 6.7h.8M27.9 37.1h.8M8.6 41.0h.8M0.5 5.8h.8M4.3 39.3h.8M3.8 36.5h.8M9.6 14.9h.8M4.6 40.6h.8M17.1 46.5h.8M31.9 28.1h.8M21.2 28.1h.8M26.7 48.5h.8M10.1 8.9h.8M45.9 34.4h.8M29.1 23.5h.8M0.6 11.2h.8M36.9 13.6h.8M27.8 24.4h.8M7.9 2.8h.8M3.0 35.6h.8M11.0 25.6h.8M26.6 38.0h.8M7.4 21.3h.8M34.8 33.2h.8M21.8 32.0h.8M36.2 43.8h.8M24.4 5.1h.8M6.0 33.3h.8M31.3 22.3h.8M32.1 10.9h.8M18.1 19.0h.8M34.5 48.3h.8M12.7 5.0h.8M17.0 43.3h.8M45.8 2.9h.8M15.5 23.8h.8M41.1 28.4h.8M19.7 48.7h.8M33.7 44.9h.8M37.3 49.1h.8M31.4 39.0h.8M23.2 33.9h.8M43.1 47.4h.8M41.4 33.8h.8M22.6 20.9h.8M18.0 47.6h.8M30.6 39.9h.8M30.7 5.0h.8M20.6 17.5h.8M44.5 34.4h.8M16.8 25.6h.8M41.1 26.4h.8M32.5 18.1h.8M19.6 38.3h.8M9.2 33.8h.8M38.7 49.8h.8M24.3 30.7h.8M45.7 39.7h.8M40.0 26.3h.8M6.1 41.4h.8M4.3 35.6h.8M13.4 40.4h.8M29.5 25.5h.8M22.1 14.9h.8M46.0 27.8h.8M44.1 6.0h.8M1.1 8.8h.8M14.7 49.3h.8M5.9 26.1h.8M39.4 15.2h.8M13.4 10.6h.8M2.5 29.1h.8M25.8 10.8h.8M25.8 25.1h.8M32.0 12.2h.8M10.5 43.8h.8M31.6 37.9h.8M15.8 29.2h.8M17.4 34.0h.8M44.0 24.4h.8M21.0 35.1h.8M22.8 18.4h.8M1.0 40.9h.8M23.4 42.4h.8M15.8 44.2h.8M37.1 11.7h.8M35.8 2.1h.8M29.7 39.0h.8M33.2 14.5h.8M16.2 9.1h.8M41.3 29.6h.8M36.0 24.5h.8M19.9 47.1h.8M43.0 37.1h.8M29.9 44.5h.8M14.9 16.0h.8M36.2 33.7h.8M35.2 35.7h.8M18.5 5.9h.8M35.6 43.5h.8M24.4 15.9h.8M38.9 9.4h.8M8.9 28.9h.8M22.0 38.0h.8M0.7 46.6h.8M12.9 24.9h.8M1.2 18.8h.8M23.3 47.3h.8M8.8 6.4h.8M39.8 46.1h.8M22.9 25.8h.8M40.5 23.1h.8M20.7 21.6h.8M11.2 13.7h.8M16.9 3.3h.8M21.3 39.0h.8M40.1 6.3h.8M16.8 43.5h.8M44.0 15.8h.8M8.2 42.0h.8M13.6 32.9h.8M42.6 12.6h.8M13.6 28.5h.8M3.9 25.3h.8M26.5 21.6h.8M34.1 33.3h.8M26.7 40.8h.8M6.6 8.9h.8M13.0 8.8h.8M41.3 42.5h.8M41.2 19.6h.8M39.1 46.7h.8M35.3 42.3h.8M31.5 0.6h.8M15.1 12.9h.8M24.4 28.1h.8M42.2 13.0h.8M44.9 7.6h.8M36.1 15.8h.8M25.9 30.9h.8M2.2 28.9h.8M30.4 13.0h.8M4.3 30.2h.8M12.0 8.8h.8M11.1 28.6h.8M21.6 19.2h.8M5.4 11.0h.8M28.2 20.0h.8M8.4 40.9h.8M25.2 17.3h.8M44.7 26.9h.8M7.0 23.9h.8M12.2 42.3h.8M35.8 3.8h.8M6.3 33.7h.8M23.1 15.6h.8M22.5 6.9h.8M21.6 28.4h.8M43.0 30.6h.8M26.5 1.9h.8M23.2 28.1h.8M30.6 15.7h.8M43.4 35.5h.8M33.2 48.9h.8M44.0 6.5h.8M41.3 26.5h.8M27.8 1.0h.8M3.1 39.8h.8M16.9 49.2h.8M43.5 27.0h.8M27.1 29.8h.8M24.8 40.6h.8M45.4 16.7h.8M19.1 19.6h.8M3.6 7.9h.8M8.3 37.2h.8M8.3 29.8h.8M44.9 20.4h.8M46.0 12.5h.8M16.4 7.1h.8M7.1 20.4h.8M35.6 32.7h.8M10.3 3.3h.8M3.5 16.5h.8M25.3 0.0h.8M4.8 33.3h.8M10.7 2.2h.8M37.3 3.8h.8M34.2 2.6h.8M39.6 23.6h.8M15.5 10.6h.8M37.7 20.8h.8M25.6 16.0h.8M8.2 15.4h.8M11.8 37.1h.8M37.9 38.8h.8M13.6 16.9h.8M43.4 23.1h.8M26.6 2.6h.8M35.7 22.2h.8M10.0 23.8h.8M9.2 17.6h.8M16.6 21.8h.8M15.6 8.4h.8M38.3 26.5h.8M17.4 31.5h.8M4.6 14.8h.8M16.4 24.1h.8M39.7 22.3h.8M18.8 30.1h.8M35.6 16.0h.8M31.2 18.1h.8M0.8 3.7h.8M2.3 19.6h.8M10.2 28.1h.8M33.8 22.6h.8M33.6 15.2h.8M8.7 41.2h.8M25.6 10.9h.8M16.5 44.2h.8M2.8 42.7h.8M5.3 43.9h.8M24.6 6.2h.8M12.7 19.7h.8M27.7 39.5h.8M38.8 11.0h.8M26.7 38.7h.8M8.8 40.4h.8M11.1 29.6h.8M22.9 26.7h.8M39.2 6.9h.8M12.0 48.2h.8M28.9 45.1h.8M10.5 16.0h.8M26.8 38.9h.8M23.5 3.7h.8M20.4 38.4h.8M40.5 4.5h.8M18.0 45.6h.8M33.8 30.8h.8M7.7 24.7h.8M19.2 25.1h.8M22.7 4.5h.8M37.4 22.0h.8M8.7 30.8h.8M14.9 6.4h.8M26.8 1.0h.8M42.2 28.5h.8M12.2 46.8h.8M26.7 0.7h.8M33.3 2.7h.8M12.8 28.5h.8M30.4 47.7h.8M37.6 8.9h.8M25.2 5.1h.8M32.4 21.3h.8M30.1 3.4h.8M22.7 21.8h.8M2.0 33.0h.8M45.1 37.4h.8M44.3 4.8h.8M29.4 29.1h.8M20.8 40.1h.8M19.0 4.4h.8M29.1 42.6h.8M17.0 31.4h.8M6.8 48.9h.8M45.0 0.8h.8M29.6 46.4h.8M23.6 4.0h.8M33.5 25.0h.8M15.7 2.9h.8M10.2 40.9h.8M21.6 26.6h.8M29.6 19.0h.8M35.0 36.2h.8M0.9 32.0h.8M1.2 25.3h.8M42.5 41.4h.8M14.0 46.6h.8M8.0 35.1h.8M35.2 2.0h.8M11.9 26.9h.8M45.8 8.3h.8M21.2 44.8h.8M7.9 41.7h.8M34.2 39.8h.8M15.7 30.2h.8M6.8 14.1h.8M37.2 5.7h.8M25.0 4.2h.8M37.1 32.1h.8M5.6 44.1h.8M30.0 32.2h.8M3.5 41.3h.8M32.2 19.2h.8M3.5 38.6h.8M10.1 39.4h.8M26.9 18.6h.8M20.6 14.1h.8M23.4 44.2h.8M25.9 19.4h.8M31.8 48.7h.8M8.5 28.0h.8M40.9 27.7h.8" stroke="#fff" stroke-width="0.8"/></pattern><mask id="mP4" maskUnits="userSpaceOnUse" x="0" y="0" width="685" height="568"><rect width="685" height="568" fill="url(#P4)"/></mask><clipPath id="cpa1"><polygon points="10.2,3.6 33.7,3.6 36.6,115 38.8,243 4.6,243 7,115"/></clipPath><clipPath id="cpa2"><polygon points="61.5,3 85,3 86.9,90 89.7,243 57.2,243 59.1,90"/></clipPath><clipPath id="cpa3"><polygon points="114.3,3.5 138.8,3.5 141,120 143,244 109,244 111.5,120"/></clipPath><clipPath id="cpa4"><polygon points="165.7,4.5 189.2,4.5 191.5,120 193.4,245 159.6,245 162.5,120"/></clipPath><clipPath id="cpa5"><polygon points="221.3,6 245.3,6 247,120 248.8,244.5 218.5,244.5 220,120"/></clipPath><clipPath id="cpc1"><polygon points="9.7,285.7 34.7,285.7 36.5,400 37.5,524 2,524 4,400"/></clipPath><clipPath id="cpc2"><polygon points="61,288.4 87.1,288.4 88.5,400 89.5,526 55,526 57,400"/></clipPath><clipPath id="cpc3"><polygon points="112.4,287 138.1,287 140,400 141,526 106,526 108,400"/></clipPath><clipPath id="cpc4"><polygon points="164.3,287.5 189.7,287.5 191,400 192,527 157,527 159,400"/></clipPath><clipPath id="cpc5"><polygon points="222,288 248.4,288 249.5,400 250,527 215,527 217,400"/></clipPath></defs>
<rect width="685" height="568" fill="#fff"/>
<g clip-path="url(#cpa1)"><g filter="url(#bl)">
<rect x="3.6" y="2.6" width="36.2" height="241.4" fill="#f46c28" mask="url(#mP1)"/>
<rect x="3.6" y="2.6" width="36.2" height="241.4" fill="#f46c28" mask="url(#mP2)"/>
<rect x="3.6" y="2.6" width="36.2" height="241.4" fill="#f46c28" mask="url(#mP4)"/>
</g></g>
<g fill="none" stroke-width="1.2">
<line x1="2.5" y1="3" x2="2.5" y2="243.8" stroke="#9494fa"/>
<line x1="6.4" y1="0.2" x2="6.4" y2="241" stroke="#9494fa"/>
<line x1="37.3" y1="3" x2="37.3" y2="243.8" stroke="#9494fa"/>
<line x1="41.2" y1="0.2" x2="41.2" y2="241" stroke="#9494fa"/>
<line x1="6.4" y1="0.2" x2="41.2" y2="0.2" stroke="#8ef07a"/>
<line x1="2.5" y1="3" x2="37.3" y2="3" stroke="#8ef07a"/>
<line x1="6.4" y1="241" x2="41.2" y2="241" stroke="#8ef07a"/>
<line x1="2.5" y1="243.8" x2="37.3" y2="243.8" stroke="#8ef07a"/>
<line x1="2.5" y1="3" x2="6.4" y2="0.2" stroke="#f08080"/>
<line x1="2.5" y1="243.8" x2="6.4" y2="241" stroke="#f08080"/>
<line x1="37.3" y1="3" x2="41.2" y2="0.2" stroke="#f08080"/>
<line x1="37.3" y1="243.8" x2="41.2" y2="241" stroke="#f08080"/>
</g>
<g clip-path="url(#cpa2)"><g filter="url(#bl)">
<rect x="56.2" y="2" width="34.5" height="242" fill="#6c2ef6" mask="url(#mP1)"/>
<rect x="56.2" y="2" width="34.5" height="242" fill="#6c2ef6" mask="url(#mP4)"/>
<g mask="url(#mP2)" fill="#6c2ef6"><polygon points="50,150 95,150 95,250 50,250"/></g>
<g mask="url(#mP3)" fill="#5a16f0"><polygon points="61,3.9 73.5,10.1 86,18.5 86,25.5 73.5,17.5 61,8.1"/><polygon points="61,28.6 73.5,30.1 86,34 86,42 73.5,38.5 61,33.4"/><polygon points="63,41.9 74.5,47.1 86,54.5 86,61.5 74.5,54.5 63,46.1"/><polygon points="59,66.6 72.5,69.1 86,74 86,82 72.5,77.5 59,71.4"/><polygon points="64,80.2 74,85.7 84,93 84,99 74,92 64,83.8"/><polygon points="59,104.9 72.5,107.2 86,111.5 86,118.5 72.5,114.5 59,109.1"/><polygon points="59,115.5 67.5,116.8 76,119.5 76,124.5 67.5,122 59,118.5"/><polygon points="66,117.3 77.5,125 89,135.5 89,144.5 77.5,134.5 66,122.7"/><polygon points="58,143.5 72,144.8 86,147.5 86,152.5 72,150 58,146.5"/><polygon points="58,156.6 73.5,157.1 89,160 89,168 73.5,165.5 58,161.4"/><polygon points="72,172.2 81,174.7 90,179 90,185 81,181 72,175.8"/><polygon points="74,178.8 82,179.8 90,182 90,186 82,184 74,181.2"/><polygon points="58,192.7 74,199.9 90,210.5 90,221.5 74,211.5 58,199.3"/><polygon points="58,224.2 74,225.2 90,228 90,234 74,231.5 58,227.8"/><polygon points="58,235.2 74,236.7 90,240 90,246 74,243 58,238.8"/></g>
<g mask="url(#mP2)" fill="#5a16f0"><polygon points="61,3.9 73.5,10.1 86,18.5 86,25.5 73.5,17.5 61,8.1"/><polygon points="61,28.6 73.5,30.1 86,34 86,42 73.5,38.5 61,33.4"/><polygon points="63,41.9 74.5,47.1 86,54.5 86,61.5 74.5,54.5 63,46.1"/><polygon points="59,66.6 72.5,69.1 86,74 86,82 72.5,77.5 59,71.4"/><polygon points="64,80.2 74,85.7 84,93 84,99 74,92 64,83.8"/><polygon points="59,104.9 72.5,107.2 86,111.5 86,118.5 72.5,114.5 59,109.1"/><polygon points="59,115.5 67.5,116.8 76,119.5 76,124.5 67.5,122 59,118.5"/><polygon points="66,117.3 77.5,125 89,135.5 89,144.5 77.5,134.5 66,122.7"/><polygon points="58,143.5 72,144.8 86,147.5 86,152.5 72,150 58,146.5"/><polygon points="58,156.6 73.5,157.1 89,160 89,168 73.5,165.5 58,161.4"/><polygon points="72,172.2 81,174.7 90,179 90,185 81,181 72,175.8"/><polygon points="74,178.8 82,179.8 90,182 90,186 82,184 74,181.2"/><polygon points="58,192.7 74,199.9 90,210.5 90,221.5 74,211.5 58,199.3"/><polygon points="58,224.2 74,225.2 90,228 90,234 74,231.5 58,227.8"/><polygon points="58,235.2 74,236.7 90,240 90,246 74,243 58,238.8"/></g>
</g></g>
<g fill="none" stroke-width="1.2">
<line x1="54.3" y1="3.2" x2="54.3" y2="243.8" stroke="#9494fa"/>
<line x1="58.4" y1="0.5" x2="58.4" y2="241.1" stroke="#9494fa"/>
<line x1="88.5" y1="3.2" x2="88.5" y2="243.8" stroke="#9494fa"/>
<line x1="92.6" y1="0.5" x2="92.6" y2="241.1" stroke="#9494fa"/>
<line x1="58.4" y1="0.5" x2="92.6" y2="0.5" stroke="#8ef07a"/>
<line x1="54.3" y1="3.2" x2="88.5" y2="3.2" stroke="#8ef07a"/>
<line x1="58.4" y1="241.1" x2="92.6" y2="241.1" stroke="#8ef07a"/>
<line x1="54.3" y1="243.8" x2="88.5" y2="243.8" stroke="#8ef07a"/>
<line x1="54.3" y1="3.2" x2="58.4" y2="0.5" stroke="#f08080"/>
<line x1="54.3" y1="243.8" x2="58.4" y2="241.1" stroke="#f08080"/>
<line x1="88.5" y1="3.2" x2="92.6" y2="0.5" stroke="#f08080"/>
<line x1="88.5" y1="243.8" x2="92.6" y2="241.1" stroke="#f08080"/>
</g>
<g clip-path="url(#cpa3)"><g filter="url(#bl)">
<rect x="108" y="2.5" width="36" height="242.5" fill="#48ee20" mask="url(#mP1)"/>
<rect x="108" y="2.5" width="36" height="242.5" fill="#48ee20" mask="url(#mP2)"/>
<rect x="108" y="2.5" width="36" height="242.5" fill="#48ee20" mask="url(#mP3)"/>
<rect x="108" y="2.5" width="36" height="242.5" filter="url(#spn)" opacity="0.85"/>
</g></g>
<g fill="none" stroke-width="1.2">
<line x1="107.4" y1="4.1" x2="107.4" y2="244.2" stroke="#9494fa"/>
<line x1="111.2" y1="1.3" x2="111.2" y2="241.4" stroke="#9494fa"/>
<line x1="141.7" y1="4.1" x2="141.7" y2="244.2" stroke="#9494fa"/>
<line x1="145.5" y1="1.3" x2="145.5" y2="241.4" stroke="#9494fa"/>
<line x1="111.2" y1="1.3" x2="145.5" y2="1.3" stroke="#8ef07a"/>
<line x1="107.4" y1="4.1" x2="141.7" y2="4.1" stroke="#8ef07a"/>
<line x1="111.2" y1="241.4" x2="145.5" y2="241.4" stroke="#8ef07a"/>
<line x1="107.4" y1="244.2" x2="141.7" y2="244.2" stroke="#8ef07a"/>
<line x1="107.4" y1="4.1" x2="111.2" y2="1.3" stroke="#f08080"/>
<line x1="107.4" y1="244.2" x2="111.2" y2="241.4" stroke="#f08080"/>
<line x1="141.7" y1="4.1" x2="145.5" y2="1.3" stroke="#f08080"/>
<line x1="141.7" y1="244.2" x2="145.5" y2="241.4" stroke="#f08080"/>
</g>
<g clip-path="url(#cpa4)"><g filter="url(#bl)">
<rect x="158.6" y="3.5" width="35.8" height="242.5" fill="#e070f0" mask="url(#mP1)"/>
<rect x="158.6" y="3.5" width="35.8" height="242.5" fill="#e070f0" mask="url(#mP2)"/>
<g mask="url(#mP3)" fill="#e070f0"><polygon points="159,80 194,90 194,110 159,100"/><polygon points="159,150 194,160 194,180 159,170"/></g>
</g></g>
<g fill="none" stroke-width="1.2">
<line x1="158.6" y1="4.8" x2="158.6" y2="245.2" stroke="#9494fa"/>
<line x1="162.5" y1="2.2" x2="162.5" y2="242.6" stroke="#9494fa"/>
<line x1="192.6" y1="4.8" x2="192.6" y2="245.2" stroke="#9494fa"/>
<line x1="196.5" y1="2.2" x2="196.5" y2="242.6" stroke="#9494fa"/>
<line x1="162.5" y1="2.2" x2="196.5" y2="2.2" stroke="#8ef07a"/>
<line x1="158.6" y1="4.8" x2="192.6" y2="4.8" stroke="#8ef07a"/>
<line x1="162.5" y1="242.6" x2="196.5" y2="242.6" stroke="#8ef07a"/>
<line x1="158.6" y1="245.2" x2="192.6" y2="245.2" stroke="#8ef07a"/>
<line x1="158.6" y1="4.8" x2="162.5" y2="2.2" stroke="#f08080"/>
<line x1="158.6" y1="245.2" x2="162.5" y2="242.6" stroke="#f08080"/>
<line x1="192.6" y1="4.8" x2="196.5" y2="2.2" stroke="#f08080"/>
<line x1="192.6" y1="245.2" x2="196.5" y2="242.6" stroke="#f08080"/>
</g>
<g clip-path="url(#cpa5)"><g filter="url(#bl)">
<rect x="217.5" y="5" width="32.3" height="240.5" fill="#da7cf0" mask="url(#mP1)"/>
<rect x="217.5" y="5" width="32.3" height="240.5" fill="#da7cf0" mask="url(#mP2)"/>
<rect x="217.5" y="5" width="32.3" height="240.5" fill="#da7cf0" mask="url(#mP4)"/>
<g filter="url(#wob)">
<polyline points="226,5.5 240,5.5" fill="none" stroke="#3e1698" stroke-width="3.4" stroke-linejoin="round" stroke-linecap="round"/>
<polyline points="226,5.5 240,5.5" fill="none" stroke="#7a3ae8" stroke-width="2.2" stroke-linejoin="round" stroke-linecap="round"/>
<polyline points="222,7 229,14 245,21" fill="none" stroke="#3e1698" stroke-width="5.9" stroke-linejoin="round" stroke-linecap="round"/>
<polyline points="222,7 229,14 245,21" fill="none" stroke="#7a3ae8" stroke-width="4.7" stroke-linejoin="round" stroke-linecap="round"/>
<polyline points="226,8 236,13.5" fill="none" stroke="#3e1698" stroke-width="1.8" stroke-linejoin="round" stroke-linecap="round"/>
<polygon points="221,24 233,20 236,27 230,32 224,37 221,36" fill="#7a3ae8" stroke="#3c1496" stroke-width="0.7"/>
<polyline points="231,20.5 245,27" fill="none" stroke="#3e1698" stroke-width="5.3" stroke-linejoin="round" stroke-linecap="round"/>
<polyline points="231,20.5 245,27" fill="none" stroke="#7a3ae8" stroke-width="4.1" stroke-linejoin="round" stroke-linecap="round"/>
<polygon points="236,31 246,30 246,37 236,37" fill="#7a3ae8" stroke="#3c1496" stroke-width="0.7"/>
<polyline points="223,38 245,33" fill="none" stroke="#3e1698" stroke-width="5.3" stroke-linejoin="round" stroke-linecap="round"/>
<polyline points="223,38 245,33" fill="none" stroke="#7a3ae8" stroke-width="4.1" stroke-linejoin="round" stroke-linecap="round"/>
<polyline points="228,42 245,51" fill="none" stroke="#3e1698" stroke-width="6.6" stroke-linejoin="round" stroke-linecap="round"/>
<polyline points="228,42 245,51" fill="none" stroke="#7a3ae8" stroke-width="5.4" stroke-linejoin="round" stroke-linecap="round"/>
<polygon points="221,50 228,51 233,56 233,62 221,62" fill="#7a3ae8" stroke="#3c1496" stroke-width="0.7"/>
<polygon points="237,52 245,52 245,57 237,57" fill="#7a3ae8" stroke="#3c1496" stroke-width="0.7"/>
<polygon points="221,62 227,62 227,67 221,67" fill="#7a3ae8" stroke="#3c1496" stroke-width="0.7"/>
<polygon points="239,60 246,60 246,66 239,66" fill="#7a3ae8" stroke="#3c1496" stroke-width="0.7"/>
<polyline points="221,71 246,75" fill="none" stroke="#3e1698" stroke-width="9.3" stroke-linejoin="round" stroke-linecap="round"/>
<polyline points="221,71 246,75" fill="none" stroke="#7a3ae8" stroke-width="8.1" stroke-linejoin="round" stroke-linecap="round"/>
<polygon points="236,79 246,79 246,88 236,88" fill="#7a3ae8" stroke="#3c1496" stroke-width="0.7"/>
<polyline points="221,81 246,95" fill="none" stroke="#3e1698" stroke-width="8" stroke-linejoin="round" stroke-linecap="round"/>
<polyline points="221,81 246,95" fill="none" stroke="#7a3ae8" stroke-width="6.8" stroke-linejoin="round" stroke-linecap="round"/>
<polyline points="221,93 246,104" fill="none" stroke="#3e1698" stroke-width="8" stroke-linejoin="round" stroke-linecap="round"/>
<polyline points="221,93 246,104" fill="none" stroke="#7a3ae8" stroke-width="6.8" stroke-linejoin="round" stroke-linecap="round"/>
<polygon points="226,100 240,104 246,108 236,111 224,108" fill="#7a3ae8" stroke="#3c1496" stroke-width="0.7"/>
<polyline points="222,114 246,118" fill="none" stroke="#3e1698" stroke-width="5.3" stroke-linejoin="round" stroke-linecap="round"/>
<polyline points="222,114 246,118" fill="none" stroke="#7a3ae8" stroke-width="4.1" stroke-linejoin="round" stroke-linecap="round"/>
<polyline points="222,120 240,124" fill="none" stroke="#3e1698" stroke-width="4.6" stroke-linejoin="round" stroke-linecap="round"/>
<polyline points="222,120 240,124" fill="none" stroke="#7a3ae8" stroke-width="3.4" stroke-linejoin="round" stroke-linecap="round"/>
<polyline points="227,121 246,135" fill="none" stroke="#3e1698" stroke-width="5.3" stroke-linejoin="round" stroke-linecap="round"/>
<polyline points="227,121 246,135" fill="none" stroke="#7a3ae8" stroke-width="4.1" stroke-linejoin="round" stroke-linecap="round"/>
<polyline points="235,120 246,127" fill="none" stroke="#3e1698" stroke-width="4.6" stroke-linejoin="round" stroke-linecap="round"/>
<polyline points="235,120 246,127" fill="none" stroke="#7a3ae8" stroke-width="3.4" stroke-linejoin="round" stroke-linecap="round"/>
<polygon points="219,124 225.5,124 225.5,132 219,132" fill="#7a3ae8" stroke="#3c1496" stroke-width="0.7"/>
<polygon points="219,145 235,144 235,150 219,151" fill="#3e1698" stroke="#3c1496" stroke-width="0.7"/>
<polygon points="238,153 246,153 246,156.5 238,156.5" fill="#7a3ae8" stroke="#3c1496" stroke-width="0.7"/>
<polyline points="219,161 246.4,164" fill="none" stroke="#3e1698" stroke-width="6.6" stroke-linejoin="round" stroke-linecap="round"/>
<polyline points="219,161 246.4,164" fill="none" stroke="#7a3ae8" stroke-width="5.4" stroke-linejoin="round" stroke-linecap="round"/>
<polyline points="219,169 240,172" fill="none" stroke="#3e1698" stroke-width="8" stroke-linejoin="round" stroke-linecap="round"/>
<polyline points="219,169 240,172" fill="none" stroke="#7a3ae8" stroke-width="6.8" stroke-linejoin="round" stroke-linecap="round"/>
<polyline points="219,178 240,181" fill="none" stroke="#3e1698" stroke-width="8" stroke-linejoin="round" stroke-linecap="round"/>
<polyline points="219,178 240,181" fill="none" stroke="#7a3ae8" stroke-width="6.8" stroke-linejoin="round" stroke-linecap="round"/>
<polygon points="241,178 246.4,178 246.4,185 241,185" fill="#7a3ae8" stroke="#3c1496" stroke-width="0.7"/>
<polyline points="228,184 247,186" fill="none" stroke="#3e1698" stroke-width="5.3" stroke-linejoin="round" stroke-linecap="round"/>
<polyline points="228,184 247,186" fill="none" stroke="#7a3ae8" stroke-width="4.1" stroke-linejoin="round" stroke-linecap="round"/>
<polyline points="234,191 247,193" fill="none" stroke="#3e1698" stroke-width="5.9" stroke-linejoin="round" stroke-linecap="round"/>
<polyline points="234,191 247,193" fill="none" stroke="#7a3ae8" stroke-width="4.7" stroke-linejoin="round" stroke-linecap="round"/>
<polyline points="219,196 248,217" fill="none" stroke="#3e1698" stroke-width="12" stroke-linejoin="round" stroke-linecap="round"/>
<polyline points="219,196 248,217" fill="none" stroke="#7a3ae8" stroke-width="10.8" stroke-linejoin="round" stroke-linecap="round"/>
<polygon points="219,203 233,203 233,209 219,209" fill="#7a3ae8" stroke="#3c1496" stroke-width="0.7"/>
<polygon points="238,219 248,219 248,232 238,232" fill="#7a3ae8" stroke="#3c1496" stroke-width="0.7"/>
<polygon points="219,226 229,226 229,232 219,232" fill="#7a3ae8" stroke="#3c1496" stroke-width="0.7"/>
<polyline points="219,239 246,240" fill="none" stroke="#3e1698" stroke-width="8" stroke-linejoin="round" stroke-linecap="round"/>
<polyline points="219,239 246,240" fill="none" stroke="#7a3ae8" stroke-width="6.8" stroke-linejoin="round" stroke-linecap="round"/>
<polygon points="222,12 228,16 226,22 221,20" fill="#7a3ae8" stroke="#3c1496" stroke-width="0.7"/>
<polygon points="234,8 244,9 246,15 238,14" fill="#7a3ae8" stroke="#3c1496" stroke-width="0.7"/>
<polygon points="232,134 246,138 246,143 232,140" fill="#7a3ae8" stroke="#3c1496" stroke-width="0.7"/>
<polygon points="221,136 228,137 228,141 221,141" fill="#7a3ae8" stroke="#3c1496" stroke-width="0.7"/>
<polygon points="236,226 248,224 248,244 234,244" fill="#7a3ae8" stroke="#3c1496" stroke-width="0.7"/>
<polygon points="238,195 246,194 246,205 240,208" fill="#78c4e6" stroke="#3c1496" stroke-width="0.7"/>
<polygon points="229.4,214.8 235.2,214.8 235.2,221.8 229.4,221.8" fill="#78c4e6" stroke="#3c1496" stroke-width="0.7"/>
<polygon points="223.6,225.3 229.4,225.3 229.4,228.8 223.6,228.8" fill="#78c4e6" stroke="#3c1496" stroke-width="0.7"/>
</g>
</g></g>
<g fill="none" stroke-width="1.2">
<line x1="214.5" y1="5" x2="214.5" y2="244.9" stroke="#9494fa"/>
<line x1="218.5" y1="2.2" x2="218.5" y2="242.1" stroke="#9494fa"/>
<line x1="248.7" y1="5" x2="248.7" y2="244.9" stroke="#9494fa"/>
<line x1="252.7" y1="2.2" x2="252.7" y2="242.1" stroke="#9494fa"/>
<line x1="218.5" y1="2.2" x2="252.7" y2="2.2" stroke="#8ef07a"/>
<line x1="214.5" y1="5" x2="248.7" y2="5" stroke="#8ef07a"/>
<line x1="218.5" y1="242.1" x2="252.7" y2="242.1" stroke="#8ef07a"/>
<line x1="214.5" y1="244.9" x2="248.7" y2="244.9" stroke="#8ef07a"/>
<line x1="214.5" y1="5" x2="218.5" y2="2.2" stroke="#f08080"/>
<line x1="214.5" y1="244.9" x2="218.5" y2="242.1" stroke="#f08080"/>
<line x1="248.7" y1="5" x2="252.7" y2="2.2" stroke="#f08080"/>
<line x1="248.7" y1="244.9" x2="252.7" y2="242.1" stroke="#f08080"/>
</g>
<g clip-path="url(#cpc1)"><g filter="url(#bl)">
<rect x="1" y="284.7" width="37.5" height="240.3" fill="#f46c28" mask="url(#mP1)"/>
<rect x="1" y="284.7" width="37.5" height="240.3" fill="#f46c28" mask="url(#mP2)"/>
<g mask="url(#mP4)" fill="#f46c28"><polygon points="0,370 45,370 45,530 0,530"/></g>
</g></g>
<g fill="none" stroke-width="1.2">
<line x1="0.4" y1="288.6" x2="0.4" y2="529.4" stroke="#9494fa"/>
<line x1="6" y1="283.5" x2="6" y2="524.3" stroke="#9494fa"/>
<line x1="37.4" y1="288.6" x2="37.4" y2="529.4" stroke="#9494fa"/>
<line x1="43" y1="283.5" x2="43" y2="524.3" stroke="#9494fa"/>
<line x1="6" y1="283.5" x2="43" y2="283.5" stroke="#8ef07a"/>
<line x1="0.4" y1="288.6" x2="37.4" y2="288.6" stroke="#8ef07a"/>
<line x1="6" y1="524.3" x2="43" y2="524.3" stroke="#8ef07a"/>
<line x1="0.4" y1="529.4" x2="37.4" y2="529.4" stroke="#8ef07a"/>
<line x1="0.4" y1="288.6" x2="6" y2="283.5" stroke="#f08080"/>
<line x1="0.4" y1="529.4" x2="6" y2="524.3" stroke="#f08080"/>
<line x1="37.4" y1="288.6" x2="43" y2="283.5" stroke="#f08080"/>
<line x1="37.4" y1="529.4" x2="43" y2="524.3" stroke="#f08080"/>
</g>
<g clip-path="url(#cpc2)"><g filter="url(#bl)">
<rect x="54" y="287.4" width="36.5" height="239.6" fill="#6c2ef6" mask="url(#mP1)"/>
<rect x="54" y="287.4" width="36.5" height="239.6" fill="#6c2ef6" mask="url(#mP4)"/>
<g mask="url(#mP3)" fill="#5a16f0"><polygon points="62,298.2 73,299.7 84,303 84,309 73,306 62,301.8"/><polygon points="62,302.5 72,295.8 82,290.5 82,295.5 72,301 62,305.5"/><polygon points="63,310.9 75.5,312.6 88,316.5 88,323.5 75.5,320 63,315.1"/><polygon points="62,331.2 72,324.2 82,319 82,325 72,330.5 62,334.8"/><polygon points="61,337.9 74.5,339.1 88,342.5 88,349.5 74.5,346.5 61,342.1"/><polygon points="60,343.5 69,338.2 78,334.5 78,339.5 69,343.5 60,346.5"/><polygon points="72,347.6 80,349.6 88,354 88,362 80,358 72,352.4"/><polygon points="63,371.2 75.5,374.2 88,379 88,385 75.5,380.5 63,374.8"/><polygon points="61,393.2 74.5,386.2 88,381 88,387 74.5,392.5 61,396.8"/><polygon points="70,416.2 79,408.2 88,402 88,408 79,414.5 70,419.8"/><polygon points="58,435.2 70,426.2 82,419 82,425 70,432.5 58,438.8"/><polygon points="61,437.2 74,439.2 87,443 87,449 74,445.5 61,440.8"/><polygon points="59,460.2 74,460.2 89,462 89,468 74,466.5 59,463.8"/><polygon points="61,471.9 75,473.6 89,477.5 89,484.5 75,481 61,476.1"/><polygon points="59,498.9 74,500.6 89,504.5 89,511.5 74,508 59,503.1"/><polygon points="63,517.5 76,517.8 89,519.5 89,524.5 76,523 63,520.5"/></g>
</g></g>
<g fill="none" stroke-width="1.2">
<line x1="52.5" y1="291.2" x2="52.5" y2="531.9" stroke="#9494fa"/>
<line x1="58.6" y1="286.4" x2="58.6" y2="527.1" stroke="#9494fa"/>
<line x1="90" y1="291.2" x2="90" y2="531.9" stroke="#9494fa"/>
<line x1="96.1" y1="286.4" x2="96.1" y2="527.1" stroke="#9494fa"/>
<line x1="58.6" y1="286.4" x2="96.1" y2="286.4" stroke="#8ef07a"/>
<line x1="52.5" y1="291.2" x2="90" y2="291.2" stroke="#8ef07a"/>
<line x1="58.6" y1="527.1" x2="96.1" y2="527.1" stroke="#8ef07a"/>
<line x1="52.5" y1="531.9" x2="90" y2="531.9" stroke="#8ef07a"/>
<line x1="52.5" y1="291.2" x2="58.6" y2="286.4" stroke="#f08080"/>
<line x1="52.5" y1="531.9" x2="58.6" y2="527.1" stroke="#f08080"/>
<line x1="90" y1="291.2" x2="96.1" y2="286.4" stroke="#f08080"/>
<line x1="90" y1="531.9" x2="96.1" y2="527.1" stroke="#f08080"/>
</g>
<g clip-path="url(#cpc3)"><g filter="url(#bl)">
<rect x="105" y="286" width="37" height="241" fill="#48ee20" mask="url(#mP1)"/>
<rect x="105" y="286" width="37" height="241" fill="#48ee20" mask="url(#mP2)"/>
<rect x="105" y="286" width="37" height="241" filter="url(#spn)" opacity="0.85"/>
</g></g>
<g fill="none" stroke-width="1.2">
<line x1="104.1" y1="290.4" x2="104.1" y2="530.9" stroke="#9494fa"/>
<line x1="109.7" y1="285.3" x2="109.7" y2="525.8" stroke="#9494fa"/>
<line x1="141.4" y1="290.4" x2="141.4" y2="530.9" stroke="#9494fa"/>
<line x1="147" y1="285.3" x2="147" y2="525.8" stroke="#9494fa"/>
<line x1="109.7" y1="285.3" x2="147" y2="285.3" stroke="#8ef07a"/>
<line x1="104.1" y1="290.4" x2="141.4" y2="290.4" stroke="#8ef07a"/>
<line x1="109.7" y1="525.8" x2="147" y2="525.8" stroke="#8ef07a"/>
<line x1="104.1" y1="530.9" x2="141.4" y2="530.9" stroke="#8ef07a"/>
<line x1="104.1" y1="290.4" x2="109.7" y2="285.3" stroke="#f08080"/>
<line x1="104.1" y1="530.9" x2="109.7" y2="525.8" stroke="#f08080"/>
<line x1="141.4" y1="290.4" x2="147" y2="285.3" stroke="#f08080"/>
<line x1="141.4" y1="530.9" x2="147" y2="525.8" stroke="#f08080"/>
</g>
<g clip-path="url(#cpc4)"><g filter="url(#bl)">
<rect x="156" y="286.5" width="37" height="241.5" fill="#dc40f0" mask="url(#mP1)"/>
<rect x="156" y="286.5" width="37" height="241.5" fill="#dc40f0" mask="url(#mP2)"/>
<g mask="url(#mP4)" fill="#dc40f0"><polygon points="150,330 200,330 200,527 150,527"/></g>
</g></g>
<g fill="none" stroke-width="1.2">
<line x1="155.2" y1="290.2" x2="155.2" y2="531.5" stroke="#9494fa"/>
<line x1="161.1" y1="285.3" x2="161.1" y2="526.6" stroke="#9494fa"/>
<line x1="192.3" y1="290.2" x2="192.3" y2="531.5" stroke="#9494fa"/>
<line x1="198.2" y1="285.3" x2="198.2" y2="526.6" stroke="#9494fa"/>
<line x1="161.1" y1="285.3" x2="198.2" y2="285.3" stroke="#8ef07a"/>
<line x1="155.2" y1="290.2" x2="192.3" y2="290.2" stroke="#8ef07a"/>
<line x1="161.1" y1="526.6" x2="198.2" y2="526.6" stroke="#8ef07a"/>
<line x1="155.2" y1="531.5" x2="192.3" y2="531.5" stroke="#8ef07a"/>
<line x1="155.2" y1="290.2" x2="161.1" y2="285.3" stroke="#f08080"/>
<line x1="155.2" y1="531.5" x2="161.1" y2="526.6" stroke="#f08080"/>
<line x1="192.3" y1="290.2" x2="198.2" y2="285.3" stroke="#f08080"/>
<line x1="192.3" y1="531.5" x2="198.2" y2="526.6" stroke="#f08080"/>
</g>
<g clip-path="url(#cpc5)"><g filter="url(#bl)">
<rect x="214" y="287" width="37" height="241" fill="#da7cf0" mask="url(#mP1)"/>
<rect x="214" y="287" width="37" height="241" fill="#da7cf0" mask="url(#mP4)"/>
<g filter="url(#wob)">
<polyline points="234,296 244,290" fill="none" stroke="#3e1698" stroke-width="5.2" stroke-linejoin="round" stroke-linecap="round"/>
<polyline points="234,296 244,290" fill="none" stroke="#7a3ae8" stroke-width="4" stroke-linejoin="round" stroke-linecap="round"/>
<polyline points="224,306 246,300" fill="none" stroke="#3e1698" stroke-width="5.2" stroke-linejoin="round" stroke-linecap="round"/>
<polyline points="224,306 246,300" fill="none" stroke="#7a3ae8" stroke-width="4" stroke-linejoin="round" stroke-linecap="round"/>
<polyline points="227,314 244,308" fill="none" stroke="#3e1698" stroke-width="4.7" stroke-linejoin="round" stroke-linecap="round"/>
<polyline points="227,314 244,308" fill="none" stroke="#7a3ae8" stroke-width="3.5" stroke-linejoin="round" stroke-linecap="round"/>
<polyline points="226,320 242,316" fill="none" stroke="#3e1698" stroke-width="4.2" stroke-linejoin="round" stroke-linecap="round"/>
<polyline points="226,320 242,316" fill="none" stroke="#7a3ae8" stroke-width="3" stroke-linejoin="round" stroke-linecap="round"/>
<polygon points="222,324 240,322 238,330 230,336 222,338" fill="#7a3ae8" stroke="#3c1496" stroke-width="0.7"/>
<polyline points="222,343 238,336" fill="none" stroke="#3e1698" stroke-width="5.2" stroke-linejoin="round" stroke-linecap="round"/>
<polyline points="222,343 238,336" fill="none" stroke="#7a3ae8" stroke-width="4" stroke-linejoin="round" stroke-linecap="round"/>
<polyline points="224,326 240,323" fill="none" stroke="#3e1698" stroke-width="1.1" stroke-linejoin="round" stroke-linecap="round"/>
<polygon points="228,346 238,345 238,349 228,350" fill="#7a3ae8" stroke="#3c1496" stroke-width="0.7"/>
<polyline points="232,354 246,356" fill="none" stroke="#3e1698" stroke-width="4.2" stroke-linejoin="round" stroke-linecap="round"/>
<polyline points="232,354 246,356" fill="none" stroke="#7a3ae8" stroke-width="3" stroke-linejoin="round" stroke-linecap="round"/>
<polygon points="223,360 227,359 227,363 223,363" fill="#7a3ae8" stroke="#3c1496" stroke-width="0.7"/>
<polyline points="238,362 248,360" fill="none" stroke="#3e1698" stroke-width="4.2" stroke-linejoin="round" stroke-linecap="round"/>
<polyline points="238,362 248,360" fill="none" stroke="#7a3ae8" stroke-width="3" stroke-linejoin="round" stroke-linecap="round"/>
<polyline points="246,364 234,371 223,377" fill="none" stroke="#3e1698" stroke-width="6.2" stroke-linejoin="round" stroke-linecap="round"/>
<polyline points="246,364 234,371 223,377" fill="none" stroke="#7a3ae8" stroke-width="5" stroke-linejoin="round" stroke-linecap="round"/>
<polyline points="225,381 243,378" fill="none" stroke="#3e1698" stroke-width="4.7" stroke-linejoin="round" stroke-linecap="round"/>
<polyline points="225,381 243,378" fill="none" stroke="#7a3ae8" stroke-width="3.5" stroke-linejoin="round" stroke-linecap="round"/>
<polyline points="225,388 243,384" fill="none" stroke="#3e1698" stroke-width="4.7" stroke-linejoin="round" stroke-linecap="round"/>
<polyline points="225,388 243,384" fill="none" stroke="#7a3ae8" stroke-width="3.5" stroke-linejoin="round" stroke-linecap="round"/>
<polyline points="226,384 242,381" fill="none" stroke="#3e1698" stroke-width="1" stroke-linejoin="round" stroke-linecap="round"/>
<polygon points="222,393 231,393 231,399 222,399" fill="#7a3ae8" stroke="#3c1496" stroke-width="0.7"/>
<polygon points="243,395 248,395 248,399 243,399" fill="#7a3ae8" stroke="#3c1496" stroke-width="0.7"/>
<polygon points="222,402 233,402 233,409 222,409" fill="#7a3ae8" stroke="#3c1496" stroke-width="0.7"/>
<polyline points="234,407 248,406" fill="none" stroke="#3e1698" stroke-width="5.2" stroke-linejoin="round" stroke-linecap="round"/>
<polyline points="234,407 248,406" fill="none" stroke="#7a3ae8" stroke-width="4" stroke-linejoin="round" stroke-linecap="round"/>
<polyline points="222,419 248,411" fill="none" stroke="#3e1698" stroke-width="5.7" stroke-linejoin="round" stroke-linecap="round"/>
<polyline points="222,419 248,411" fill="none" stroke="#7a3ae8" stroke-width="4.5" stroke-linejoin="round" stroke-linecap="round"/>
<polyline points="222,431 248,422" fill="none" stroke="#3e1698" stroke-width="5.7" stroke-linejoin="round" stroke-linecap="round"/>
<polyline points="222,431 248,422" fill="none" stroke="#7a3ae8" stroke-width="4.5" stroke-linejoin="round" stroke-linecap="round"/>
<polygon points="222,433 233,432 233,439 222,440" fill="#7a3ae8" stroke="#3c1496" stroke-width="0.7"/>
<polyline points="226,446 248,441" fill="none" stroke="#3e1698" stroke-width="5.7" stroke-linejoin="round" stroke-linecap="round"/>
<polyline points="226,446 248,441" fill="none" stroke="#7a3ae8" stroke-width="4.5" stroke-linejoin="round" stroke-linecap="round"/>
<polyline points="226,448 248,443" fill="none" stroke="#3e1698" stroke-width="1" stroke-linejoin="round" stroke-linecap="round"/>
<polygon points="222,459 248,458 250,470 230,476 222,470" fill="#7a3ae8" stroke="#3c1496" stroke-width="0.7"/>
<polyline points="234,481 250,480" fill="none" stroke="#3e1698" stroke-width="5.2" stroke-linejoin="round" stroke-linecap="round"/>
<polyline points="234,481 250,480" fill="none" stroke="#7a3ae8" stroke-width="4" stroke-linejoin="round" stroke-linecap="round"/>
<polygon points="219,488 238,487 238,494 228,497 240,500 250,504 250,509 219,509" fill="#7a3ae8" stroke="#3c1496" stroke-width="0.7"/>
<polyline points="222,492 236,489" fill="none" stroke="#3e1698" stroke-width="1" stroke-linejoin="round" stroke-linecap="round"/>
<polyline points="222,503 248,506" fill="none" stroke="#3e1698" stroke-width="1" stroke-linejoin="round" stroke-linecap="round"/>
<polygon points="219,517 244,517 244,526 219,526" fill="#7a3ae8" stroke="#3c1496" stroke-width="0.7"/>
<polyline points="225,400 241,443" fill="none" stroke="#78c4e6" stroke-width="3.8" stroke-linejoin="round" stroke-linecap="round"/>
</g>
</g></g>
<g fill="none" stroke-width="1.2">
<line x1="213.3" y1="291.4" x2="213.3" y2="531.9" stroke="#9494fa"/>
<line x1="219.2" y1="286.7" x2="219.2" y2="527.2" stroke="#9494fa"/>
<line x1="250.5" y1="291.4" x2="250.5" y2="531.9" stroke="#9494fa"/>
<line x1="256.4" y1="286.7" x2="256.4" y2="527.2" stroke="#9494fa"/>
<line x1="219.2" y1="286.7" x2="256.4" y2="286.7" stroke="#8ef07a"/>
<line x1="213.3" y1="291.4" x2="250.5" y2="291.4" stroke="#8ef07a"/>
<line x1="219.2" y1="527.2" x2="256.4" y2="527.2" stroke="#8ef07a"/>
<line x1="213.3" y1="531.9" x2="250.5" y2="531.9" stroke="#8ef07a"/>
<line x1="213.3" y1="291.4" x2="219.2" y2="286.7" stroke="#f08080"/>
<line x1="213.3" y1="531.9" x2="219.2" y2="527.2" stroke="#f08080"/>
<line x1="250.5" y1="291.4" x2="256.4" y2="286.7" stroke="#f08080"/>
<line x1="250.5" y1="531.9" x2="256.4" y2="527.2" stroke="#f08080"/>
</g>
<rect x="4.2" y="255.9" width="36.7" height="18.6" fill="#e6803c" stroke="#1c2f52" stroke-width="2"/>
<text x="22.6" y="270.1" font-size="15.5" font-weight="bold" text-anchor="middle" fill="#000">Cu</text>
<rect x="55.5" y="255.9" width="36.3" height="18.6" fill="#6a10f2" stroke="#1c2f52" stroke-width="2"/>
<text x="73.7" y="270.1" font-size="15.5" font-weight="bold" text-anchor="middle" fill="#000">Be</text>
<rect x="106.8" y="255.9" width="36.1" height="18.6" fill="#86f276" stroke="#1c2f52" stroke-width="2"/>
<text x="124.8" y="270.1" font-size="15.5" font-weight="bold" text-anchor="middle" fill="#000">Ni</text>
<rect x="159.8" y="255.9" width="36.1" height="18.6" fill="#de3ef0" stroke="#1c2f52" stroke-width="2"/>
<text x="177.9" y="270.1" font-size="15.5" font-weight="bold" text-anchor="middle" fill="#000">Mg</text>
<rect x="208.3" y="255.9" width="54.5" height="18.6" fill="#b89cf0" stroke="#1c2f52" stroke-width="2"/>
<text x="235.6" y="270.1" font-size="15.5" font-weight="bold" text-anchor="middle" fill="#000">Be+Mg</text>
<rect x="4.1" y="541.4" width="36.8" height="18.6" fill="#e6803c" stroke="#1c2f52" stroke-width="2"/>
<text x="22.5" y="555.6" font-size="15.5" font-weight="bold" text-anchor="middle" fill="#000">Cu</text>
<rect x="55.8" y="541.4" width="36.2" height="18.6" fill="#6a10f2" stroke="#1c2f52" stroke-width="2"/>
<text x="73.9" y="555.6" font-size="15.5" font-weight="bold" text-anchor="middle" fill="#000">Be</text>
<rect x="106.9" y="541.4" width="36.3" height="18.6" fill="#86f276" stroke="#1c2f52" stroke-width="2"/>
<text x="125" y="555.6" font-size="15.5" font-weight="bold" text-anchor="middle" fill="#000">Ni</text>
<rect x="160.2" y="541.4" width="35.3" height="18.6" fill="#de3ef0" stroke="#1c2f52" stroke-width="2"/>
<text x="177.8" y="555.6" font-size="15.5" font-weight="bold" text-anchor="middle" fill="#000">Mg</text>
<rect x="205.9" y="541.4" width="53.6" height="18.6" fill="#b89cf0" stroke="#1c2f52" stroke-width="2"/>
<text x="232.7" y="555.6" font-size="15.5" font-weight="bold" text-anchor="middle" fill="#000">Be+Mg</text>
<rect x="240.2" y="246.8" width="20.3" height="2.7" fill="#000"/>
<text x="264.4" y="252.1" font-size="15.5" fill="#000">25 nm</text>
<rect x="240.4" y="529.3" width="20" height="2.7" fill="#000"/>
<text x="264.4" y="536.2" font-size="15.5" fill="#000">25 nm</text>
<text x="-0.3" y="24.5" font-size="32" font-weight="bold" fill="#000">a</text>
<text x="276.6" y="25.3" font-size="32" font-weight="bold" fill="#000">b</text>
<text x="-0.9" y="311.9" font-size="32" font-weight="bold" fill="#000">c</text>
<text x="277.2" y="311.9" font-size="32" font-weight="bold" fill="#000">d</text>
<rect x="322.8" y="9.9" width="355.9" height="229.3" fill="url(#gb)"/>
<text x="373.9" y="73.2" font-size="18.7" fill="#f0822e">Matrix</text>
<text x="584" y="73.6" font-size="18.8" fill="#f0822e">Matrix</text>
<text x="453.1" y="61.6" font-size="19.1" fill="#f0822e">Precipitation</text>
<path d="M434.7 23V31.7M431.7 23h6M431.7 31.7h6M441.4 28V38.9M438.4 28h6M438.4 38.9h6M448.2 51.2V57.7M445.2 51.2h6M445.2 57.7h6M461.8 98.8V107.5M458.8 98.8h6M458.8 107.5h6M482.1 178.7V187.4M479.1 178.7h6M479.1 187.4h6M488.9 208.2V219.1M485.9 208.2h6M485.9 219.1h6M495.7 212.3V225.4M492.7 212.3h6M492.7 225.4h6M502.4 208.4V217.1M499.4 208.4h6M499.4 217.1h6M509.2 190.9V197.5M506.2 190.9h6M506.2 197.5h6M522.8 133.3V146.4M519.8 133.3h6M519.8 146.4h6M529.6 111V119.7M526.6 111h6M526.6 119.7h6M536.3 90.9V104M533.3 90.9h6M533.3 104h6M543.1 72.4V87.6M540.1 72.4h6M540.1 87.6h6M549.9 60.3V71.3M546.9 60.3h6M546.9 71.3h6M556.7 43.5V61M553.7 43.5h6M553.7 61h6M563.5 32.8V45.9M560.5 32.8h6M560.5 45.9h6M604.1 13.2V19.7M601.1 13.2h6M601.1 19.7h6M631.2 14.7V21.3M628.2 14.7h6M628.2 21.3h6M644.8 18V24.5M641.8 18h6M641.8 24.5h6M651.6 18.2V26.9M648.6 18.2h6M648.6 26.9h6M658.4 19.7V28.5M655.4 19.7h6M655.4 28.5h6M671.9 21.3V27.8M668.9 21.3h6M668.9 27.8h6" stroke="#f4a878" stroke-width="1" fill="none"/>
<polyline points="326.2,16.9 333,16.9 339.7,18.9 346.5,21 353.3,21 360.1,23.4 366.9,23.4 373.6,24.1 380.4,24.7 387.2,24.7 394,24.3 400.8,23.4 407.5,23 414.3,23 421.1,23.4 427.9,24.7 434.7,27.4 441.4,33.5 448.2,54.4 455,76.7 461.8,103.1 468.5,127.4 475.3,158.8 482.1,183.1 488.9,213.6 495.7,218.9 502.4,212.8 509.2,194.2 516,168.2 522.8,139.8 529.6,115.4 536.3,97.5 543.1,80 549.9,65.8 556.7,52.3 563.5,39.4 570.2,32.2 577,24.1 583.8,21.9 590.6,20.4 597.4,19.1 604.1,16.5 610.9,16 617.7,15.4 624.5,16.5 631.2,18 638,19.7 644.8,21.3 651.6,22.6 658.4,24.1 665.1,24.1 671.9,24.5" fill="none" stroke="#f08030" stroke-width="1.3"/>
<g fill="#fff" fill-opacity="0.85" stroke="#f08030" stroke-width="1"><rect x="323.7" y="14.4" width="5" height="5"/><rect x="330.5" y="14.4" width="5" height="5"/><rect x="337.2" y="16.4" width="5" height="5"/><rect x="344" y="18.5" width="5" height="5"/><rect x="350.8" y="18.5" width="5" height="5"/><rect x="357.6" y="20.9" width="5" height="5"/><rect x="364.4" y="20.9" width="5" height="5"/><rect x="371.1" y="21.6" width="5" height="5"/><rect x="377.9" y="22.2" width="5" height="5"/><rect x="384.7" y="22.2" width="5" height="5"/><rect x="391.5" y="21.8" width="5" height="5"/><rect x="398.3" y="20.9" width="5" height="5"/><rect x="405" y="20.5" width="5" height="5"/><rect x="411.8" y="20.5" width="5" height="5"/><rect x="418.6" y="20.9" width="5" height="5"/><rect x="425.4" y="22.2" width="5" height="5"/><rect x="432.2" y="24.9" width="5" height="5"/><rect x="438.9" y="31" width="5" height="5"/><rect x="445.7" y="51.9" width="5" height="5"/><rect x="452.5" y="74.2" width="5" height="5"/><rect x="459.3" y="100.6" width="5" height="5"/><rect x="466" y="124.9" width="5" height="5"/><rect x="472.8" y="156.3" width="5" height="5"/><rect x="479.6" y="180.6" width="5" height="5"/><rect x="486.4" y="211.1" width="5" height="5"/><rect x="493.2" y="216.4" width="5" height="5"/><rect x="499.9" y="210.3" width="5" height="5"/><rect x="506.7" y="191.7" width="5" height="5"/><rect x="513.5" y="165.7" width="5" height="5"/><rect x="520.3" y="137.3" width="5" height="5"/><rect x="527.1" y="112.9" width="5" height="5"/><rect x="533.8" y="95" width="5" height="5"/><rect x="540.6" y="77.5" width="5" height="5"/><rect x="547.4" y="63.3" width="5" height="5"/><rect x="554.2" y="49.8" width="5" height="5"/><rect x="561" y="36.9" width="5" height="5"/><rect x="567.7" y="29.7" width="5" height="5"/><rect x="574.5" y="21.6" width="5" height="5"/><rect x="581.3" y="19.4" width="5" height="5"/><rect x="588.1" y="17.9" width="5" height="5"/><rect x="594.9" y="16.6" width="5" height="5"/><rect x="601.6" y="14" width="5" height="5"/><rect x="608.4" y="13.5" width="5" height="5"/><rect x="615.2" y="12.9" width="5" height="5"/><rect x="622" y="14" width="5" height="5"/><rect x="628.7" y="15.5" width="5" height="5"/><rect x="635.5" y="17.2" width="5" height="5"/><rect x="642.3" y="18.8" width="5" height="5"/><rect x="649.1" y="20.1" width="5" height="5"/><rect x="655.9" y="21.6" width="5" height="5"/><rect x="662.6" y="21.6" width="5" height="5"/><rect x="669.4" y="22" width="5" height="5"/></g>
<path d="M468.5 143.1V149.7M465.5 143.1h6M465.5 149.7h6M475.3 131.8V138.3M472.3 131.8h6M472.3 138.3h6M482.1 123.7V130.2M479.1 123.7h6M479.1 130.2h6M488.9 120V126.5M485.9 120h6M485.9 126.5h6M495.7 115.4V126.3M492.7 115.4h6M492.7 126.3h6M502.4 118V126.7M499.4 118h6M499.4 126.7h6M509.2 122.1V128.7M506.2 122.1h6M506.2 128.7h6M516 128V134.6M513 128h6M513 134.6h6M522.8 135.5V144.2M519.8 135.5h6M519.8 144.2h6M529.6 148.1V156.9M526.6 148.1h6M526.6 156.9h6M536.3 162.1V173M533.3 162.1h6M533.3 173h6M543.1 176.5V189.6M540.1 176.5h6M540.1 189.6h6M549.9 189.6V204.9M546.9 189.6h6M546.9 204.9h6M556.7 201.9V215M553.7 201.9h6M553.7 215h6" stroke="#6cb46c" stroke-width="1" fill="none"/>
<polyline points="326.2,222.2 333,222.2 339.7,222.2 346.5,222.6 353.3,223.5 360.1,223.9 366.9,224.4 373.6,224.4 380.4,224.4 387.2,224.4 394,224.4 400.8,224.4 407.5,224.1 414.3,223.9 421.1,223.5 427.9,222.2 434.7,215.4 441.4,207.8 448.2,195.7 455,179.8 461.8,161.9 468.5,146.4 475.3,135 482.1,127 488.9,123.2 495.7,120.8 502.4,122.4 509.2,125.4 516,131.3 522.8,139.8 529.6,152.5 536.3,167.6 543.1,183.1 549.9,197.3 556.7,208.4 563.5,216.7 570.2,221.9 577,224.6 583.8,225.4 590.6,226.1 597.4,226.1 604.1,225.4 610.9,223.9 617.7,222.8 624.5,221.3 631.2,220.4 638,218.7 644.8,217.8 651.6,216.7 658.4,215.6 665.1,214.7 671.9,214.7" fill="none" stroke="#3c9c3c" stroke-width="1.3"/>
<g fill="#fff" fill-opacity="0.85" stroke="#3c9c3c" stroke-width="1"><circle cx="326.2" cy="222.2" r="3"/><circle cx="333" cy="222.2" r="3"/><circle cx="339.7" cy="222.2" r="3"/><circle cx="346.5" cy="222.6" r="3"/><circle cx="353.3" cy="223.5" r="3"/><circle cx="360.1" cy="223.9" r="3"/><circle cx="366.9" cy="224.4" r="3"/><circle cx="373.6" cy="224.4" r="3"/><circle cx="380.4" cy="224.4" r="3"/><circle cx="387.2" cy="224.4" r="3"/><circle cx="394" cy="224.4" r="3"/><circle cx="400.8" cy="224.4" r="3"/><circle cx="407.5" cy="224.1" r="3"/><circle cx="414.3" cy="223.9" r="3"/><circle cx="421.1" cy="223.5" r="3"/><circle cx="427.9" cy="222.2" r="3"/><circle cx="434.7" cy="215.4" r="3"/><circle cx="441.4" cy="207.8" r="3"/><circle cx="448.2" cy="195.7" r="3"/><circle cx="455" cy="179.8" r="3"/><circle cx="461.8" cy="161.9" r="3"/><circle cx="468.5" cy="146.4" r="3"/><circle cx="475.3" cy="135" r="3"/><circle cx="482.1" cy="127" r="3"/><circle cx="488.9" cy="123.2" r="3"/><circle cx="495.7" cy="120.8" r="3"/><circle cx="502.4" cy="122.4" r="3"/><circle cx="509.2" cy="125.4" r="3"/><circle cx="516" cy="131.3" r="3"/><circle cx="522.8" cy="139.8" r="3"/><circle cx="529.6" cy="152.5" r="3"/><circle cx="536.3" cy="167.6" r="3"/><circle cx="543.1" cy="183.1" r="3"/><circle cx="549.9" cy="197.3" r="3"/><circle cx="556.7" cy="208.4" r="3"/><circle cx="563.5" cy="216.7" r="3"/><circle cx="570.2" cy="221.9" r="3"/><circle cx="577" cy="224.6" r="3"/><circle cx="583.8" cy="225.4" r="3"/><circle cx="590.6" cy="226.1" r="3"/><circle cx="597.4" cy="226.1" r="3"/><circle cx="604.1" cy="225.4" r="3"/><circle cx="610.9" cy="223.9" r="3"/><circle cx="617.7" cy="222.8" r="3"/><circle cx="624.5" cy="221.3" r="3"/><circle cx="631.2" cy="220.4" r="3"/><circle cx="638" cy="218.7" r="3"/><circle cx="644.8" cy="217.8" r="3"/><circle cx="651.6" cy="216.7" r="3"/><circle cx="658.4" cy="215.6" r="3"/><circle cx="665.1" cy="214.7" r="3"/><circle cx="671.9" cy="214.7" r="3"/></g>
<path d="M468.5 186.6V195.3M465.5 186.6h6M465.5 195.3h6M475.3 168.9V177.6M472.3 168.9h6M472.3 177.6h6M482.1 149.7V162.8M479.1 149.7h6M479.1 162.8h6M488.9 125.9V134.6M485.9 125.9h6M485.9 134.6h6M495.7 118.9V132M492.7 118.9h6M492.7 132h6M502.4 125.9V136.8M499.4 125.9h6M499.4 136.8h6M509.2 142.7V151.4M506.2 142.7h6M506.2 151.4h6M516 162.8V171.5M513 162.8h6M513 171.5h6M522.8 179.8V192.9M519.8 179.8h6M519.8 192.9h6M529.6 194.4V207.5M526.6 194.4h6M526.6 207.5h6M536.3 198.6V213.9M533.3 198.6h6M533.3 213.9h6M543.1 205.1V218.2M540.1 205.1h6M540.1 218.2h6M549.9 212.6V221.3M546.9 212.6h6M546.9 221.3h6" stroke="#b4b480" stroke-width="1" fill="none"/>
<polyline points="326.2,227.8 333,227.8 339.7,227.8 346.5,227.8 353.3,227.8 360.1,227.8 366.9,227.8 373.6,227.8 380.4,227.8 387.2,227.8 394,227.8 400.8,227.8 407.5,227.8 414.3,227.8 421.1,227.8 427.9,227.8 434.7,227.8 441.4,224.4 448.2,216.9 455,209.1 461.8,201.4 468.5,190.9 475.3,173.2 482.1,156.2 488.9,130.2 495.7,125.4 502.4,131.3 509.2,147 516,167.1 522.8,186.4 529.6,201 536.3,206.2 543.1,211.7 549.9,216.9 556.7,218 563.5,222.8 570.2,225.7 577,227.4 583.8,227.6 590.6,227.6 597.4,227.6 604.1,227.6 610.9,227.6 617.7,227.6 624.5,227.6 631.2,227.6 638,227.6 644.8,227.6 651.6,227.6 658.4,227.6 665.1,227.6 671.9,227.6" fill="none" stroke="#9c9c50" stroke-width="1.3"/>
<g fill="#fff" fill-opacity="0.85" stroke="#9c9c50" stroke-width="1"><path d="M326.2 224.5l3.3 5.5h-6.6z"/><path d="M333 224.5l3.3 5.5h-6.6z"/><path d="M339.7 224.5l3.3 5.5h-6.6z"/><path d="M346.5 224.5l3.3 5.5h-6.6z"/><path d="M353.3 224.5l3.3 5.5h-6.6z"/><path d="M360.1 224.5l3.3 5.5h-6.6z"/><path d="M366.9 224.5l3.3 5.5h-6.6z"/><path d="M373.6 224.5l3.3 5.5h-6.6z"/><path d="M380.4 224.5l3.3 5.5h-6.6z"/><path d="M387.2 224.5l3.3 5.5h-6.6z"/><path d="M394 224.5l3.3 5.5h-6.6z"/><path d="M400.8 224.5l3.3 5.5h-6.6z"/><path d="M407.5 224.5l3.3 5.5h-6.6z"/><path d="M414.3 224.5l3.3 5.5h-6.6z"/><path d="M421.1 224.5l3.3 5.5h-6.6z"/><path d="M427.9 224.5l3.3 5.5h-6.6z"/><path d="M434.7 224.5l3.3 5.5h-6.6z"/><path d="M441.4 221.1l3.3 5.5h-6.6z"/><path d="M448.2 213.6l3.3 5.5h-6.6z"/><path d="M455 205.8l3.3 5.5h-6.6z"/><path d="M461.8 198.1l3.3 5.5h-6.6z"/><path d="M468.5 187.6l3.3 5.5h-6.6z"/><path d="M475.3 169.9l3.3 5.5h-6.6z"/><path d="M482.1 152.9l3.3 5.5h-6.6z"/><path d="M488.9 126.9l3.3 5.5h-6.6z"/><path d="M495.7 122.1l3.3 5.5h-6.6z"/><path d="M502.4 128l3.3 5.5h-6.6z"/><path d="M509.2 143.7l3.3 5.5h-6.6z"/><path d="M516 163.8l3.3 5.5h-6.6z"/><path d="M522.8 183.1l3.3 5.5h-6.6z"/><path d="M529.6 197.7l3.3 5.5h-6.6z"/><path d="M536.3 202.9l3.3 5.5h-6.6z"/><path d="M543.1 208.4l3.3 5.5h-6.6z"/><path d="M549.9 213.6l3.3 5.5h-6.6z"/><path d="M556.7 214.7l3.3 5.5h-6.6z"/><path d="M563.5 219.5l3.3 5.5h-6.6z"/><path d="M570.2 222.4l3.3 5.5h-6.6z"/><path d="M577 224.1l3.3 5.5h-6.6z"/><path d="M583.8 224.3l3.3 5.5h-6.6z"/><path d="M590.6 224.3l3.3 5.5h-6.6z"/><path d="M597.4 224.3l3.3 5.5h-6.6z"/><path d="M604.1 224.3l3.3 5.5h-6.6z"/><path d="M610.9 224.3l3.3 5.5h-6.6z"/><path d="M617.7 224.3l3.3 5.5h-6.6z"/><path d="M624.5 224.3l3.3 5.5h-6.6z"/><path d="M631.2 224.3l3.3 5.5h-6.6z"/><path d="M638 224.3l3.3 5.5h-6.6z"/><path d="M644.8 224.3l3.3 5.5h-6.6z"/><path d="M651.6 224.3l3.3 5.5h-6.6z"/><path d="M658.4 224.3l3.3 5.5h-6.6z"/><path d="M665.1 224.3l3.3 5.5h-6.6z"/><path d="M671.9 224.3l3.3 5.5h-6.6z"/></g>
<polyline points="326.2,229.4 333,229.4 339.7,227.6 346.5,226.1 353.3,224.4 360.1,222.6 366.9,221.7 373.6,221.3 380.4,220.9 387.2,220.6 394,220.6 400.8,220.9 407.5,221.1 414.3,221.3 421.1,221.7 427.9,223.9 434.7,226.5 441.4,227.6 448.2,227.4 455,227.4 461.8,227.4 468.5,227.4 475.3,227.4 482.1,227.4 488.9,227.4 495.7,227.4 502.4,227.4 509.2,227.4 516,227.4 522.8,227.4 529.6,227.4 536.3,226.3 543.1,224.4 549.9,220 556.7,218.7 563.5,218.5 570.2,218.7 577,220.4 583.8,221.3 590.6,221.9 597.4,222.4 604.1,223.3 610.9,224.6 617.7,225.4 624.5,227 631.2,228.3 638,228.3 644.8,228.3 651.6,228.3 658.4,228.3 665.1,228.3 671.9,228.3" fill="none" stroke="#2828f5" stroke-width="1.3"/>
<g fill="#fff" fill-opacity="0.85" stroke="#2828f5" stroke-width="1"><path d="M326.2 232.7l-3.3 -5.5h6.6z"/><path d="M333 232.7l-3.3 -5.5h6.6z"/><path d="M339.7 230.9l-3.3 -5.5h6.6z"/><path d="M346.5 229.4l-3.3 -5.5h6.6z"/><path d="M353.3 227.7l-3.3 -5.5h6.6z"/><path d="M360.1 225.9l-3.3 -5.5h6.6z"/><path d="M366.9 225l-3.3 -5.5h6.6z"/><path d="M373.6 224.6l-3.3 -5.5h6.6z"/><path d="M380.4 224.2l-3.3 -5.5h6.6z"/><path d="M387.2 223.9l-3.3 -5.5h6.6z"/><path d="M394 223.9l-3.3 -5.5h6.6z"/><path d="M400.8 224.2l-3.3 -5.5h6.6z"/><path d="M407.5 224.4l-3.3 -5.5h6.6z"/><path d="M414.3 224.6l-3.3 -5.5h6.6z"/><path d="M421.1 225l-3.3 -5.5h6.6z"/><path d="M427.9 227.2l-3.3 -5.5h6.6z"/><path d="M434.7 229.8l-3.3 -5.5h6.6z"/><path d="M441.4 230.9l-3.3 -5.5h6.6z"/><path d="M448.2 230.7l-3.3 -5.5h6.6z"/><path d="M455 230.7l-3.3 -5.5h6.6z"/><path d="M461.8 230.7l-3.3 -5.5h6.6z"/><path d="M468.5 230.7l-3.3 -5.5h6.6z"/><path d="M475.3 230.7l-3.3 -5.5h6.6z"/><path d="M482.1 230.7l-3.3 -5.5h6.6z"/><path d="M488.9 230.7l-3.3 -5.5h6.6z"/><path d="M495.7 230.7l-3.3 -5.5h6.6z"/><path d="M502.4 230.7l-3.3 -5.5h6.6z"/><path d="M509.2 230.7l-3.3 -5.5h6.6z"/><path d="M516 230.7l-3.3 -5.5h6.6z"/><path d="M522.8 230.7l-3.3 -5.5h6.6z"/><path d="M529.6 230.7l-3.3 -5.5h6.6z"/><path d="M536.3 229.6l-3.3 -5.5h6.6z"/><path d="M543.1 227.7l-3.3 -5.5h6.6z"/><path d="M549.9 223.3l-3.3 -5.5h6.6z"/><path d="M556.7 222l-3.3 -5.5h6.6z"/><path d="M563.5 221.8l-3.3 -5.5h6.6z"/><path d="M570.2 222l-3.3 -5.5h6.6z"/><path d="M577 223.7l-3.3 -5.5h6.6z"/><path d="M583.8 224.6l-3.3 -5.5h6.6z"/><path d="M590.6 225.2l-3.3 -5.5h6.6z"/><path d="M597.4 225.7l-3.3 -5.5h6.6z"/><path d="M604.1 226.6l-3.3 -5.5h6.6z"/><path d="M610.9 227.9l-3.3 -5.5h6.6z"/><path d="M617.7 228.7l-3.3 -5.5h6.6z"/><path d="M624.5 230.3l-3.3 -5.5h6.6z"/><path d="M631.2 231.6l-3.3 -5.5h6.6z"/><path d="M638 231.6l-3.3 -5.5h6.6z"/><path d="M644.8 231.6l-3.3 -5.5h6.6z"/><path d="M651.6 231.6l-3.3 -5.5h6.6z"/><path d="M658.4 231.6l-3.3 -5.5h6.6z"/><path d="M665.1 231.6l-3.3 -5.5h6.6z"/><path d="M671.9 231.6l-3.3 -5.5h6.6z"/></g>
<text x="444.2" y="30.8" font-size="19.3" fill="#1c1cf2">Inside the grain</text>
<text x="336.2" y="192.4" font-size="15.1" fill="#2020f0">Mg aggregation</text>
<text x="588" y="196.8" font-size="12.8" fill="#2020f0">Mg aggregation</text>
<path d="M381.7 199.8L389.6 211.8" stroke="#2020f0" stroke-width="1.2"/><path d="M391 214l-4.2-2.2 3.2-2.3z" fill="#2020f0" stroke="#2020f0" stroke-width="1"/>
<path d="M596.8 203.8L590 213.6" stroke="#2020f0" stroke-width="1.2"/><path d="M588.5 215.8l0.6-4.6 3.2 2.3z" fill="#2020f0" stroke="#2020f0" stroke-width="1"/>
<rect x="612.9" y="208.8" width="55.1" height="26.4" fill="none" stroke="#d42020" stroke-width="1.7" stroke-dasharray="5 2.5"/>
<path d="M548.5 150.2L612.9 235.2M668 208.8L671.3 147.4" stroke="#d42020" stroke-width="1.5" stroke-dasharray="4 2.5" fill="none"/>
<path d="M322.8 9.9H678.7" stroke="#6e6e6e" stroke-width="1.6"/>
<path d="M322.8 9.9V239.2" stroke="#6e6e6e" stroke-width="1.6"/>
<path d="M322 239.2H679.5 M678.7 9.1V239.2" stroke="#1a1a1a" stroke-width="1.6" fill="none"/>
<path d="M331.3 239.2v-2M373.6 239.2v-3.5M416 239.2v-2M458.4 239.2v-3.5M500.8 239.2v-2M543.1 239.2v-3.5M585.5 239.2v-2M627.9 239.2v-3.5M670.2 239.2v-2M322.8 206.4h2M322.8 184.6h3.5M322.8 162.8h2M322.8 140.9h3.5M322.8 119.1h2M322.8 97.3h3.5M322.8 75.4h2M322.8 53.6h3.5M322.8 31.7h2M322.8 228.3h3.5" stroke="#222" stroke-width="1.2"/>
<text x="373.6" y="256.4" font-size="15" text-anchor="middle">5</text>
<text x="458.4" y="256.4" font-size="15" text-anchor="middle">10</text>
<text x="543.1" y="256.4" font-size="15" text-anchor="middle">15</text>
<text x="627.9" y="256.4" font-size="15" text-anchor="middle">20</text>
<text x="317.8" y="233" font-size="15" text-anchor="end">0</text>
<text x="317.8" y="189.3" font-size="15" text-anchor="end">20</text>
<text x="317.8" y="145.6" font-size="15" text-anchor="end">40</text>
<text x="317.8" y="102" font-size="15" text-anchor="end">60</text>
<text x="317.8" y="58.3" font-size="15" text-anchor="end">80</text>
<text x="317.8" y="14.6" font-size="15" text-anchor="end">100</text>
<text x="501.5" y="275.2" font-size="19.1" text-anchor="middle">Distance (nm)</text>
<text transform="translate(292.6 123) rotate(-90)" font-size="19.3" text-anchor="middle">Concentration (at%)</text>
<path d="M333.2 93.7H367.5" stroke="#f08030" stroke-width="1.3"/>
<rect x="347.9" y="91.2" width="5" height="5" fill="#fff" stroke="#f08030"/>
<text x="371.8" y="98.6" font-size="14.5">Cu</text>
<path d="M333.2 112.2H367.5" stroke="#3c9c3c" stroke-width="1.3"/>
<circle cx="350.4" cy="112.2" r="3" fill="#fff" stroke="#3c9c3c"/>
<text x="371.8" y="117.2" font-size="14.5">Be</text>
<path d="M333.2 130.8H367.5" stroke="#9c9c50" stroke-width="1.3"/>
<path d="M350.4 127.5l3.3 5.5h-6.6z" fill="#fff" stroke="#9c9c50"/>
<text x="371.8" y="135.7" font-size="14.5">Ni</text>
<path d="M333.2 149.4H367.5" stroke="#2828f5" stroke-width="1.3"/>
<path d="M350.4 152.7l-3.3 -5.5h6.6z" fill="#fff" stroke="#2828f5"/>
<text x="371.8" y="154.3" font-size="14.5">Mg</text>
<rect x="555.5" y="91" width="115.9" height="50" fill="url(#gbi)" stroke="#8a8a8a" stroke-width="1"/>
<path d="M555.5 91V141H671.4" stroke="#333" stroke-width="1" fill="none"/>
<text x="559.4" y="100.9" font-size="8.45" fill="#2a2af2">Inside the grain</text>
<polyline points="555.5,116 564.1,114.7 575.1,111.5 586.7,109.3 597.9,109.3 608.9,111.5 620.5,113.3 631.8,114.3 643.3,114.8 654.6,115.2 665.3,114.3 671.4,114" fill="none" stroke="#5a5af5" stroke-width="1"/>
<g fill="#fff" stroke="#7a7af8" stroke-width="0.7"><circle cx="564.1" cy="114.7" r="1.5"/><circle cx="575.1" cy="111.5" r="1.5"/><circle cx="586.7" cy="109.3" r="1.5"/><circle cx="597.9" cy="109.3" r="1.5"/><circle cx="608.9" cy="111.5" r="1.5"/><circle cx="620.5" cy="113.3" r="1.5"/><circle cx="631.8" cy="114.3" r="1.5"/><circle cx="643.3" cy="114.8" r="1.5"/><circle cx="654.6" cy="115.2" r="1.5"/><circle cx="665.3" cy="114.3" r="1.5"/></g>
<text x="553.3" y="144" font-size="8.6" text-anchor="end" fill="#222">0.0</text>
<path d="M555.5 141h2" stroke="#333" stroke-width="0.8"/>
<text x="553.3" y="127.3" font-size="8.6" text-anchor="end" fill="#222">0.1</text>
<path d="M555.5 124.3h2" stroke="#333" stroke-width="0.8"/>
<text x="553.3" y="110.7" font-size="8.6" text-anchor="end" fill="#222">0.2</text>
<path d="M555.5 107.7h2" stroke="#333" stroke-width="0.8"/>
<text x="553.3" y="94" font-size="8.6" text-anchor="end" fill="#222">0.3</text>
<path d="M555.5 91h2" stroke="#333" stroke-width="0.8"/>
<text x="559.3" y="149.6" font-size="8.6" text-anchor="middle" fill="#222">20</text>
<path d="M559.3 141v-2" stroke="#333" stroke-width="0.8"/>
<text x="587.5" y="149.6" font-size="8.6" text-anchor="middle" fill="#222">21</text>
<path d="M587.5 141v-2" stroke="#333" stroke-width="0.8"/>
<text x="615.7" y="149.6" font-size="8.6" text-anchor="middle" fill="#222">22</text>
<path d="M615.7 141v-2" stroke="#333" stroke-width="0.8"/>
<text x="643.9" y="149.6" font-size="8.6" text-anchor="middle" fill="#222">23</text>
<path d="M643.9 141v-2" stroke="#333" stroke-width="0.8"/>
<text x="672.1" y="149.6" font-size="8.6" text-anchor="middle" fill="#222">24</text>
<path d="M672.1 141v-2" stroke="#333" stroke-width="0.8"/>
<path d="M641.2 96.3h15" stroke="#5a5af5" stroke-width="1"/>
<circle cx="648.7" cy="96.3" r="1.5" fill="#fff" stroke="#7a7af8" stroke-width="0.7"/>
<text x="657.7" y="98.9" font-size="7.5" fill="#222">Mg</text>
<text x="573.8" y="125.4" font-size="8.6" fill="#f02a2a">Average Mg concentration</text>
<text x="573.8" y="135.4" font-size="8.6" fill="#f02a2a">inside the grain：0.17 at%</text>
<rect x="322.6" y="300.5" width="356.2" height="229" fill="url(#gd)"/>
<text x="373.3" y="362.5" font-size="19" fill="#f0822e">Matrix</text>
<text x="583.7" y="364.5" font-size="19" fill="#f0822e">Matrix</text>
<text x="463.4" y="352.6" font-size="15" fill="#f0822e">Precipitation</text>
<path d="M325.7 311.4V322.3M322.7 311.4h6M322.7 322.3h6M331.9 308.4V321.4M328.9 308.4h6M328.9 321.4h6M338.1 302.5V322.1M335.1 302.5h6M335.1 322.1h6M350.5 304.6V315.5M347.5 304.6h6M347.5 315.5h6M356.7 303.6V316.6M353.7 303.6h6M353.7 316.6h6M362.9 305.5V316.4M359.9 305.5h6M359.9 316.4h6M369.1 307.9V318.8M366.1 307.9h6M366.1 318.8h6M400 307.9V316.6M397 307.9h6M397 316.6h6M412.4 309V322.1M409.4 309h6M409.4 322.1h6M418.6 311.2V324.3M415.6 311.2h6M415.6 324.3h6M424.8 312.7V325.8M421.8 312.7h6M421.8 325.8h6M431 314.5V325.4M428 314.5h6M428 325.4h6M437.2 315.1V326M434.2 315.1h6M434.2 326h6M449.6 327.1V335.8M446.6 327.1h6M446.6 335.8h6M455.8 334.7V347.8M452.8 334.7h6M452.8 347.8h6M462 350V363.1M459 350h6M459 363.1h6M468.2 366.4V379.5M465.2 366.4h6M465.2 379.5h6M474.4 379.5V392.5M471.4 379.5h6M471.4 392.5h6M480.6 389.7V405M477.6 389.7h6M477.6 405h6M486.8 398.2V411.3M483.8 398.2h6M483.8 411.3h6M493 406.1V417M490 406.1h6M490 417h6M499.2 410.6V421.5M496.2 410.6h6M496.2 421.5h6M505.3 411.7V422.6M502.3 411.7h6M502.3 422.6h6M511.5 402.8V420.2M508.5 402.8h6M508.5 420.2h6M517.7 396V409.1M514.7 396h6M514.7 409.1h6M523.9 388V401M520.9 388h6M520.9 401h6M530.1 377.9V391M527.1 377.9h6M527.1 391h6M536.3 363.3V376.4M533.3 363.3h6M533.3 376.4h6M542.5 346.5V359.6M539.5 346.5h6M539.5 359.6h6M548.7 334.7V345.6M545.7 334.7h6M545.7 345.6h6M554.9 326.5V337.4M551.9 326.5h6M551.9 337.4h6M561.1 322.3V331M558.1 322.3h6M558.1 331h6M579.7 312.1V320.8M576.7 312.1h6M576.7 320.8h6M610.7 313.6V322.3M607.7 313.6h6M607.7 322.3h6M616.9 312.1V320.8M613.9 312.1h6M613.9 320.8h6M623 309.2V320.1M620 309.2h6M620 320.1h6M629.2 307V317.9M626.2 307h6M626.2 317.9h6M641.6 301.6V312.5M638.6 301.6h6M638.6 312.5h6M647.8 300.3V313.4M644.8 300.3h6M644.8 313.4h6M654 300.5V313.6M651 300.5h6M651 313.6h6M660.2 301.2V314.2M657.2 301.2h6M657.2 314.2h6M666.4 303.6V312.3M663.4 303.6h6M663.4 312.3h6" stroke="#f4a878" stroke-width="1" fill="none"/>
<polyline points="325.7,316.9 331.9,314.9 338.1,312.3 344.3,311 350.5,310.1 356.7,310.1 362.9,311 369.1,313.4 375.3,316.2 381.5,315.3 387.6,314 393.8,312.5 400,312.3 406.2,312.9 412.4,315.5 418.6,317.7 424.8,319.3 431,319.9 437.2,320.6 443.4,320.6 449.6,331.5 455.8,341.3 462,356.6 468.2,372.9 474.4,386 480.6,397.3 486.8,404.7 493,411.5 499.2,416.1 505.3,417.2 511.5,411.5 517.7,402.6 523.9,394.5 530.1,384.5 536.3,369.9 542.5,353.1 548.7,340.2 554.9,331.9 561.1,326.7 567.3,316.2 573.5,316 579.7,316.4 585.9,317.3 592.1,318.4 598.3,318.6 604.5,318.6 610.7,317.9 616.9,316.4 623,314.7 629.2,312.5 635.4,307 641.6,307 647.8,306.8 654,307 660.2,307.7 666.4,307.9 672.6,307.9" fill="none" stroke="#f08030" stroke-width="1.3"/>
<g fill="#fff" fill-opacity="0.85" stroke="#f08030" stroke-width="1"><rect x="323.2" y="314.4" width="5" height="5"/><rect x="329.4" y="312.4" width="5" height="5"/><rect x="335.6" y="309.8" width="5" height="5"/><rect x="341.8" y="308.5" width="5" height="5"/><rect x="348" y="307.6" width="5" height="5"/><rect x="354.2" y="307.6" width="5" height="5"/><rect x="360.4" y="308.5" width="5" height="5"/><rect x="366.6" y="310.9" width="5" height="5"/><rect x="372.8" y="313.7" width="5" height="5"/><rect x="379" y="312.8" width="5" height="5"/><rect x="385.1" y="311.5" width="5" height="5"/><rect x="391.3" y="310" width="5" height="5"/><rect x="397.5" y="309.8" width="5" height="5"/><rect x="403.7" y="310.4" width="5" height="5"/><rect x="409.9" y="313" width="5" height="5"/><rect x="416.1" y="315.2" width="5" height="5"/><rect x="422.3" y="316.8" width="5" height="5"/><rect x="428.5" y="317.4" width="5" height="5"/><rect x="434.7" y="318.1" width="5" height="5"/><rect x="440.9" y="318.1" width="5" height="5"/><rect x="447.1" y="329" width="5" height="5"/><rect x="453.3" y="338.8" width="5" height="5"/><rect x="459.5" y="354.1" width="5" height="5"/><rect x="465.7" y="370.4" width="5" height="5"/><rect x="471.9" y="383.5" width="5" height="5"/><rect x="478.1" y="394.8" width="5" height="5"/><rect x="484.3" y="402.2" width="5" height="5"/><rect x="490.5" y="409" width="5" height="5"/><rect x="496.7" y="413.6" width="5" height="5"/><rect x="502.8" y="414.7" width="5" height="5"/><rect x="509" y="409" width="5" height="5"/><rect x="515.2" y="400.1" width="5" height="5"/><rect x="521.4" y="392" width="5" height="5"/><rect x="527.6" y="382" width="5" height="5"/><rect x="533.8" y="367.4" width="5" height="5"/><rect x="540" y="350.6" width="5" height="5"/><rect x="546.2" y="337.7" width="5" height="5"/><rect x="552.4" y="329.4" width="5" height="5"/><rect x="558.6" y="324.2" width="5" height="5"/><rect x="564.8" y="313.7" width="5" height="5"/><rect x="571" y="313.5" width="5" height="5"/><rect x="577.2" y="313.9" width="5" height="5"/><rect x="583.4" y="314.8" width="5" height="5"/><rect x="589.6" y="315.9" width="5" height="5"/><rect x="595.8" y="316.1" width="5" height="5"/><rect x="602" y="316.1" width="5" height="5"/><rect x="608.2" y="315.4" width="5" height="5"/><rect x="614.4" y="313.9" width="5" height="5"/><rect x="620.5" y="312.2" width="5" height="5"/><rect x="626.7" y="310" width="5" height="5"/><rect x="632.9" y="304.5" width="5" height="5"/><rect x="639.1" y="304.5" width="5" height="5"/><rect x="645.3" y="304.3" width="5" height="5"/><rect x="651.5" y="304.5" width="5" height="5"/><rect x="657.7" y="305.2" width="5" height="5"/><rect x="663.9" y="305.4" width="5" height="5"/><rect x="670.1" y="305.4" width="5" height="5"/></g>
<path d="M455.8 488.9V497.7M452.8 488.9h6M452.8 497.7h6M462 476.1V484.8M459 476.1h6M459 484.8h6M468.2 461.5V470.2M465.2 461.5h6M465.2 470.2h6M474.4 447.1V458M471.4 447.1h6M471.4 458h6M480.6 436.6V449.7M477.6 436.6h6M477.6 449.7h6M486.8 431.8V442.7M483.8 431.8h6M483.8 442.7h6M493 430V441M490 430h6M490 441h6M499.2 431.1V442M496.2 431.1h6M496.2 442h6M505.3 436.4V445.1M502.3 436.4h6M502.3 445.1h6M511.5 442.5V453.4M508.5 442.5h6M508.5 453.4h6M517.7 449.5V462.5M514.7 449.5h6M514.7 462.5h6M523.9 458.8V471.9M520.9 458.8h6M520.9 471.9h6M530.1 469.3V482.4M527.1 469.3h6M527.1 482.4h6M536.3 475.2V490.5M533.3 475.2h6M533.3 490.5h6M542.5 486.8V499.8M539.5 486.8h6M539.5 499.8h6" stroke="#6cb46c" stroke-width="1" fill="none"/>
<polyline points="325.7,502.9 331.9,505.9 338.1,508.3 344.3,509.4 350.5,509.7 356.7,509 362.9,509 369.1,508.3 375.3,508.3 381.5,509 387.6,510.1 393.8,511 400,512.9 406.2,514 412.4,514.7 418.6,513.4 424.8,512.9 431,511.4 437.2,511 443.4,508.6 449.6,502.5 455.8,493.3 462,480.4 468.2,465.8 474.4,452.5 480.6,443.1 486.8,437.2 493,435.5 499.2,436.6 505.3,440.7 511.5,447.9 517.7,456 523.9,465.4 530.1,475.8 536.3,482.8 542.5,493.3 548.7,499.2 554.9,502.7 561.1,506.2 567.3,507.7 573.5,507.7 579.7,507.7 585.9,507.7 592.1,507.7 598.3,507.7 604.5,507.7 610.7,507.7 616.9,508.1 623,509.4 629.2,510.7 635.4,512.1 641.6,512.3 647.8,512.3 654,512.3 660.2,512.1 666.4,512.1 672.6,512.1" fill="none" stroke="#3c9c3c" stroke-width="1.3"/>
<g fill="#fff" fill-opacity="0.85" stroke="#3c9c3c" stroke-width="1"><circle cx="325.7" cy="502.9" r="3"/><circle cx="331.9" cy="505.9" r="3"/><circle cx="338.1" cy="508.3" r="3"/><circle cx="344.3" cy="509.4" r="3"/><circle cx="350.5" cy="509.7" r="3"/><circle cx="356.7" cy="509" r="3"/><circle cx="362.9" cy="509" r="3"/><circle cx="369.1" cy="508.3" r="3"/><circle cx="375.3" cy="508.3" r="3"/><circle cx="381.5" cy="509" r="3"/><circle cx="387.6" cy="510.1" r="3"/><circle cx="393.8" cy="511" r="3"/><circle cx="400" cy="512.9" r="3"/><circle cx="406.2" cy="514" r="3"/><circle cx="412.4" cy="514.7" r="3"/><circle cx="418.6" cy="513.4" r="3"/><circle cx="424.8" cy="512.9" r="3"/><circle cx="431" cy="511.4" r="3"/><circle cx="437.2" cy="511" r="3"/><circle cx="443.4" cy="508.6" r="3"/><circle cx="449.6" cy="502.5" r="3"/><circle cx="455.8" cy="493.3" r="3"/><circle cx="462" cy="480.4" r="3"/><circle cx="468.2" cy="465.8" r="3"/><circle cx="474.4" cy="452.5" r="3"/><circle cx="480.6" cy="443.1" r="3"/><circle cx="486.8" cy="437.2" r="3"/><circle cx="493" cy="435.5" r="3"/><circle cx="499.2" cy="436.6" r="3"/><circle cx="505.3" cy="440.7" r="3"/><circle cx="511.5" cy="447.9" r="3"/><circle cx="517.7" cy="456" r="3"/><circle cx="523.9" cy="465.4" r="3"/><circle cx="530.1" cy="475.8" r="3"/><circle cx="536.3" cy="482.8" r="3"/><circle cx="542.5" cy="493.3" r="3"/><circle cx="548.7" cy="499.2" r="3"/><circle cx="554.9" cy="502.7" r="3"/><circle cx="561.1" cy="506.2" r="3"/><circle cx="567.3" cy="507.7" r="3"/><circle cx="573.5" cy="507.7" r="3"/><circle cx="579.7" cy="507.7" r="3"/><circle cx="585.9" cy="507.7" r="3"/><circle cx="592.1" cy="507.7" r="3"/><circle cx="598.3" cy="507.7" r="3"/><circle cx="604.5" cy="507.7" r="3"/><circle cx="610.7" cy="507.7" r="3"/><circle cx="616.9" cy="508.1" r="3"/><circle cx="623" cy="509.4" r="3"/><circle cx="629.2" cy="510.7" r="3"/><circle cx="635.4" cy="512.1" r="3"/><circle cx="641.6" cy="512.3" r="3"/><circle cx="647.8" cy="512.3" r="3"/><circle cx="654" cy="512.3" r="3"/><circle cx="660.2" cy="512.1" r="3"/><circle cx="666.4" cy="512.1" r="3"/><circle cx="672.6" cy="512.1" r="3"/></g>
<path d="M480.6 490.9V499.6M477.6 490.9h6M477.6 499.6h6M486.8 487.8V496.6M483.8 487.8h6M483.8 496.6h6M493 482V492.9M490 482h6M490 492.9h6M499.2 477.4V490.5M496.2 477.4h6M496.2 490.5h6M505.3 473.9V487M502.3 473.9h6M502.3 487h6M511.5 471.1V486.3M508.5 471.1h6M508.5 486.3h6M517.7 471.7V484.8M514.7 471.7h6M514.7 484.8h6M523.9 471.1V484.1M520.9 471.1h6M520.9 484.1h6M530.1 468.2V483.5M527.1 468.2h6M527.1 483.5h6M536.3 473.9V487M533.3 473.9h6M533.3 487h6M542.5 483V491.8M539.5 483h6M539.5 491.8h6" stroke="#b4b480" stroke-width="1" fill="none"/>
<polyline points="325.7,516.9 331.9,517.3 338.1,516.6 344.3,517.1 350.5,516.9 356.7,516.4 362.9,516.9 369.1,516.9 375.3,516 381.5,516.4 387.6,516.6 393.8,516.9 400,517.1 406.2,517.3 412.4,517.5 418.6,517.3 424.8,517.1 431,517.3 437.2,517.7 443.4,517.9 449.6,512.1 455.8,507.9 462,504 468.2,500.7 474.4,498.1 480.6,495.3 486.8,492.2 493,487.4 499.2,483.9 505.3,480.4 511.5,478.7 517.7,478.2 523.9,477.6 530.1,475.8 536.3,480.4 542.5,487.4 548.7,498.1 554.9,502.7 561.1,506.2 567.3,516 573.5,516.9 579.7,516.9 585.9,516.9 592.1,516.9 598.3,516.9 604.5,516.9 610.7,516.9 616.9,516.9 623,516.9 629.2,516.9 635.4,516.9 641.6,516.9 647.8,516.9 654,516.9 660.2,516.9 666.4,516.9 672.6,516.9" fill="none" stroke="#9c9c50" stroke-width="1.3"/>
<g fill="#fff" fill-opacity="0.85" stroke="#9c9c50" stroke-width="1"><path d="M325.7 513.6l3.3 5.5h-6.6z"/><path d="M331.9 514l3.3 5.5h-6.6z"/><path d="M338.1 513.3l3.3 5.5h-6.6z"/><path d="M344.3 513.8l3.3 5.5h-6.6z"/><path d="M350.5 513.6l3.3 5.5h-6.6z"/><path d="M356.7 513.1l3.3 5.5h-6.6z"/><path d="M362.9 513.6l3.3 5.5h-6.6z"/><path d="M369.1 513.6l3.3 5.5h-6.6z"/><path d="M375.3 512.7l3.3 5.5h-6.6z"/><path d="M381.5 513.1l3.3 5.5h-6.6z"/><path d="M387.6 513.3l3.3 5.5h-6.6z"/><path d="M393.8 513.6l3.3 5.5h-6.6z"/><path d="M400 513.8l3.3 5.5h-6.6z"/><path d="M406.2 514l3.3 5.5h-6.6z"/><path d="M412.4 514.2l3.3 5.5h-6.6z"/><path d="M418.6 514l3.3 5.5h-6.6z"/><path d="M424.8 513.8l3.3 5.5h-6.6z"/><path d="M431 514l3.3 5.5h-6.6z"/><path d="M437.2 514.4l3.3 5.5h-6.6z"/><path d="M443.4 514.6l3.3 5.5h-6.6z"/><path d="M449.6 508.8l3.3 5.5h-6.6z"/><path d="M455.8 504.6l3.3 5.5h-6.6z"/><path d="M462 500.7l3.3 5.5h-6.6z"/><path d="M468.2 497.4l3.3 5.5h-6.6z"/><path d="M474.4 494.8l3.3 5.5h-6.6z"/><path d="M480.6 492l3.3 5.5h-6.6z"/><path d="M486.8 488.9l3.3 5.5h-6.6z"/><path d="M493 484.1l3.3 5.5h-6.6z"/><path d="M499.2 480.6l3.3 5.5h-6.6z"/><path d="M505.3 477.1l3.3 5.5h-6.6z"/><path d="M511.5 475.4l3.3 5.5h-6.6z"/><path d="M517.7 474.9l3.3 5.5h-6.6z"/><path d="M523.9 474.3l3.3 5.5h-6.6z"/><path d="M530.1 472.5l3.3 5.5h-6.6z"/><path d="M536.3 477.1l3.3 5.5h-6.6z"/><path d="M542.5 484.1l3.3 5.5h-6.6z"/><path d="M548.7 494.8l3.3 5.5h-6.6z"/><path d="M554.9 499.4l3.3 5.5h-6.6z"/><path d="M561.1 502.9l3.3 5.5h-6.6z"/><path d="M567.3 512.7l3.3 5.5h-6.6z"/><path d="M573.5 513.6l3.3 5.5h-6.6z"/><path d="M579.7 513.6l3.3 5.5h-6.6z"/><path d="M585.9 513.6l3.3 5.5h-6.6z"/><path d="M592.1 513.6l3.3 5.5h-6.6z"/><path d="M598.3 513.6l3.3 5.5h-6.6z"/><path d="M604.5 513.6l3.3 5.5h-6.6z"/><path d="M610.7 513.6l3.3 5.5h-6.6z"/><path d="M616.9 513.6l3.3 5.5h-6.6z"/><path d="M623 513.6l3.3 5.5h-6.6z"/><path d="M629.2 513.6l3.3 5.5h-6.6z"/><path d="M635.4 513.6l3.3 5.5h-6.6z"/><path d="M641.6 513.6l3.3 5.5h-6.6z"/><path d="M647.8 513.6l3.3 5.5h-6.6z"/><path d="M654 513.6l3.3 5.5h-6.6z"/><path d="M660.2 513.6l3.3 5.5h-6.6z"/><path d="M666.4 513.6l3.3 5.5h-6.6z"/><path d="M672.6 513.6l3.3 5.5h-6.6z"/></g>
<polyline points="325.7,518.6 331.9,518.6 338.1,518.6 344.3,518.4 350.5,518.6 356.7,518.4 362.9,518.2 369.1,516.2 375.3,514.7 381.5,514.5 387.6,514 393.8,513.4 400,512.7 406.2,510.1 412.4,509 418.6,507.3 424.8,505.3 431,504.4 437.2,505.3 443.4,506.6 449.6,507.9 455.8,511 462,512.9 468.2,516 474.4,517.9 480.6,517.9 486.8,517.9 493,517.9 499.2,517.9 505.3,517.9 511.5,517.9 517.7,517.9 523.9,517.9 530.1,517.9 536.3,517.9 542.5,517.9 548.7,517.9 554.9,517.9 561.1,517.9 567.3,512.1 573.5,511.6 579.7,511.2 585.9,511 592.1,510.3 598.3,509.4 604.5,508.8 610.7,508.8 616.9,509.4 623,510.3 629.2,511.4 635.4,514.2 641.6,517.5 647.8,517.9 654,517.9 660.2,517.9 666.4,517.9 672.6,517.9" fill="none" stroke="#2828f5" stroke-width="1.3"/>
<g fill="#fff" fill-opacity="0.85" stroke="#2828f5" stroke-width="1"><path d="M325.7 521.9l-3.3 -5.5h6.6z"/><path d="M331.9 521.9l-3.3 -5.5h6.6z"/><path d="M338.1 521.9l-3.3 -5.5h6.6z"/><path d="M344.3 521.7l-3.3 -5.5h6.6z"/><path d="M350.5 521.9l-3.3 -5.5h6.6z"/><path d="M356.7 521.7l-3.3 -5.5h6.6z"/><path d="M362.9 521.5l-3.3 -5.5h6.6z"/><path d="M369.1 519.5l-3.3 -5.5h6.6z"/><path d="M375.3 518l-3.3 -5.5h6.6z"/><path d="M381.5 517.8l-3.3 -5.5h6.6z"/><path d="M387.6 517.3l-3.3 -5.5h6.6z"/><path d="M393.8 516.7l-3.3 -5.5h6.6z"/><path d="M400 516l-3.3 -5.5h6.6z"/><path d="M406.2 513.4l-3.3 -5.5h6.6z"/><path d="M412.4 512.3l-3.3 -5.5h6.6z"/><path d="M418.6 510.6l-3.3 -5.5h6.6z"/><path d="M424.8 508.6l-3.3 -5.5h6.6z"/><path d="M431 507.7l-3.3 -5.5h6.6z"/><path d="M437.2 508.6l-3.3 -5.5h6.6z"/><path d="M443.4 509.9l-3.3 -5.5h6.6z"/><path d="M449.6 511.2l-3.3 -5.5h6.6z"/><path d="M455.8 514.3l-3.3 -5.5h6.6z"/><path d="M462 516.2l-3.3 -5.5h6.6z"/><path d="M468.2 519.3l-3.3 -5.5h6.6z"/><path d="M474.4 521.2l-3.3 -5.5h6.6z"/><path d="M480.6 521.2l-3.3 -5.5h6.6z"/><path d="M486.8 521.2l-3.3 -5.5h6.6z"/><path d="M493 521.2l-3.3 -5.5h6.6z"/><path d="M499.2 521.2l-3.3 -5.5h6.6z"/><path d="M505.3 521.2l-3.3 -5.5h6.6z"/><path d="M511.5 521.2l-3.3 -5.5h6.6z"/><path d="M517.7 521.2l-3.3 -5.5h6.6z"/><path d="M523.9 521.2l-3.3 -5.5h6.6z"/><path d="M530.1 521.2l-3.3 -5.5h6.6z"/><path d="M536.3 521.2l-3.3 -5.5h6.6z"/><path d="M542.5 521.2l-3.3 -5.5h6.6z"/><path d="M548.7 521.2l-3.3 -5.5h6.6z"/><path d="M554.9 521.2l-3.3 -5.5h6.6z"/><path d="M561.1 521.2l-3.3 -5.5h6.6z"/><path d="M567.3 515.4l-3.3 -5.5h6.6z"/><path d="M573.5 514.9l-3.3 -5.5h6.6z"/><path d="M579.7 514.5l-3.3 -5.5h6.6z"/><path d="M585.9 514.3l-3.3 -5.5h6.6z"/><path d="M592.1 513.6l-3.3 -5.5h6.6z"/><path d="M598.3 512.7l-3.3 -5.5h6.6z"/><path d="M604.5 512.1l-3.3 -5.5h6.6z"/><path d="M610.7 512.1l-3.3 -5.5h6.6z"/><path d="M616.9 512.7l-3.3 -5.5h6.6z"/><path d="M623 513.6l-3.3 -5.5h6.6z"/><path d="M629.2 514.7l-3.3 -5.5h6.6z"/><path d="M635.4 517.5l-3.3 -5.5h6.6z"/><path d="M641.6 520.8l-3.3 -5.5h6.6z"/><path d="M647.8 521.2l-3.3 -5.5h6.6z"/><path d="M654 521.2l-3.3 -5.5h6.6z"/><path d="M660.2 521.2l-3.3 -5.5h6.6z"/><path d="M666.4 521.2l-3.3 -5.5h6.6z"/><path d="M672.6 521.2l-3.3 -5.5h6.6z"/></g>
<text x="455.9" y="315.7" font-size="15" fill="#1c1cf2">The forefront of</text>
<text x="459.2" y="334.4" font-size="15" fill="#1c1cf2">grain boundary</text>
<text x="358.8" y="483.1" font-size="15" fill="#2020f0">Mg aggregation</text>
<text x="599" y="490" font-size="11.9" fill="#2020f0">Mg aggregation</text>
<path d="M404.3 488.4L410.3 498.9" stroke="#2020f0" stroke-width="1.2"/><path d="M411.6 501.2l-3.9-2.4 3.3-2z" fill="#2020f0" stroke="#2020f0" stroke-width="1"/>
<path d="M601.6 496.5L595.8 505.2" stroke="#2020f0" stroke-width="1.2"/><path d="M594.3 507.4l0.4-4.6 3.2 2.1z" fill="#2020f0" stroke="#2020f0" stroke-width="1"/>
<rect x="625.3" y="495.9" width="48.7" height="26.1" fill="none" stroke="#d42020" stroke-width="1.7" stroke-dasharray="5 2.5"/>
<path d="M548.5 431.5L625.3 522M674 495.9L672.2 434" stroke="#d42020" stroke-width="1.5" stroke-dasharray="4 2.5" fill="none"/>
<path d="M322.6 300.5H678.8" stroke="#1a1a1a" stroke-width="1.6"/>
<path d="M322.6 300.5V529.5" stroke="#1a1a1a" stroke-width="1.6"/>
<path d="M321.8 529.5H679.6 M678.8 299.7V529.5" stroke="#1a1a1a" stroke-width="1.6" fill="none"/>
<path d="M330.3 529.5v-2M369.1 529.5v-3.5M407.8 529.5v-2M446.5 529.5v-3.5M485.2 529.5v-2M523.9 529.5v-3.5M562.6 529.5v-2M601.4 529.5v-3.5M640.1 529.5v-2M322.6 496.8h2M322.6 475h3.5M322.6 453.2h2M322.6 431.4h3.5M322.6 409.5h2M322.6 387.7h3.5M322.6 365.9h2M322.6 344.1h3.5M322.6 322.3h2M322.6 518.6h3.5" stroke="#222" stroke-width="1.2"/>
<text x="369.1" y="546.7" font-size="15" text-anchor="middle">5</text>
<text x="446.5" y="546.7" font-size="15" text-anchor="middle">10</text>
<text x="523.9" y="546.7" font-size="15" text-anchor="middle">15</text>
<text x="601.4" y="546.7" font-size="15" text-anchor="middle">20</text>
<text x="678.8" y="546.7" font-size="15" text-anchor="middle">25</text>
<text x="317.6" y="523.3" font-size="15" text-anchor="end">0</text>
<text x="317.6" y="479.7" font-size="15" text-anchor="end">20</text>
<text x="317.6" y="436.1" font-size="15" text-anchor="end">40</text>
<text x="317.6" y="392.4" font-size="15" text-anchor="end">60</text>
<text x="317.6" y="348.8" font-size="15" text-anchor="end">80</text>
<text x="317.6" y="305.2" font-size="15" text-anchor="end">100</text>
<text x="499.8" y="564.6" font-size="19.4" text-anchor="middle">Distance (nm)</text>
<text transform="translate(292.6 413.5) rotate(-90)" font-size="19.3" text-anchor="middle">Concentration (at%)</text>
<path d="M338.9 387.2H372.5" stroke="#f08030" stroke-width="1.3"/>
<rect x="353.2" y="384.7" width="5" height="5" fill="#fff" stroke="#f08030"/>
<text x="376.8" y="392.1" font-size="14.5">Cu</text>
<path d="M338.9 405.8H372.5" stroke="#3c9c3c" stroke-width="1.3"/>
<circle cx="355.7" cy="405.8" r="3" fill="#fff" stroke="#3c9c3c"/>
<text x="376.8" y="410.6" font-size="14.5">Be</text>
<path d="M338.9 424.3H372.5" stroke="#9c9c50" stroke-width="1.3"/>
<path d="M355.7 421l3.3 5.5h-6.6z" fill="#fff" stroke="#9c9c50"/>
<text x="376.8" y="429.2" font-size="14.5">Ni</text>
<path d="M338.9 442.9H372.5" stroke="#2828f5" stroke-width="1.3"/>
<path d="M355.7 446.2l-3.3 -5.5h6.6z" fill="#fff" stroke="#2828f5"/>
<text x="376.8" y="447.8" font-size="14.5">Mg</text>
<rect x="553" y="379.4" width="115.5" height="46.8" fill="url(#gdi)" stroke="#8a8a8a" stroke-width="1"/>
<path d="M553 379.4V426.2H668.5" stroke="#333" stroke-width="1" fill="none"/>
<text x="557.8" y="387.5" font-size="8.5" fill="#2a2af2">The forefront of grain boundary</text>
<polyline points="553,380.1 557,406.8 574.9,396.8 590.9,403.5 609.2,406.1 628.4,394.1 645.3,393.4 668.5,392.1" fill="none" stroke="#5a5af5" stroke-width="1"/>
<text x="550.8" y="429.2" font-size="8.6" text-anchor="end" fill="#222">0.0</text>
<path d="M553 426.2h2" stroke="#333" stroke-width="0.8"/>
<text x="550.8" y="415.8" font-size="8.6" text-anchor="end" fill="#222">0.2</text>
<path d="M553 412.8h2" stroke="#333" stroke-width="0.8"/>
<text x="550.8" y="402.5" font-size="8.6" text-anchor="end" fill="#222">0.4</text>
<path d="M553 399.5h2" stroke="#333" stroke-width="0.8"/>
<text x="550.8" y="389.1" font-size="8.6" text-anchor="end" fill="#222">0.6</text>
<path d="M553 386.1h2" stroke="#333" stroke-width="0.8"/>
<text x="570.8" y="434.8" font-size="8.6" text-anchor="middle" fill="#222">22.5</text>
<path d="M570.8 426.2v-2" stroke="#333" stroke-width="0.8"/>
<text x="593.1" y="434.8" font-size="8.6" text-anchor="middle" fill="#222">23.0</text>
<path d="M593.1 426.2v-2" stroke="#333" stroke-width="0.8"/>
<text x="615.4" y="434.8" font-size="8.6" text-anchor="middle" fill="#222">23.5</text>
<path d="M615.4 426.2v-2" stroke="#333" stroke-width="0.8"/>
<text x="637.7" y="434.8" font-size="8.6" text-anchor="middle" fill="#222">24.0</text>
<path d="M637.7 426.2v-2" stroke="#333" stroke-width="0.8"/>
<text x="660" y="434.8" font-size="8.6" text-anchor="middle" fill="#222">24.5</text>
<path d="M660 426.2v-2" stroke="#333" stroke-width="0.8"/>
<path d="M639.8 400.8h15" stroke="#5a5af5" stroke-width="1"/>
<text x="656.3" y="403.4" font-size="7.5" fill="#222">Mg</text>
<text x="571.2" y="412.3" font-size="8.6" fill="#f02a2a">Average Mg concentration</text>
<text x="571.2" y="422.8" font-size="8.6" fill="#f02a2a">inside the grain：0.41 at%</text>
</svg>
</body></html>
